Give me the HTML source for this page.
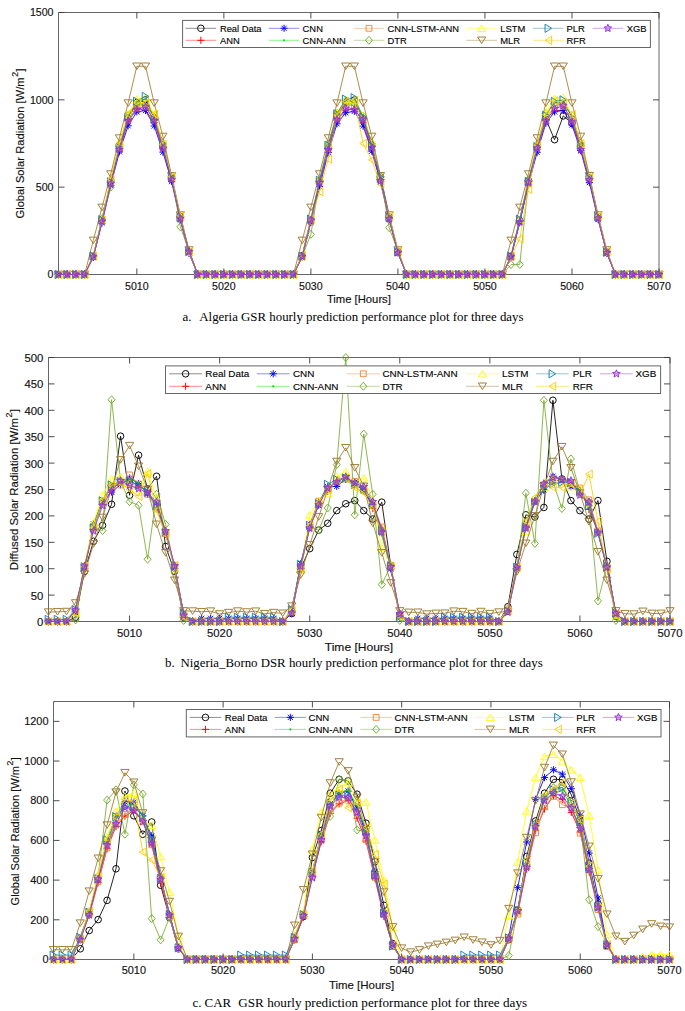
<!DOCTYPE html>
<html><head><meta charset="utf-8"><style>
html,body{margin:0;padding:0;background:#fff;}
svg{display:block;}
text{font-family:"Liberation Sans",sans-serif;stroke:#111;stroke-width:0.14px;}
.cap text{font-family:"Liberation Serif",serif;font-size:13px;fill:#000;stroke:none;}
</style></head><body>
<svg width="685" height="1011" viewBox="0 0 685 1011">
<rect width="685" height="1011" fill="#fff"/>
<path d="M58.5,12.5H659V274.5H58.5Z" fill="none" stroke="#666666" stroke-width="1"/>
<path d="M136.83,274.5v-6M136.83,12.5v6M223.86,274.5v-6M223.86,12.5v6M310.88,274.5v-6M310.88,12.5v6M397.91,274.5v-6M397.91,12.5v6M484.94,274.5v-6M484.94,12.5v6M571.97,274.5v-6M571.97,12.5v6M659,274.5v-6M659,12.5v6M58.5,274.5h6M659,274.5h-6M58.5,187.17h6M659,187.17h-6M58.5,99.83h6M659,99.83h-6M58.5,12.5h6M659,12.5h-6" fill="none" stroke="#3a3a3a" stroke-width="0.9"/>
<g>
<path d="M58.5,274.5 L67.2,274.5 L75.91,274.5 L84.61,274.5 L93.31,256.55 L102.01,219.7 L110.72,180.93 L119.42,145.63 L128.12,118.79 L136.83,102.53 L145.53,99.71 L154.23,118.54 L162.93,147.08 L171.64,178.76 L180.34,216.52 L189.04,251.61 L197.75,274.5 L206.45,274.5 L215.15,274.5 L223.86,274.5 L232.56,274.5 L241.26,274.5 L249.96,274.5 L258.67,274.5 L267.37,274.5 L276.07,274.5 L284.78,274.5 L293.48,274.5 L302.18,255.74 L310.88,220.4 L319.59,181.55 L328.29,148.26 L336.99,116.01 L345.7,102.07 L354.4,99.98 L363.1,118.2 L371.8,145 L380.51,177.05 L389.21,216.89 L397.91,251.94 L406.62,274.5 L415.32,274.5 L424.02,274.5 L432.72,274.5 L441.43,274.5 L450.13,274.5 L458.83,274.5 L467.54,274.5 L476.24,274.5 L484.94,274.5 L493.64,274.5 L502.35,274.5 L511.05,256.29 L519.75,220.52 L528.46,180.75 L537.16,146.29 L545.86,119.05 L554.57,139.66 L563.27,115.9 L571.97,123.24 L580.67,145.69 L589.38,178.13 L598.08,216.6 L606.78,251.92 L615.49,274.5 L624.19,274.5 L632.89,274.5 L641.59,274.5 L650.3,274.5 L659,274.5" fill="none" stroke="#000000" stroke-width="0.85" stroke-linejoin="round"/>
<path d="M55.2,274.5a3.3,3.3 0 1,0 6.6,0a3.3,3.3 0 1,0 -6.6,0M63.9,274.5a3.3,3.3 0 1,0 6.6,0a3.3,3.3 0 1,0 -6.6,0M72.61,274.5a3.3,3.3 0 1,0 6.6,0a3.3,3.3 0 1,0 -6.6,0M81.31,274.5a3.3,3.3 0 1,0 6.6,0a3.3,3.3 0 1,0 -6.6,0M90.01,256.55a3.3,3.3 0 1,0 6.6,0a3.3,3.3 0 1,0 -6.6,0M98.71,219.7a3.3,3.3 0 1,0 6.6,0a3.3,3.3 0 1,0 -6.6,0M107.42,180.93a3.3,3.3 0 1,0 6.6,0a3.3,3.3 0 1,0 -6.6,0M116.12,145.63a3.3,3.3 0 1,0 6.6,0a3.3,3.3 0 1,0 -6.6,0M124.82,118.79a3.3,3.3 0 1,0 6.6,0a3.3,3.3 0 1,0 -6.6,0M133.53,102.53a3.3,3.3 0 1,0 6.6,0a3.3,3.3 0 1,0 -6.6,0M142.23,99.71a3.3,3.3 0 1,0 6.6,0a3.3,3.3 0 1,0 -6.6,0M150.93,118.54a3.3,3.3 0 1,0 6.6,0a3.3,3.3 0 1,0 -6.6,0M159.63,147.08a3.3,3.3 0 1,0 6.6,0a3.3,3.3 0 1,0 -6.6,0M168.34,178.76a3.3,3.3 0 1,0 6.6,0a3.3,3.3 0 1,0 -6.6,0M177.04,216.52a3.3,3.3 0 1,0 6.6,0a3.3,3.3 0 1,0 -6.6,0M185.74,251.61a3.3,3.3 0 1,0 6.6,0a3.3,3.3 0 1,0 -6.6,0M194.45,274.5a3.3,3.3 0 1,0 6.6,0a3.3,3.3 0 1,0 -6.6,0M203.15,274.5a3.3,3.3 0 1,0 6.6,0a3.3,3.3 0 1,0 -6.6,0M211.85,274.5a3.3,3.3 0 1,0 6.6,0a3.3,3.3 0 1,0 -6.6,0M220.56,274.5a3.3,3.3 0 1,0 6.6,0a3.3,3.3 0 1,0 -6.6,0M229.26,274.5a3.3,3.3 0 1,0 6.6,0a3.3,3.3 0 1,0 -6.6,0M237.96,274.5a3.3,3.3 0 1,0 6.6,0a3.3,3.3 0 1,0 -6.6,0M246.66,274.5a3.3,3.3 0 1,0 6.6,0a3.3,3.3 0 1,0 -6.6,0M255.37,274.5a3.3,3.3 0 1,0 6.6,0a3.3,3.3 0 1,0 -6.6,0M264.07,274.5a3.3,3.3 0 1,0 6.6,0a3.3,3.3 0 1,0 -6.6,0M272.77,274.5a3.3,3.3 0 1,0 6.6,0a3.3,3.3 0 1,0 -6.6,0M281.48,274.5a3.3,3.3 0 1,0 6.6,0a3.3,3.3 0 1,0 -6.6,0M290.18,274.5a3.3,3.3 0 1,0 6.6,0a3.3,3.3 0 1,0 -6.6,0M298.88,255.74a3.3,3.3 0 1,0 6.6,0a3.3,3.3 0 1,0 -6.6,0M307.58,220.4a3.3,3.3 0 1,0 6.6,0a3.3,3.3 0 1,0 -6.6,0M316.29,181.55a3.3,3.3 0 1,0 6.6,0a3.3,3.3 0 1,0 -6.6,0M324.99,148.26a3.3,3.3 0 1,0 6.6,0a3.3,3.3 0 1,0 -6.6,0M333.69,116.01a3.3,3.3 0 1,0 6.6,0a3.3,3.3 0 1,0 -6.6,0M342.4,102.07a3.3,3.3 0 1,0 6.6,0a3.3,3.3 0 1,0 -6.6,0M351.1,99.98a3.3,3.3 0 1,0 6.6,0a3.3,3.3 0 1,0 -6.6,0M359.8,118.2a3.3,3.3 0 1,0 6.6,0a3.3,3.3 0 1,0 -6.6,0M368.5,145a3.3,3.3 0 1,0 6.6,0a3.3,3.3 0 1,0 -6.6,0M377.21,177.05a3.3,3.3 0 1,0 6.6,0a3.3,3.3 0 1,0 -6.6,0M385.91,216.89a3.3,3.3 0 1,0 6.6,0a3.3,3.3 0 1,0 -6.6,0M394.61,251.94a3.3,3.3 0 1,0 6.6,0a3.3,3.3 0 1,0 -6.6,0M403.32,274.5a3.3,3.3 0 1,0 6.6,0a3.3,3.3 0 1,0 -6.6,0M412.02,274.5a3.3,3.3 0 1,0 6.6,0a3.3,3.3 0 1,0 -6.6,0M420.72,274.5a3.3,3.3 0 1,0 6.6,0a3.3,3.3 0 1,0 -6.6,0M429.42,274.5a3.3,3.3 0 1,0 6.6,0a3.3,3.3 0 1,0 -6.6,0M438.13,274.5a3.3,3.3 0 1,0 6.6,0a3.3,3.3 0 1,0 -6.6,0M446.83,274.5a3.3,3.3 0 1,0 6.6,0a3.3,3.3 0 1,0 -6.6,0M455.53,274.5a3.3,3.3 0 1,0 6.6,0a3.3,3.3 0 1,0 -6.6,0M464.24,274.5a3.3,3.3 0 1,0 6.6,0a3.3,3.3 0 1,0 -6.6,0M472.94,274.5a3.3,3.3 0 1,0 6.6,0a3.3,3.3 0 1,0 -6.6,0M481.64,274.5a3.3,3.3 0 1,0 6.6,0a3.3,3.3 0 1,0 -6.6,0M490.34,274.5a3.3,3.3 0 1,0 6.6,0a3.3,3.3 0 1,0 -6.6,0M499.05,274.5a3.3,3.3 0 1,0 6.6,0a3.3,3.3 0 1,0 -6.6,0M507.75,256.29a3.3,3.3 0 1,0 6.6,0a3.3,3.3 0 1,0 -6.6,0M516.45,220.52a3.3,3.3 0 1,0 6.6,0a3.3,3.3 0 1,0 -6.6,0M525.16,180.75a3.3,3.3 0 1,0 6.6,0a3.3,3.3 0 1,0 -6.6,0M533.86,146.29a3.3,3.3 0 1,0 6.6,0a3.3,3.3 0 1,0 -6.6,0M542.56,119.05a3.3,3.3 0 1,0 6.6,0a3.3,3.3 0 1,0 -6.6,0M551.27,139.66a3.3,3.3 0 1,0 6.6,0a3.3,3.3 0 1,0 -6.6,0M559.97,115.9a3.3,3.3 0 1,0 6.6,0a3.3,3.3 0 1,0 -6.6,0M568.67,123.24a3.3,3.3 0 1,0 6.6,0a3.3,3.3 0 1,0 -6.6,0M577.37,145.69a3.3,3.3 0 1,0 6.6,0a3.3,3.3 0 1,0 -6.6,0M586.08,178.13a3.3,3.3 0 1,0 6.6,0a3.3,3.3 0 1,0 -6.6,0M594.78,216.6a3.3,3.3 0 1,0 6.6,0a3.3,3.3 0 1,0 -6.6,0M603.48,251.92a3.3,3.3 0 1,0 6.6,0a3.3,3.3 0 1,0 -6.6,0M612.19,274.5a3.3,3.3 0 1,0 6.6,0a3.3,3.3 0 1,0 -6.6,0M620.89,274.5a3.3,3.3 0 1,0 6.6,0a3.3,3.3 0 1,0 -6.6,0M629.59,274.5a3.3,3.3 0 1,0 6.6,0a3.3,3.3 0 1,0 -6.6,0M638.29,274.5a3.3,3.3 0 1,0 6.6,0a3.3,3.3 0 1,0 -6.6,0M647,274.5a3.3,3.3 0 1,0 6.6,0a3.3,3.3 0 1,0 -6.6,0M655.7,274.5a3.3,3.3 0 1,0 6.6,0a3.3,3.3 0 1,0 -6.6,0" fill="none" stroke="#000000" stroke-width="0.95"/>
<path d="M58.5,274.5 L67.2,274.5 L75.91,274.5 L84.61,274.5 L93.31,257.08 L102.01,220.23 L110.72,183.04 L119.42,150.38 L128.12,120.77 L136.83,108.64 L145.53,110.29 L154.23,122.43 L162.93,148.71 L171.64,179.94 L180.34,219.01 L189.04,252.85 L197.75,274.5 L206.45,274.5 L215.15,274.5 L223.86,274.5 L232.56,274.5 L241.26,274.5 L249.96,274.5 L258.67,274.5 L267.37,274.5 L276.07,274.5 L284.78,274.5 L293.48,274.5 L302.18,256.4 L310.88,220.95 L319.59,182.51 L328.29,149.6 L336.99,120.37 L345.7,110.17 L354.4,108.23 L363.1,122.77 L371.8,149.66 L380.51,181.18 L389.21,219.51 L397.91,252.46 L406.62,274.5 L415.32,274.5 L424.02,274.5 L432.72,274.5 L441.43,274.5 L450.13,274.5 L458.83,274.5 L467.54,274.5 L476.24,274.5 L484.94,274.5 L493.64,274.5 L502.35,274.5 L511.05,256.78 L519.75,221.25 L528.46,182.68 L537.16,149.18 L545.86,119.29 L554.57,110.7 L563.27,110.23 L571.97,119.13 L580.67,147.78 L589.38,178.89 L598.08,217.65 L606.78,253.18 L615.49,274.5 L624.19,274.5 L632.89,274.5 L641.59,274.5 L650.3,274.5 L659,274.5" fill="none" stroke="#ff0000" stroke-width="0.85" stroke-linejoin="round"/>
<path d="M54.9,274.5h7.2M58.5,270.9v7.2M63.6,274.5h7.2M67.2,270.9v7.2M72.31,274.5h7.2M75.91,270.9v7.2M81.01,274.5h7.2M84.61,270.9v7.2M89.71,257.08h7.2M93.31,253.48v7.2M98.41,220.23h7.2M102.01,216.63v7.2M107.12,183.04h7.2M110.72,179.44v7.2M115.82,150.38h7.2M119.42,146.78v7.2M124.52,120.77h7.2M128.12,117.17v7.2M133.23,108.64h7.2M136.83,105.04v7.2M141.93,110.29h7.2M145.53,106.69v7.2M150.63,122.43h7.2M154.23,118.83v7.2M159.33,148.71h7.2M162.93,145.11v7.2M168.04,179.94h7.2M171.64,176.34v7.2M176.74,219.01h7.2M180.34,215.41v7.2M185.44,252.85h7.2M189.04,249.25v7.2M194.15,274.5h7.2M197.75,270.9v7.2M202.85,274.5h7.2M206.45,270.9v7.2M211.55,274.5h7.2M215.15,270.9v7.2M220.26,274.5h7.2M223.86,270.9v7.2M228.96,274.5h7.2M232.56,270.9v7.2M237.66,274.5h7.2M241.26,270.9v7.2M246.36,274.5h7.2M249.96,270.9v7.2M255.07,274.5h7.2M258.67,270.9v7.2M263.77,274.5h7.2M267.37,270.9v7.2M272.47,274.5h7.2M276.07,270.9v7.2M281.18,274.5h7.2M284.78,270.9v7.2M289.88,274.5h7.2M293.48,270.9v7.2M298.58,256.4h7.2M302.18,252.8v7.2M307.28,220.95h7.2M310.88,217.35v7.2M315.99,182.51h7.2M319.59,178.91v7.2M324.69,149.6h7.2M328.29,146v7.2M333.39,120.37h7.2M336.99,116.77v7.2M342.1,110.17h7.2M345.7,106.57v7.2M350.8,108.23h7.2M354.4,104.63v7.2M359.5,122.77h7.2M363.1,119.17v7.2M368.2,149.66h7.2M371.8,146.06v7.2M376.91,181.18h7.2M380.51,177.58v7.2M385.61,219.51h7.2M389.21,215.91v7.2M394.31,252.46h7.2M397.91,248.86v7.2M403.02,274.5h7.2M406.62,270.9v7.2M411.72,274.5h7.2M415.32,270.9v7.2M420.42,274.5h7.2M424.02,270.9v7.2M429.12,274.5h7.2M432.72,270.9v7.2M437.83,274.5h7.2M441.43,270.9v7.2M446.53,274.5h7.2M450.13,270.9v7.2M455.23,274.5h7.2M458.83,270.9v7.2M463.94,274.5h7.2M467.54,270.9v7.2M472.64,274.5h7.2M476.24,270.9v7.2M481.34,274.5h7.2M484.94,270.9v7.2M490.04,274.5h7.2M493.64,270.9v7.2M498.75,274.5h7.2M502.35,270.9v7.2M507.45,256.78h7.2M511.05,253.18v7.2M516.15,221.25h7.2M519.75,217.65v7.2M524.86,182.68h7.2M528.46,179.08v7.2M533.56,149.18h7.2M537.16,145.58v7.2M542.26,119.29h7.2M545.86,115.69v7.2M550.97,110.7h7.2M554.57,107.1v7.2M559.67,110.23h7.2M563.27,106.63v7.2M568.37,119.13h7.2M571.97,115.53v7.2M577.07,147.78h7.2M580.67,144.18v7.2M585.78,178.89h7.2M589.38,175.29v7.2M594.48,217.65h7.2M598.08,214.05v7.2M603.18,253.18h7.2M606.78,249.58v7.2M611.89,274.5h7.2M615.49,270.9v7.2M620.59,274.5h7.2M624.19,270.9v7.2M629.29,274.5h7.2M632.89,270.9v7.2M637.99,274.5h7.2M641.59,270.9v7.2M646.7,274.5h7.2M650.3,270.9v7.2M655.4,274.5h7.2M659,270.9v7.2" fill="none" stroke="#ff0000" stroke-width="0.95"/>
<path d="M58.5,274.5 L67.2,274.5 L75.91,274.5 L84.61,274.5 L93.31,257.12 L102.01,222.87 L110.72,185.44 L119.42,151.86 L128.12,125.76 L136.83,111.86 L145.53,110.55 L154.23,125.98 L162.93,152.12 L171.64,181.56 L180.34,219.96 L189.04,253.19 L197.75,274.5 L206.45,274.5 L215.15,274.5 L223.86,274.5 L232.56,274.5 L241.26,274.5 L249.96,274.5 L258.67,274.5 L267.37,274.5 L276.07,274.5 L284.78,274.5 L293.48,274.5 L302.18,257.12 L310.88,222.35 L319.59,186.62 L328.29,152.53 L336.99,123.77 L345.7,112.76 L354.4,111.23 L363.1,126.09 L371.8,151.16 L380.51,182.09 L389.21,219.12 L397.91,252.73 L406.62,274.5 L415.32,274.5 L424.02,274.5 L432.72,274.5 L441.43,274.5 L450.13,274.5 L458.83,274.5 L467.54,274.5 L476.24,274.5 L484.94,274.5 L493.64,274.5 L502.35,274.5 L511.05,256.53 L519.75,222.64 L528.46,184.46 L537.16,152.28 L545.86,123.21 L554.57,111.83 L563.27,110.47 L571.97,124.91 L580.67,150.6 L589.38,182.58 L598.08,219.55 L606.78,252.96 L615.49,274.5 L624.19,274.5 L632.89,274.5 L641.59,274.5 L650.3,274.5 L659,274.5" fill="none" stroke="#0000ff" stroke-width="0.85" stroke-linejoin="round"/>
<path d="M54.9,274.5h7.2M58.5,270.9v7.2M55.9,271.9l5.2,5.2M55.9,277.1l5.2,-5.2M63.6,274.5h7.2M67.2,270.9v7.2M64.6,271.9l5.2,5.2M64.6,277.1l5.2,-5.2M72.31,274.5h7.2M75.91,270.9v7.2M73.31,271.9l5.2,5.2M73.31,277.1l5.2,-5.2M81.01,274.5h7.2M84.61,270.9v7.2M82.01,271.9l5.2,5.2M82.01,277.1l5.2,-5.2M89.71,257.12h7.2M93.31,253.52v7.2M90.71,254.52l5.2,5.2M90.71,259.72l5.2,-5.2M98.41,222.87h7.2M102.01,219.27v7.2M99.41,220.27l5.2,5.2M99.41,225.47l5.2,-5.2M107.12,185.44h7.2M110.72,181.84v7.2M108.12,182.84l5.2,5.2M108.12,188.04l5.2,-5.2M115.82,151.86h7.2M119.42,148.26v7.2M116.82,149.26l5.2,5.2M116.82,154.46l5.2,-5.2M124.52,125.76h7.2M128.12,122.16v7.2M125.52,123.16l5.2,5.2M125.52,128.36l5.2,-5.2M133.23,111.86h7.2M136.83,108.26v7.2M134.23,109.26l5.2,5.2M134.23,114.46l5.2,-5.2M141.93,110.55h7.2M145.53,106.95v7.2M142.93,107.95l5.2,5.2M142.93,113.15l5.2,-5.2M150.63,125.98h7.2M154.23,122.38v7.2M151.63,123.38l5.2,5.2M151.63,128.58l5.2,-5.2M159.33,152.12h7.2M162.93,148.52v7.2M160.33,149.52l5.2,5.2M160.33,154.72l5.2,-5.2M168.04,181.56h7.2M171.64,177.96v7.2M169.04,178.96l5.2,5.2M169.04,184.16l5.2,-5.2M176.74,219.96h7.2M180.34,216.36v7.2M177.74,217.36l5.2,5.2M177.74,222.56l5.2,-5.2M185.44,253.19h7.2M189.04,249.59v7.2M186.44,250.59l5.2,5.2M186.44,255.79l5.2,-5.2M194.15,274.5h7.2M197.75,270.9v7.2M195.15,271.9l5.2,5.2M195.15,277.1l5.2,-5.2M202.85,274.5h7.2M206.45,270.9v7.2M203.85,271.9l5.2,5.2M203.85,277.1l5.2,-5.2M211.55,274.5h7.2M215.15,270.9v7.2M212.55,271.9l5.2,5.2M212.55,277.1l5.2,-5.2M220.26,274.5h7.2M223.86,270.9v7.2M221.26,271.9l5.2,5.2M221.26,277.1l5.2,-5.2M228.96,274.5h7.2M232.56,270.9v7.2M229.96,271.9l5.2,5.2M229.96,277.1l5.2,-5.2M237.66,274.5h7.2M241.26,270.9v7.2M238.66,271.9l5.2,5.2M238.66,277.1l5.2,-5.2M246.36,274.5h7.2M249.96,270.9v7.2M247.36,271.9l5.2,5.2M247.36,277.1l5.2,-5.2M255.07,274.5h7.2M258.67,270.9v7.2M256.07,271.9l5.2,5.2M256.07,277.1l5.2,-5.2M263.77,274.5h7.2M267.37,270.9v7.2M264.77,271.9l5.2,5.2M264.77,277.1l5.2,-5.2M272.47,274.5h7.2M276.07,270.9v7.2M273.47,271.9l5.2,5.2M273.47,277.1l5.2,-5.2M281.18,274.5h7.2M284.78,270.9v7.2M282.18,271.9l5.2,5.2M282.18,277.1l5.2,-5.2M289.88,274.5h7.2M293.48,270.9v7.2M290.88,271.9l5.2,5.2M290.88,277.1l5.2,-5.2M298.58,257.12h7.2M302.18,253.52v7.2M299.58,254.52l5.2,5.2M299.58,259.72l5.2,-5.2M307.28,222.35h7.2M310.88,218.75v7.2M308.28,219.75l5.2,5.2M308.28,224.95l5.2,-5.2M315.99,186.62h7.2M319.59,183.02v7.2M316.99,184.02l5.2,5.2M316.99,189.22l5.2,-5.2M324.69,152.53h7.2M328.29,148.93v7.2M325.69,149.93l5.2,5.2M325.69,155.13l5.2,-5.2M333.39,123.77h7.2M336.99,120.17v7.2M334.39,121.17l5.2,5.2M334.39,126.37l5.2,-5.2M342.1,112.76h7.2M345.7,109.16v7.2M343.1,110.16l5.2,5.2M343.1,115.36l5.2,-5.2M350.8,111.23h7.2M354.4,107.63v7.2M351.8,108.63l5.2,5.2M351.8,113.83l5.2,-5.2M359.5,126.09h7.2M363.1,122.49v7.2M360.5,123.49l5.2,5.2M360.5,128.69l5.2,-5.2M368.2,151.16h7.2M371.8,147.56v7.2M369.2,148.56l5.2,5.2M369.2,153.76l5.2,-5.2M376.91,182.09h7.2M380.51,178.49v7.2M377.91,179.49l5.2,5.2M377.91,184.69l5.2,-5.2M385.61,219.12h7.2M389.21,215.52v7.2M386.61,216.52l5.2,5.2M386.61,221.72l5.2,-5.2M394.31,252.73h7.2M397.91,249.13v7.2M395.31,250.13l5.2,5.2M395.31,255.33l5.2,-5.2M403.02,274.5h7.2M406.62,270.9v7.2M404.02,271.9l5.2,5.2M404.02,277.1l5.2,-5.2M411.72,274.5h7.2M415.32,270.9v7.2M412.72,271.9l5.2,5.2M412.72,277.1l5.2,-5.2M420.42,274.5h7.2M424.02,270.9v7.2M421.42,271.9l5.2,5.2M421.42,277.1l5.2,-5.2M429.12,274.5h7.2M432.72,270.9v7.2M430.12,271.9l5.2,5.2M430.12,277.1l5.2,-5.2M437.83,274.5h7.2M441.43,270.9v7.2M438.83,271.9l5.2,5.2M438.83,277.1l5.2,-5.2M446.53,274.5h7.2M450.13,270.9v7.2M447.53,271.9l5.2,5.2M447.53,277.1l5.2,-5.2M455.23,274.5h7.2M458.83,270.9v7.2M456.23,271.9l5.2,5.2M456.23,277.1l5.2,-5.2M463.94,274.5h7.2M467.54,270.9v7.2M464.94,271.9l5.2,5.2M464.94,277.1l5.2,-5.2M472.64,274.5h7.2M476.24,270.9v7.2M473.64,271.9l5.2,5.2M473.64,277.1l5.2,-5.2M481.34,274.5h7.2M484.94,270.9v7.2M482.34,271.9l5.2,5.2M482.34,277.1l5.2,-5.2M490.04,274.5h7.2M493.64,270.9v7.2M491.04,271.9l5.2,5.2M491.04,277.1l5.2,-5.2M498.75,274.5h7.2M502.35,270.9v7.2M499.75,271.9l5.2,5.2M499.75,277.1l5.2,-5.2M507.45,256.53h7.2M511.05,252.93v7.2M508.45,253.93l5.2,5.2M508.45,259.13l5.2,-5.2M516.15,222.64h7.2M519.75,219.04v7.2M517.15,220.04l5.2,5.2M517.15,225.24l5.2,-5.2M524.86,184.46h7.2M528.46,180.86v7.2M525.86,181.86l5.2,5.2M525.86,187.06l5.2,-5.2M533.56,152.28h7.2M537.16,148.68v7.2M534.56,149.68l5.2,5.2M534.56,154.88l5.2,-5.2M542.26,123.21h7.2M545.86,119.61v7.2M543.26,120.61l5.2,5.2M543.26,125.81l5.2,-5.2M550.97,111.83h7.2M554.57,108.23v7.2M551.97,109.23l5.2,5.2M551.97,114.43l5.2,-5.2M559.67,110.47h7.2M563.27,106.87v7.2M560.67,107.87l5.2,5.2M560.67,113.07l5.2,-5.2M568.37,124.91h7.2M571.97,121.31v7.2M569.37,122.31l5.2,5.2M569.37,127.51l5.2,-5.2M577.07,150.6h7.2M580.67,147v7.2M578.07,148l5.2,5.2M578.07,153.2l5.2,-5.2M585.78,182.58h7.2M589.38,178.98v7.2M586.78,179.98l5.2,5.2M586.78,185.18l5.2,-5.2M594.48,219.55h7.2M598.08,215.95v7.2M595.48,216.95l5.2,5.2M595.48,222.15l5.2,-5.2M603.18,252.96h7.2M606.78,249.36v7.2M604.18,250.36l5.2,5.2M604.18,255.56l5.2,-5.2M611.89,274.5h7.2M615.49,270.9v7.2M612.89,271.9l5.2,5.2M612.89,277.1l5.2,-5.2M620.59,274.5h7.2M624.19,270.9v7.2M621.59,271.9l5.2,5.2M621.59,277.1l5.2,-5.2M629.29,274.5h7.2M632.89,270.9v7.2M630.29,271.9l5.2,5.2M630.29,277.1l5.2,-5.2M637.99,274.5h7.2M641.59,270.9v7.2M638.99,271.9l5.2,5.2M638.99,277.1l5.2,-5.2M646.7,274.5h7.2M650.3,270.9v7.2M647.7,271.9l5.2,5.2M647.7,277.1l5.2,-5.2M655.4,274.5h7.2M659,270.9v7.2M656.4,271.9l5.2,5.2M656.4,277.1l5.2,-5.2" fill="none" stroke="#0000ff" stroke-width="0.95"/>
<path d="M58.5,274.5 L67.2,274.5 L75.91,274.5 L84.61,274.5 L93.31,256 L102.01,219.19 L110.72,181.66 L119.42,145.54 L128.12,115.49 L136.83,102.11 L145.53,105.22 L154.23,116.07 L162.93,145.85 L171.64,177.71 L180.34,217.34 L189.04,251.44 L197.75,274.5 L206.45,274.5 L215.15,274.5 L223.86,274.5 L232.56,274.5 L241.26,274.5 L249.96,274.5 L258.67,274.5 L267.37,274.5 L276.07,274.5 L284.78,274.5 L293.48,274.5 L302.18,255.79 L310.88,219.25 L319.59,181.18 L328.29,144.46 L336.99,115.17 L345.7,104.44 L354.4,103.6 L363.1,114.63 L371.8,144.06 L380.51,177.37 L389.21,217.38 L397.91,252.57 L406.62,274.5 L415.32,274.5 L424.02,274.5 L432.72,274.5 L441.43,274.5 L450.13,274.5 L458.83,274.5 L467.54,274.5 L476.24,274.5 L484.94,274.5 L493.64,274.5 L502.35,274.5 L511.05,256.53 L519.75,219.12 L528.46,181.38 L537.16,143.12 L545.86,114.96 L554.57,102.54 L563.27,102.77 L571.97,116.61 L580.67,144.27 L589.38,177.97 L598.08,217.2 L606.78,251.61 L615.49,274.5 L624.19,274.5 L632.89,274.5 L641.59,274.5 L650.3,274.5 L659,274.5" fill="none" stroke="#00e000" stroke-width="0.85" stroke-linejoin="round"/>
<path d="M57.4,274.5a1.1,1.1 0 1,0 2.2,0a1.1,1.1 0 1,0 -2.2,0M66.1,274.5a1.1,1.1 0 1,0 2.2,0a1.1,1.1 0 1,0 -2.2,0M74.81,274.5a1.1,1.1 0 1,0 2.2,0a1.1,1.1 0 1,0 -2.2,0M83.51,274.5a1.1,1.1 0 1,0 2.2,0a1.1,1.1 0 1,0 -2.2,0M92.21,256a1.1,1.1 0 1,0 2.2,0a1.1,1.1 0 1,0 -2.2,0M100.91,219.19a1.1,1.1 0 1,0 2.2,0a1.1,1.1 0 1,0 -2.2,0M109.62,181.66a1.1,1.1 0 1,0 2.2,0a1.1,1.1 0 1,0 -2.2,0M118.32,145.54a1.1,1.1 0 1,0 2.2,0a1.1,1.1 0 1,0 -2.2,0M127.02,115.49a1.1,1.1 0 1,0 2.2,0a1.1,1.1 0 1,0 -2.2,0M135.73,102.11a1.1,1.1 0 1,0 2.2,0a1.1,1.1 0 1,0 -2.2,0M144.43,105.22a1.1,1.1 0 1,0 2.2,0a1.1,1.1 0 1,0 -2.2,0M153.13,116.07a1.1,1.1 0 1,0 2.2,0a1.1,1.1 0 1,0 -2.2,0M161.83,145.85a1.1,1.1 0 1,0 2.2,0a1.1,1.1 0 1,0 -2.2,0M170.54,177.71a1.1,1.1 0 1,0 2.2,0a1.1,1.1 0 1,0 -2.2,0M179.24,217.34a1.1,1.1 0 1,0 2.2,0a1.1,1.1 0 1,0 -2.2,0M187.94,251.44a1.1,1.1 0 1,0 2.2,0a1.1,1.1 0 1,0 -2.2,0M196.65,274.5a1.1,1.1 0 1,0 2.2,0a1.1,1.1 0 1,0 -2.2,0M205.35,274.5a1.1,1.1 0 1,0 2.2,0a1.1,1.1 0 1,0 -2.2,0M214.05,274.5a1.1,1.1 0 1,0 2.2,0a1.1,1.1 0 1,0 -2.2,0M222.76,274.5a1.1,1.1 0 1,0 2.2,0a1.1,1.1 0 1,0 -2.2,0M231.46,274.5a1.1,1.1 0 1,0 2.2,0a1.1,1.1 0 1,0 -2.2,0M240.16,274.5a1.1,1.1 0 1,0 2.2,0a1.1,1.1 0 1,0 -2.2,0M248.86,274.5a1.1,1.1 0 1,0 2.2,0a1.1,1.1 0 1,0 -2.2,0M257.57,274.5a1.1,1.1 0 1,0 2.2,0a1.1,1.1 0 1,0 -2.2,0M266.27,274.5a1.1,1.1 0 1,0 2.2,0a1.1,1.1 0 1,0 -2.2,0M274.97,274.5a1.1,1.1 0 1,0 2.2,0a1.1,1.1 0 1,0 -2.2,0M283.68,274.5a1.1,1.1 0 1,0 2.2,0a1.1,1.1 0 1,0 -2.2,0M292.38,274.5a1.1,1.1 0 1,0 2.2,0a1.1,1.1 0 1,0 -2.2,0M301.08,255.79a1.1,1.1 0 1,0 2.2,0a1.1,1.1 0 1,0 -2.2,0M309.78,219.25a1.1,1.1 0 1,0 2.2,0a1.1,1.1 0 1,0 -2.2,0M318.49,181.18a1.1,1.1 0 1,0 2.2,0a1.1,1.1 0 1,0 -2.2,0M327.19,144.46a1.1,1.1 0 1,0 2.2,0a1.1,1.1 0 1,0 -2.2,0M335.89,115.17a1.1,1.1 0 1,0 2.2,0a1.1,1.1 0 1,0 -2.2,0M344.6,104.44a1.1,1.1 0 1,0 2.2,0a1.1,1.1 0 1,0 -2.2,0M353.3,103.6a1.1,1.1 0 1,0 2.2,0a1.1,1.1 0 1,0 -2.2,0M362,114.63a1.1,1.1 0 1,0 2.2,0a1.1,1.1 0 1,0 -2.2,0M370.7,144.06a1.1,1.1 0 1,0 2.2,0a1.1,1.1 0 1,0 -2.2,0M379.41,177.37a1.1,1.1 0 1,0 2.2,0a1.1,1.1 0 1,0 -2.2,0M388.11,217.38a1.1,1.1 0 1,0 2.2,0a1.1,1.1 0 1,0 -2.2,0M396.81,252.57a1.1,1.1 0 1,0 2.2,0a1.1,1.1 0 1,0 -2.2,0M405.52,274.5a1.1,1.1 0 1,0 2.2,0a1.1,1.1 0 1,0 -2.2,0M414.22,274.5a1.1,1.1 0 1,0 2.2,0a1.1,1.1 0 1,0 -2.2,0M422.92,274.5a1.1,1.1 0 1,0 2.2,0a1.1,1.1 0 1,0 -2.2,0M431.62,274.5a1.1,1.1 0 1,0 2.2,0a1.1,1.1 0 1,0 -2.2,0M440.33,274.5a1.1,1.1 0 1,0 2.2,0a1.1,1.1 0 1,0 -2.2,0M449.03,274.5a1.1,1.1 0 1,0 2.2,0a1.1,1.1 0 1,0 -2.2,0M457.73,274.5a1.1,1.1 0 1,0 2.2,0a1.1,1.1 0 1,0 -2.2,0M466.44,274.5a1.1,1.1 0 1,0 2.2,0a1.1,1.1 0 1,0 -2.2,0M475.14,274.5a1.1,1.1 0 1,0 2.2,0a1.1,1.1 0 1,0 -2.2,0M483.84,274.5a1.1,1.1 0 1,0 2.2,0a1.1,1.1 0 1,0 -2.2,0M492.54,274.5a1.1,1.1 0 1,0 2.2,0a1.1,1.1 0 1,0 -2.2,0M501.25,274.5a1.1,1.1 0 1,0 2.2,0a1.1,1.1 0 1,0 -2.2,0M509.95,256.53a1.1,1.1 0 1,0 2.2,0a1.1,1.1 0 1,0 -2.2,0M518.65,219.12a1.1,1.1 0 1,0 2.2,0a1.1,1.1 0 1,0 -2.2,0M527.36,181.38a1.1,1.1 0 1,0 2.2,0a1.1,1.1 0 1,0 -2.2,0M536.06,143.12a1.1,1.1 0 1,0 2.2,0a1.1,1.1 0 1,0 -2.2,0M544.76,114.96a1.1,1.1 0 1,0 2.2,0a1.1,1.1 0 1,0 -2.2,0M553.47,102.54a1.1,1.1 0 1,0 2.2,0a1.1,1.1 0 1,0 -2.2,0M562.17,102.77a1.1,1.1 0 1,0 2.2,0a1.1,1.1 0 1,0 -2.2,0M570.87,116.61a1.1,1.1 0 1,0 2.2,0a1.1,1.1 0 1,0 -2.2,0M579.57,144.27a1.1,1.1 0 1,0 2.2,0a1.1,1.1 0 1,0 -2.2,0M588.28,177.97a1.1,1.1 0 1,0 2.2,0a1.1,1.1 0 1,0 -2.2,0M596.98,217.2a1.1,1.1 0 1,0 2.2,0a1.1,1.1 0 1,0 -2.2,0M605.68,251.61a1.1,1.1 0 1,0 2.2,0a1.1,1.1 0 1,0 -2.2,0M614.39,274.5a1.1,1.1 0 1,0 2.2,0a1.1,1.1 0 1,0 -2.2,0M623.09,274.5a1.1,1.1 0 1,0 2.2,0a1.1,1.1 0 1,0 -2.2,0M631.79,274.5a1.1,1.1 0 1,0 2.2,0a1.1,1.1 0 1,0 -2.2,0M640.49,274.5a1.1,1.1 0 1,0 2.2,0a1.1,1.1 0 1,0 -2.2,0M649.2,274.5a1.1,1.1 0 1,0 2.2,0a1.1,1.1 0 1,0 -2.2,0M657.9,274.5a1.1,1.1 0 1,0 2.2,0a1.1,1.1 0 1,0 -2.2,0" fill="#00e000" stroke="none"/>
<path d="M58.5,274.5 L67.2,274.5 L75.91,274.5 L84.61,274.5 L93.31,255.79 L102.01,220.96 L110.72,182.35 L119.42,147.61 L128.12,119.39 L136.83,107.79 L145.53,106.95 L154.23,118.29 L162.93,147.57 L171.64,178.32 L180.34,218.08 L189.04,252.64 L197.75,274.5 L206.45,274.5 L215.15,274.5 L223.86,274.5 L232.56,274.5 L241.26,274.5 L249.96,274.5 L258.67,274.5 L267.37,274.5 L276.07,274.5 L284.78,274.5 L293.48,274.5 L302.18,256.55 L310.88,221.26 L319.59,181.15 L328.29,148.74 L336.99,117.32 L345.7,104.91 L354.4,105.74 L363.1,118.7 L371.8,146.66 L380.51,177.14 L389.21,218.31 L397.91,252.73 L406.62,274.5 L415.32,274.5 L424.02,274.5 L432.72,274.5 L441.43,274.5 L450.13,274.5 L458.83,274.5 L467.54,274.5 L476.24,274.5 L484.94,274.5 L493.64,274.5 L502.35,274.5 L511.05,257.14 L519.75,221.3 L528.46,183.73 L537.16,147.27 L545.86,120.13 L554.57,105.41 L563.27,106.23 L571.97,119.19 L580.67,145.67 L589.38,177.41 L598.08,217.42 L606.78,251.98 L615.49,274.5 L624.19,274.5 L632.89,274.5 L641.59,274.5 L650.3,274.5 L659,274.5" fill="none" stroke="#f0883c" stroke-width="0.85" stroke-linejoin="round"/>
<path d="M55.6,271.6h5.8v5.8h-5.8zM64.3,271.6h5.8v5.8h-5.8zM73.01,271.6h5.8v5.8h-5.8zM81.71,271.6h5.8v5.8h-5.8zM90.41,252.89h5.8v5.8h-5.8zM99.11,218.06h5.8v5.8h-5.8zM107.82,179.45h5.8v5.8h-5.8zM116.52,144.71h5.8v5.8h-5.8zM125.22,116.49h5.8v5.8h-5.8zM133.93,104.89h5.8v5.8h-5.8zM142.63,104.05h5.8v5.8h-5.8zM151.33,115.39h5.8v5.8h-5.8zM160.03,144.67h5.8v5.8h-5.8zM168.74,175.42h5.8v5.8h-5.8zM177.44,215.18h5.8v5.8h-5.8zM186.14,249.74h5.8v5.8h-5.8zM194.85,271.6h5.8v5.8h-5.8zM203.55,271.6h5.8v5.8h-5.8zM212.25,271.6h5.8v5.8h-5.8zM220.96,271.6h5.8v5.8h-5.8zM229.66,271.6h5.8v5.8h-5.8zM238.36,271.6h5.8v5.8h-5.8zM247.06,271.6h5.8v5.8h-5.8zM255.77,271.6h5.8v5.8h-5.8zM264.47,271.6h5.8v5.8h-5.8zM273.17,271.6h5.8v5.8h-5.8zM281.88,271.6h5.8v5.8h-5.8zM290.58,271.6h5.8v5.8h-5.8zM299.28,253.65h5.8v5.8h-5.8zM307.98,218.36h5.8v5.8h-5.8zM316.69,178.25h5.8v5.8h-5.8zM325.39,145.84h5.8v5.8h-5.8zM334.09,114.42h5.8v5.8h-5.8zM342.8,102.01h5.8v5.8h-5.8zM351.5,102.84h5.8v5.8h-5.8zM360.2,115.8h5.8v5.8h-5.8zM368.9,143.76h5.8v5.8h-5.8zM377.61,174.24h5.8v5.8h-5.8zM386.31,215.41h5.8v5.8h-5.8zM395.01,249.83h5.8v5.8h-5.8zM403.72,271.6h5.8v5.8h-5.8zM412.42,271.6h5.8v5.8h-5.8zM421.12,271.6h5.8v5.8h-5.8zM429.82,271.6h5.8v5.8h-5.8zM438.53,271.6h5.8v5.8h-5.8zM447.23,271.6h5.8v5.8h-5.8zM455.93,271.6h5.8v5.8h-5.8zM464.64,271.6h5.8v5.8h-5.8zM473.34,271.6h5.8v5.8h-5.8zM482.04,271.6h5.8v5.8h-5.8zM490.74,271.6h5.8v5.8h-5.8zM499.45,271.6h5.8v5.8h-5.8zM508.15,254.24h5.8v5.8h-5.8zM516.85,218.4h5.8v5.8h-5.8zM525.56,180.83h5.8v5.8h-5.8zM534.26,144.37h5.8v5.8h-5.8zM542.96,117.23h5.8v5.8h-5.8zM551.67,102.51h5.8v5.8h-5.8zM560.37,103.33h5.8v5.8h-5.8zM569.07,116.29h5.8v5.8h-5.8zM577.77,142.77h5.8v5.8h-5.8zM586.48,174.51h5.8v5.8h-5.8zM595.18,214.52h5.8v5.8h-5.8zM603.88,249.08h5.8v5.8h-5.8zM612.59,271.6h5.8v5.8h-5.8zM621.29,271.6h5.8v5.8h-5.8zM629.99,271.6h5.8v5.8h-5.8zM638.69,271.6h5.8v5.8h-5.8zM647.4,271.6h5.8v5.8h-5.8zM656.1,271.6h5.8v5.8h-5.8z" fill="none" stroke="#f0883c" stroke-width="0.95"/>
<path d="M58.5,274.5 L67.2,274.5 L75.91,274.5 L84.61,274.5 L93.31,256.19 L102.01,218.79 L110.72,187.17 L119.42,146.32 L128.12,115.81 L136.83,104.34 L145.53,104.18 L154.23,117.07 L162.93,144.03 L171.64,176.26 L180.34,226.82 L189.04,251.18 L197.75,274.5 L206.45,274.5 L215.15,274.5 L223.86,274.5 L232.56,274.5 L241.26,274.5 L249.96,274.5 L258.67,274.5 L267.37,274.5 L276.07,274.5 L284.78,274.5 L293.48,274.5 L302.18,256.49 L310.88,234.33 L319.59,180.69 L328.29,143.96 L336.99,113.47 L345.7,100.82 L354.4,103.51 L363.1,116.27 L371.8,143.59 L380.51,176.71 L389.21,227.69 L397.91,251.36 L406.62,274.5 L415.32,274.5 L424.02,274.5 L432.72,274.5 L441.43,274.5 L450.13,274.5 L458.83,274.5 L467.54,274.5 L476.24,274.5 L484.94,274.5 L493.64,274.5 L502.35,274.5 L511.05,264.54 L519.75,264.54 L528.46,181.82 L537.16,145 L545.86,113.53 L554.57,103.45 L563.27,105 L571.97,115.51 L580.67,143.81 L589.38,176.18 L598.08,217.15 L606.78,252 L615.49,274.5 L624.19,274.5 L632.89,274.5 L641.59,274.5 L650.3,274.5 L659,274.5" fill="none" stroke="#77ac30" stroke-width="0.85" stroke-linejoin="round"/>
<path d="M58.5,270.5l3.5,4l-3.5,4l-3.5,-4zM67.2,270.5l3.5,4l-3.5,4l-3.5,-4zM75.91,270.5l3.5,4l-3.5,4l-3.5,-4zM84.61,270.5l3.5,4l-3.5,4l-3.5,-4zM93.31,252.19l3.5,4l-3.5,4l-3.5,-4zM102.01,214.79l3.5,4l-3.5,4l-3.5,-4zM110.72,183.17l3.5,4l-3.5,4l-3.5,-4zM119.42,142.32l3.5,4l-3.5,4l-3.5,-4zM128.12,111.81l3.5,4l-3.5,4l-3.5,-4zM136.83,100.34l3.5,4l-3.5,4l-3.5,-4zM145.53,100.18l3.5,4l-3.5,4l-3.5,-4zM154.23,113.07l3.5,4l-3.5,4l-3.5,-4zM162.93,140.03l3.5,4l-3.5,4l-3.5,-4zM171.64,172.26l3.5,4l-3.5,4l-3.5,-4zM180.34,222.82l3.5,4l-3.5,4l-3.5,-4zM189.04,247.18l3.5,4l-3.5,4l-3.5,-4zM197.75,270.5l3.5,4l-3.5,4l-3.5,-4zM206.45,270.5l3.5,4l-3.5,4l-3.5,-4zM215.15,270.5l3.5,4l-3.5,4l-3.5,-4zM223.86,270.5l3.5,4l-3.5,4l-3.5,-4zM232.56,270.5l3.5,4l-3.5,4l-3.5,-4zM241.26,270.5l3.5,4l-3.5,4l-3.5,-4zM249.96,270.5l3.5,4l-3.5,4l-3.5,-4zM258.67,270.5l3.5,4l-3.5,4l-3.5,-4zM267.37,270.5l3.5,4l-3.5,4l-3.5,-4zM276.07,270.5l3.5,4l-3.5,4l-3.5,-4zM284.78,270.5l3.5,4l-3.5,4l-3.5,-4zM293.48,270.5l3.5,4l-3.5,4l-3.5,-4zM302.18,252.49l3.5,4l-3.5,4l-3.5,-4zM310.88,230.33l3.5,4l-3.5,4l-3.5,-4zM319.59,176.69l3.5,4l-3.5,4l-3.5,-4zM328.29,139.96l3.5,4l-3.5,4l-3.5,-4zM336.99,109.47l3.5,4l-3.5,4l-3.5,-4zM345.7,96.82l3.5,4l-3.5,4l-3.5,-4zM354.4,99.51l3.5,4l-3.5,4l-3.5,-4zM363.1,112.27l3.5,4l-3.5,4l-3.5,-4zM371.8,139.59l3.5,4l-3.5,4l-3.5,-4zM380.51,172.71l3.5,4l-3.5,4l-3.5,-4zM389.21,223.69l3.5,4l-3.5,4l-3.5,-4zM397.91,247.36l3.5,4l-3.5,4l-3.5,-4zM406.62,270.5l3.5,4l-3.5,4l-3.5,-4zM415.32,270.5l3.5,4l-3.5,4l-3.5,-4zM424.02,270.5l3.5,4l-3.5,4l-3.5,-4zM432.72,270.5l3.5,4l-3.5,4l-3.5,-4zM441.43,270.5l3.5,4l-3.5,4l-3.5,-4zM450.13,270.5l3.5,4l-3.5,4l-3.5,-4zM458.83,270.5l3.5,4l-3.5,4l-3.5,-4zM467.54,270.5l3.5,4l-3.5,4l-3.5,-4zM476.24,270.5l3.5,4l-3.5,4l-3.5,-4zM484.94,270.5l3.5,4l-3.5,4l-3.5,-4zM493.64,270.5l3.5,4l-3.5,4l-3.5,-4zM502.35,270.5l3.5,4l-3.5,4l-3.5,-4zM511.05,260.54l3.5,4l-3.5,4l-3.5,-4zM519.75,260.54l3.5,4l-3.5,4l-3.5,-4zM528.46,177.82l3.5,4l-3.5,4l-3.5,-4zM537.16,141l3.5,4l-3.5,4l-3.5,-4zM545.86,109.53l3.5,4l-3.5,4l-3.5,-4zM554.57,99.45l3.5,4l-3.5,4l-3.5,-4zM563.27,101l3.5,4l-3.5,4l-3.5,-4zM571.97,111.51l3.5,4l-3.5,4l-3.5,-4zM580.67,139.81l3.5,4l-3.5,4l-3.5,-4zM589.38,172.18l3.5,4l-3.5,4l-3.5,-4zM598.08,213.15l3.5,4l-3.5,4l-3.5,-4zM606.78,248l3.5,4l-3.5,4l-3.5,-4zM615.49,270.5l3.5,4l-3.5,4l-3.5,-4zM624.19,270.5l3.5,4l-3.5,4l-3.5,-4zM632.89,270.5l3.5,4l-3.5,4l-3.5,-4zM641.59,270.5l3.5,4l-3.5,4l-3.5,-4zM650.3,270.5l3.5,4l-3.5,4l-3.5,-4zM659,270.5l3.5,4l-3.5,4l-3.5,-4z" fill="none" stroke="#77ac30" stroke-width="0.95"/>
<path d="M58.5,274.5 L67.2,274.5 L75.91,274.5 L84.61,274.5 L93.31,255.23 L102.01,219.03 L110.72,178.93 L119.42,142.05 L128.12,113.79 L136.83,99.04 L145.53,97.06 L154.23,113.69 L162.93,143.09 L171.64,175.98 L180.34,216.74 L189.04,251.82 L197.75,274.5 L206.45,274.5 L215.15,274.5 L223.86,274.5 L232.56,274.5 L241.26,274.5 L249.96,274.5 L258.67,274.5 L267.37,274.5 L276.07,274.5 L284.78,274.5 L293.48,274.5 L302.18,256.56 L310.88,219.24 L319.59,179.43 L328.29,143.54 L336.99,112.83 L345.7,99.2 L354.4,99.88 L363.1,115.56 L371.8,141.69 L380.51,176.63 L389.21,215.98 L397.91,250.92 L406.62,274.5 L415.32,274.5 L424.02,274.5 L432.72,274.5 L441.43,274.5 L450.13,274.5 L458.83,274.5 L467.54,274.5 L476.24,274.5 L484.94,274.5 L493.64,274.5 L502.35,274.5 L511.05,255.61 L519.75,219.22 L528.46,179.06 L537.16,143.51 L545.86,112.07 L554.57,98.25 L563.27,97.26 L571.97,114.79 L580.67,143.76 L589.38,174.92 L598.08,215.54 L606.78,251.76 L615.49,274.5 L624.19,274.5 L632.89,274.5 L641.59,274.5 L650.3,274.5 L659,274.5" fill="none" stroke="#ffff00" stroke-width="0.85" stroke-linejoin="round"/>
<path d="M58.5,271.2l4.1,6.6h-8.2zM67.2,271.2l4.1,6.6h-8.2zM75.91,271.2l4.1,6.6h-8.2zM84.61,271.2l4.1,6.6h-8.2zM93.31,251.93l4.1,6.6h-8.2zM102.01,215.73l4.1,6.6h-8.2zM110.72,175.63l4.1,6.6h-8.2zM119.42,138.75l4.1,6.6h-8.2zM128.12,110.49l4.1,6.6h-8.2zM136.83,95.74l4.1,6.6h-8.2zM145.53,93.76l4.1,6.6h-8.2zM154.23,110.39l4.1,6.6h-8.2zM162.93,139.79l4.1,6.6h-8.2zM171.64,172.68l4.1,6.6h-8.2zM180.34,213.44l4.1,6.6h-8.2zM189.04,248.52l4.1,6.6h-8.2zM197.75,271.2l4.1,6.6h-8.2zM206.45,271.2l4.1,6.6h-8.2zM215.15,271.2l4.1,6.6h-8.2zM223.86,271.2l4.1,6.6h-8.2zM232.56,271.2l4.1,6.6h-8.2zM241.26,271.2l4.1,6.6h-8.2zM249.96,271.2l4.1,6.6h-8.2zM258.67,271.2l4.1,6.6h-8.2zM267.37,271.2l4.1,6.6h-8.2zM276.07,271.2l4.1,6.6h-8.2zM284.78,271.2l4.1,6.6h-8.2zM293.48,271.2l4.1,6.6h-8.2zM302.18,253.26l4.1,6.6h-8.2zM310.88,215.94l4.1,6.6h-8.2zM319.59,176.13l4.1,6.6h-8.2zM328.29,140.24l4.1,6.6h-8.2zM336.99,109.53l4.1,6.6h-8.2zM345.7,95.9l4.1,6.6h-8.2zM354.4,96.58l4.1,6.6h-8.2zM363.1,112.26l4.1,6.6h-8.2zM371.8,138.39l4.1,6.6h-8.2zM380.51,173.33l4.1,6.6h-8.2zM389.21,212.68l4.1,6.6h-8.2zM397.91,247.62l4.1,6.6h-8.2zM406.62,271.2l4.1,6.6h-8.2zM415.32,271.2l4.1,6.6h-8.2zM424.02,271.2l4.1,6.6h-8.2zM432.72,271.2l4.1,6.6h-8.2zM441.43,271.2l4.1,6.6h-8.2zM450.13,271.2l4.1,6.6h-8.2zM458.83,271.2l4.1,6.6h-8.2zM467.54,271.2l4.1,6.6h-8.2zM476.24,271.2l4.1,6.6h-8.2zM484.94,271.2l4.1,6.6h-8.2zM493.64,271.2l4.1,6.6h-8.2zM502.35,271.2l4.1,6.6h-8.2zM511.05,252.31l4.1,6.6h-8.2zM519.75,215.92l4.1,6.6h-8.2zM528.46,175.76l4.1,6.6h-8.2zM537.16,140.21l4.1,6.6h-8.2zM545.86,108.77l4.1,6.6h-8.2zM554.57,94.95l4.1,6.6h-8.2zM563.27,93.96l4.1,6.6h-8.2zM571.97,111.49l4.1,6.6h-8.2zM580.67,140.46l4.1,6.6h-8.2zM589.38,171.62l4.1,6.6h-8.2zM598.08,212.24l4.1,6.6h-8.2zM606.78,248.46l4.1,6.6h-8.2zM615.49,271.2l4.1,6.6h-8.2zM624.19,271.2l4.1,6.6h-8.2zM632.89,271.2l4.1,6.6h-8.2zM641.59,271.2l4.1,6.6h-8.2zM650.3,271.2l4.1,6.6h-8.2zM659,271.2l4.1,6.6h-8.2z" fill="none" stroke="#ffff00" stroke-width="0.95"/>
<path d="M58.5,274.5 L67.2,274.5 L75.91,274.5 L84.61,274.5 L93.31,240.44 L102.01,207.43 L110.72,174.07 L119.42,138.09 L128.12,103.15 L136.83,66.3 L145.53,66.3 L154.23,103.15 L162.93,136.51 L171.64,175.81 L180.34,215.11 L189.04,250.05 L197.75,274.5 L206.45,274.5 L215.15,274.5 L223.86,274.5 L232.56,274.5 L241.26,274.5 L249.96,274.5 L258.67,274.5 L267.37,274.5 L276.07,274.5 L284.78,274.5 L293.48,274.5 L302.18,240.44 L310.88,207.43 L319.59,174.07 L328.29,138.09 L336.99,103.15 L345.7,66.3 L354.4,66.3 L363.1,103.15 L371.8,136.51 L380.51,175.81 L389.21,215.11 L397.91,250.05 L406.62,274.5 L415.32,274.5 L424.02,274.5 L432.72,274.5 L441.43,274.5 L450.13,274.5 L458.83,274.5 L467.54,274.5 L476.24,274.5 L484.94,274.5 L493.64,274.5 L502.35,274.5 L511.05,240.44 L519.75,207.43 L528.46,174.07 L537.16,138.09 L545.86,103.15 L554.57,66.3 L563.27,66.3 L571.97,103.15 L580.67,136.51 L589.38,175.81 L598.08,215.11 L606.78,250.05 L615.49,274.5 L624.19,274.5 L632.89,274.5 L641.59,274.5 L650.3,274.5 L659,274.5" fill="none" stroke="#9e7a2e" stroke-width="0.85" stroke-linejoin="round"/>
<path d="M58.5,277.8l4.1,-6.6h-8.2zM67.2,277.8l4.1,-6.6h-8.2zM75.91,277.8l4.1,-6.6h-8.2zM84.61,277.8l4.1,-6.6h-8.2zM93.31,243.74l4.1,-6.6h-8.2zM102.01,210.73l4.1,-6.6h-8.2zM110.72,177.37l4.1,-6.6h-8.2zM119.42,141.39l4.1,-6.6h-8.2zM128.12,106.45l4.1,-6.6h-8.2zM136.83,69.6l4.1,-6.6h-8.2zM145.53,69.6l4.1,-6.6h-8.2zM154.23,106.45l4.1,-6.6h-8.2zM162.93,139.81l4.1,-6.6h-8.2zM171.64,179.11l4.1,-6.6h-8.2zM180.34,218.41l4.1,-6.6h-8.2zM189.04,253.35l4.1,-6.6h-8.2zM197.75,277.8l4.1,-6.6h-8.2zM206.45,277.8l4.1,-6.6h-8.2zM215.15,277.8l4.1,-6.6h-8.2zM223.86,277.8l4.1,-6.6h-8.2zM232.56,277.8l4.1,-6.6h-8.2zM241.26,277.8l4.1,-6.6h-8.2zM249.96,277.8l4.1,-6.6h-8.2zM258.67,277.8l4.1,-6.6h-8.2zM267.37,277.8l4.1,-6.6h-8.2zM276.07,277.8l4.1,-6.6h-8.2zM284.78,277.8l4.1,-6.6h-8.2zM293.48,277.8l4.1,-6.6h-8.2zM302.18,243.74l4.1,-6.6h-8.2zM310.88,210.73l4.1,-6.6h-8.2zM319.59,177.37l4.1,-6.6h-8.2zM328.29,141.39l4.1,-6.6h-8.2zM336.99,106.45l4.1,-6.6h-8.2zM345.7,69.6l4.1,-6.6h-8.2zM354.4,69.6l4.1,-6.6h-8.2zM363.1,106.45l4.1,-6.6h-8.2zM371.8,139.81l4.1,-6.6h-8.2zM380.51,179.11l4.1,-6.6h-8.2zM389.21,218.41l4.1,-6.6h-8.2zM397.91,253.35l4.1,-6.6h-8.2zM406.62,277.8l4.1,-6.6h-8.2zM415.32,277.8l4.1,-6.6h-8.2zM424.02,277.8l4.1,-6.6h-8.2zM432.72,277.8l4.1,-6.6h-8.2zM441.43,277.8l4.1,-6.6h-8.2zM450.13,277.8l4.1,-6.6h-8.2zM458.83,277.8l4.1,-6.6h-8.2zM467.54,277.8l4.1,-6.6h-8.2zM476.24,277.8l4.1,-6.6h-8.2zM484.94,277.8l4.1,-6.6h-8.2zM493.64,277.8l4.1,-6.6h-8.2zM502.35,277.8l4.1,-6.6h-8.2zM511.05,243.74l4.1,-6.6h-8.2zM519.75,210.73l4.1,-6.6h-8.2zM528.46,177.37l4.1,-6.6h-8.2zM537.16,141.39l4.1,-6.6h-8.2zM545.86,106.45l4.1,-6.6h-8.2zM554.57,69.6l4.1,-6.6h-8.2zM563.27,69.6l4.1,-6.6h-8.2zM571.97,106.45l4.1,-6.6h-8.2zM580.67,139.81l4.1,-6.6h-8.2zM589.38,179.11l4.1,-6.6h-8.2zM598.08,218.41l4.1,-6.6h-8.2zM606.78,253.35l4.1,-6.6h-8.2zM615.49,277.8l4.1,-6.6h-8.2zM624.19,277.8l4.1,-6.6h-8.2zM632.89,277.8l4.1,-6.6h-8.2zM641.59,277.8l4.1,-6.6h-8.2zM650.3,277.8l4.1,-6.6h-8.2zM659,277.8l4.1,-6.6h-8.2z" fill="none" stroke="#9e7a2e" stroke-width="0.95"/>
<path d="M58.5,274.5 L67.2,274.5 L75.91,274.5 L84.61,274.5 L93.31,255.96 L102.01,219.74 L110.72,181.82 L119.42,147.66 L128.12,117 L136.83,101.28 L145.53,96.38 L154.23,119.17 L162.93,143.72 L171.64,176.78 L180.34,217.48 L189.04,251.43 L197.75,274.5 L206.45,274.5 L215.15,274.5 L223.86,274.5 L232.56,274.5 L241.26,274.5 L249.96,274.5 L258.67,274.5 L267.37,274.5 L276.07,274.5 L284.78,274.5 L293.48,274.5 L302.18,256.48 L310.88,219.1 L319.59,180.32 L328.29,145.18 L336.99,113.85 L345.7,99.09 L354.4,97.68 L363.1,117.15 L371.8,145.99 L380.51,177.25 L389.21,217.11 L397.91,251.86 L406.62,274.5 L415.32,274.5 L424.02,274.5 L432.72,274.5 L441.43,274.5 L450.13,274.5 L458.83,274.5 L467.54,274.5 L476.24,274.5 L484.94,274.5 L493.64,274.5 L502.35,274.5 L511.05,256.04 L519.75,219.2 L528.46,181.54 L537.16,146.72 L545.86,115.38 L554.57,101.42 L563.27,99.87 L571.97,117.38 L580.67,144.41 L589.38,177.18 L598.08,216.76 L606.78,252.25 L615.49,274.5 L624.19,274.5 L632.89,274.5 L641.59,274.5 L650.3,274.5 L659,274.5" fill="none" stroke="#1a7faf" stroke-width="0.85" stroke-linejoin="round"/>
<path d="M61.8,274.5l-6.6,4.1v-8.2zM70.5,274.5l-6.6,4.1v-8.2zM79.21,274.5l-6.6,4.1v-8.2zM87.91,274.5l-6.6,4.1v-8.2zM96.61,255.96l-6.6,4.1v-8.2zM105.31,219.74l-6.6,4.1v-8.2zM114.02,181.82l-6.6,4.1v-8.2zM122.72,147.66l-6.6,4.1v-8.2zM131.42,117l-6.6,4.1v-8.2zM140.13,101.28l-6.6,4.1v-8.2zM148.83,96.38l-6.6,4.1v-8.2zM157.53,119.17l-6.6,4.1v-8.2zM166.23,143.72l-6.6,4.1v-8.2zM174.94,176.78l-6.6,4.1v-8.2zM183.64,217.48l-6.6,4.1v-8.2zM192.34,251.43l-6.6,4.1v-8.2zM201.05,274.5l-6.6,4.1v-8.2zM209.75,274.5l-6.6,4.1v-8.2zM218.45,274.5l-6.6,4.1v-8.2zM227.16,274.5l-6.6,4.1v-8.2zM235.86,274.5l-6.6,4.1v-8.2zM244.56,274.5l-6.6,4.1v-8.2zM253.26,274.5l-6.6,4.1v-8.2zM261.97,274.5l-6.6,4.1v-8.2zM270.67,274.5l-6.6,4.1v-8.2zM279.37,274.5l-6.6,4.1v-8.2zM288.08,274.5l-6.6,4.1v-8.2zM296.78,274.5l-6.6,4.1v-8.2zM305.48,256.48l-6.6,4.1v-8.2zM314.18,219.1l-6.6,4.1v-8.2zM322.89,180.32l-6.6,4.1v-8.2zM331.59,145.18l-6.6,4.1v-8.2zM340.29,113.85l-6.6,4.1v-8.2zM349,99.09l-6.6,4.1v-8.2zM357.7,97.68l-6.6,4.1v-8.2zM366.4,117.15l-6.6,4.1v-8.2zM375.1,145.99l-6.6,4.1v-8.2zM383.81,177.25l-6.6,4.1v-8.2zM392.51,217.11l-6.6,4.1v-8.2zM401.21,251.86l-6.6,4.1v-8.2zM409.92,274.5l-6.6,4.1v-8.2zM418.62,274.5l-6.6,4.1v-8.2zM427.32,274.5l-6.6,4.1v-8.2zM436.02,274.5l-6.6,4.1v-8.2zM444.73,274.5l-6.6,4.1v-8.2zM453.43,274.5l-6.6,4.1v-8.2zM462.13,274.5l-6.6,4.1v-8.2zM470.84,274.5l-6.6,4.1v-8.2zM479.54,274.5l-6.6,4.1v-8.2zM488.24,274.5l-6.6,4.1v-8.2zM496.94,274.5l-6.6,4.1v-8.2zM505.65,274.5l-6.6,4.1v-8.2zM514.35,256.04l-6.6,4.1v-8.2zM523.05,219.2l-6.6,4.1v-8.2zM531.76,181.54l-6.6,4.1v-8.2zM540.46,146.72l-6.6,4.1v-8.2zM549.16,115.38l-6.6,4.1v-8.2zM557.87,101.42l-6.6,4.1v-8.2zM566.57,99.87l-6.6,4.1v-8.2zM575.27,117.38l-6.6,4.1v-8.2zM583.97,144.41l-6.6,4.1v-8.2zM592.68,177.18l-6.6,4.1v-8.2zM601.38,216.76l-6.6,4.1v-8.2zM610.08,252.25l-6.6,4.1v-8.2zM618.79,274.5l-6.6,4.1v-8.2zM627.49,274.5l-6.6,4.1v-8.2zM636.19,274.5l-6.6,4.1v-8.2zM644.89,274.5l-6.6,4.1v-8.2zM653.6,274.5l-6.6,4.1v-8.2zM662.3,274.5l-6.6,4.1v-8.2z" fill="none" stroke="#1a7faf" stroke-width="0.95"/>
<path d="M58.5,274.5 L67.2,274.5 L75.91,274.5 L84.61,274.5 L93.31,256.21 L102.01,220.03 L110.72,179.33 L119.42,144.48 L128.12,113.76 L136.83,102.73 L145.53,103.1 L154.23,114.35 L162.93,144.36 L171.64,176.78 L180.34,216 L189.04,251.65 L197.75,274.5 L206.45,274.5 L215.15,274.5 L223.86,274.5 L232.56,274.5 L241.26,274.5 L249.96,274.5 L258.67,274.5 L267.37,274.5 L276.07,274.5 L284.78,274.5 L293.48,274.5 L302.18,255.32 L310.88,219.39 L319.59,191.88 L328.29,159.05 L336.99,115.35 L345.7,101.66 L354.4,100.29 L363.1,143.5 L371.8,159.92 L380.51,184.37 L389.21,216.42 L397.91,251.07 L406.62,274.5 L415.32,274.5 L424.02,274.5 L432.72,274.5 L441.43,274.5 L450.13,274.5 L458.83,274.5 L467.54,274.5 L476.24,274.5 L484.94,274.5 L493.64,274.5 L502.35,274.5 L511.05,256.05 L519.75,239.04 L528.46,189.26 L537.16,144.87 L545.86,114.59 L554.57,100.92 L563.27,102.36 L571.97,114.41 L580.67,143.7 L589.38,177.71 L598.08,216.45 L606.78,251.23 L615.49,274.5 L624.19,274.5 L632.89,274.5 L641.59,274.5 L650.3,274.5 L659,274.5" fill="none" stroke="#ffcc00" stroke-width="0.85" stroke-linejoin="round"/>
<path d="M55.2,274.5l6.6,4.1v-8.2zM63.9,274.5l6.6,4.1v-8.2zM72.61,274.5l6.6,4.1v-8.2zM81.31,274.5l6.6,4.1v-8.2zM90.01,256.21l6.6,4.1v-8.2zM98.71,220.03l6.6,4.1v-8.2zM107.42,179.33l6.6,4.1v-8.2zM116.12,144.48l6.6,4.1v-8.2zM124.82,113.76l6.6,4.1v-8.2zM133.53,102.73l6.6,4.1v-8.2zM142.23,103.1l6.6,4.1v-8.2zM150.93,114.35l6.6,4.1v-8.2zM159.63,144.36l6.6,4.1v-8.2zM168.34,176.78l6.6,4.1v-8.2zM177.04,216l6.6,4.1v-8.2zM185.74,251.65l6.6,4.1v-8.2zM194.45,274.5l6.6,4.1v-8.2zM203.15,274.5l6.6,4.1v-8.2zM211.85,274.5l6.6,4.1v-8.2zM220.56,274.5l6.6,4.1v-8.2zM229.26,274.5l6.6,4.1v-8.2zM237.96,274.5l6.6,4.1v-8.2zM246.66,274.5l6.6,4.1v-8.2zM255.37,274.5l6.6,4.1v-8.2zM264.07,274.5l6.6,4.1v-8.2zM272.77,274.5l6.6,4.1v-8.2zM281.48,274.5l6.6,4.1v-8.2zM290.18,274.5l6.6,4.1v-8.2zM298.88,255.32l6.6,4.1v-8.2zM307.58,219.39l6.6,4.1v-8.2zM316.29,191.88l6.6,4.1v-8.2zM324.99,159.05l6.6,4.1v-8.2zM333.69,115.35l6.6,4.1v-8.2zM342.4,101.66l6.6,4.1v-8.2zM351.1,100.29l6.6,4.1v-8.2zM359.8,143.5l6.6,4.1v-8.2zM368.5,159.92l6.6,4.1v-8.2zM377.21,184.37l6.6,4.1v-8.2zM385.91,216.42l6.6,4.1v-8.2zM394.61,251.07l6.6,4.1v-8.2zM403.32,274.5l6.6,4.1v-8.2zM412.02,274.5l6.6,4.1v-8.2zM420.72,274.5l6.6,4.1v-8.2zM429.42,274.5l6.6,4.1v-8.2zM438.13,274.5l6.6,4.1v-8.2zM446.83,274.5l6.6,4.1v-8.2zM455.53,274.5l6.6,4.1v-8.2zM464.24,274.5l6.6,4.1v-8.2zM472.94,274.5l6.6,4.1v-8.2zM481.64,274.5l6.6,4.1v-8.2zM490.34,274.5l6.6,4.1v-8.2zM499.05,274.5l6.6,4.1v-8.2zM507.75,256.05l6.6,4.1v-8.2zM516.45,239.04l6.6,4.1v-8.2zM525.16,189.26l6.6,4.1v-8.2zM533.86,144.87l6.6,4.1v-8.2zM542.56,114.59l6.6,4.1v-8.2zM551.27,100.92l6.6,4.1v-8.2zM559.97,102.36l6.6,4.1v-8.2zM568.67,114.41l6.6,4.1v-8.2zM577.37,143.7l6.6,4.1v-8.2zM586.08,177.71l6.6,4.1v-8.2zM594.78,216.45l6.6,4.1v-8.2zM603.48,251.23l6.6,4.1v-8.2zM612.19,274.5l6.6,4.1v-8.2zM620.89,274.5l6.6,4.1v-8.2zM629.59,274.5l6.6,4.1v-8.2zM638.29,274.5l6.6,4.1v-8.2zM647,274.5l6.6,4.1v-8.2zM655.7,274.5l6.6,4.1v-8.2z" fill="none" stroke="#ffcc00" stroke-width="0.95"/>
<path d="M58.5,274.5 L67.2,274.5 L75.91,274.5 L84.61,274.5 L93.31,256.66 L102.01,221.36 L110.72,183.55 L119.42,149.6 L128.12,120.82 L136.83,109.55 L145.53,106.99 L154.23,120.77 L162.93,148.37 L171.64,179.68 L180.34,218.65 L189.04,251.68 L197.75,274.5 L206.45,274.5 L215.15,274.5 L223.86,274.5 L232.56,274.5 L241.26,274.5 L249.96,274.5 L258.67,274.5 L267.37,274.5 L276.07,274.5 L284.78,274.5 L293.48,274.5 L302.18,256.63 L310.88,220.22 L319.59,182.78 L328.29,149.78 L336.99,119.94 L345.7,108.41 L354.4,109.99 L363.1,119.47 L371.8,147.78 L380.51,180.77 L389.21,218.94 L397.91,252.61 L406.62,274.5 L415.32,274.5 L424.02,274.5 L432.72,274.5 L441.43,274.5 L450.13,274.5 L458.83,274.5 L467.54,274.5 L476.24,274.5 L484.94,274.5 L493.64,274.5 L502.35,274.5 L511.05,256.61 L519.75,222.05 L528.46,182.33 L537.16,148.27 L545.86,121.08 L554.57,108.64 L563.27,105.7 L571.97,122.1 L580.67,149.9 L589.38,180.01 L598.08,218.25 L606.78,252.72 L615.49,274.5 L624.19,274.5 L632.89,274.5 L641.59,274.5 L650.3,274.5 L659,274.5" fill="none" stroke="#9933dd" stroke-width="0.85" stroke-linejoin="round"/>
<path d="M58.5,270.5L59.53,273.08L62.3,273.26L60.16,275.04L60.85,277.74L58.5,276.25L56.15,277.74L56.84,275.04L54.7,273.26L57.47,273.08zM67.2,270.5L68.23,273.08L71.01,273.26L68.87,275.04L69.55,277.74L67.2,276.25L64.85,277.74L65.54,275.04L63.4,273.26L66.17,273.08zM75.91,270.5L76.93,273.08L79.71,273.26L77.57,275.04L78.26,277.74L75.91,276.25L73.55,277.74L74.24,275.04L72.1,273.26L74.88,273.08zM84.61,270.5L85.64,273.08L88.41,273.26L86.27,275.04L86.96,277.74L84.61,276.25L82.26,277.74L82.94,275.04L80.8,273.26L83.58,273.08zM93.31,252.66L94.34,255.24L97.12,255.42L94.98,257.2L95.66,259.9L93.31,258.41L90.96,259.9L91.65,257.2L89.51,255.42L92.28,255.24zM102.01,217.36L103.04,219.94L105.82,220.12L103.68,221.9L104.37,224.59L102.01,223.11L99.66,224.59L100.35,221.9L98.21,220.12L100.99,219.94zM110.72,179.55L111.75,182.14L114.52,182.32L112.38,184.09L113.07,186.79L110.72,185.3L108.37,186.79L109.05,184.09L106.91,182.32L109.69,182.14zM119.42,145.6L120.45,148.18L123.22,148.36L121.08,150.14L121.77,152.84L119.42,151.35L117.07,152.84L117.76,150.14L115.62,148.36L118.39,148.18zM128.12,116.82L129.15,119.4L131.93,119.58L129.79,121.36L130.47,124.06L128.12,122.57L125.77,124.06L126.46,121.36L124.32,119.58L127.09,119.4zM136.83,105.55L137.85,108.13L140.63,108.31L138.49,110.09L139.18,112.78L136.83,111.3L134.47,112.78L135.16,110.09L133.02,108.31L135.8,108.13zM145.53,102.99L146.56,105.58L149.33,105.76L147.19,107.53L147.88,110.23L145.53,108.74L143.18,110.23L143.86,107.53L141.72,105.76L144.5,105.58zM154.23,116.77L155.26,119.35L158.04,119.53L155.9,121.31L156.58,124L154.23,122.52L151.88,124L152.57,121.31L150.43,119.53L153.2,119.35zM162.93,144.37L163.96,146.95L166.74,147.13L164.6,148.91L165.29,151.61L162.93,150.12L160.58,151.61L161.27,148.91L159.13,147.13L161.91,146.95zM171.64,175.68L172.67,178.27L175.44,178.45L173.3,180.22L173.99,182.92L171.64,181.43L169.29,182.92L169.97,180.22L167.83,178.45L170.61,178.27zM180.34,214.65L181.37,217.23L184.14,217.41L182,219.19L182.69,221.88L180.34,220.4L177.99,221.88L178.68,219.19L176.54,217.41L179.31,217.23zM189.04,247.68L190.07,250.26L192.85,250.44L190.71,252.22L191.39,254.91L189.04,253.43L186.69,254.91L187.38,252.22L185.24,250.44L188.01,250.26zM197.75,270.5L198.78,273.08L201.55,273.26L199.41,275.04L200.1,277.74L197.75,276.25L195.4,277.74L196.08,275.04L193.94,273.26L196.72,273.08zM206.45,270.5L207.48,273.08L210.25,273.26L208.11,275.04L208.8,277.74L206.45,276.25L204.1,277.74L204.78,275.04L202.65,273.26L205.42,273.08zM215.15,270.5L216.18,273.08L218.96,273.26L216.82,275.04L217.5,277.74L215.15,276.25L212.8,277.74L213.49,275.04L211.35,273.26L214.12,273.08zM223.86,270.5L224.88,273.08L227.66,273.26L225.52,275.04L226.21,277.74L223.86,276.25L221.5,277.74L222.19,275.04L220.05,273.26L222.83,273.08zM232.56,270.5L233.59,273.08L236.36,273.26L234.22,275.04L234.91,277.74L232.56,276.25L230.21,277.74L230.89,275.04L228.75,273.26L231.53,273.08zM241.26,270.5L242.29,273.08L245.07,273.26L242.93,275.04L243.61,277.74L241.26,276.25L238.91,277.74L239.6,275.04L237.46,273.26L240.23,273.08zM249.96,270.5L250.99,273.08L253.77,273.26L251.63,275.04L252.31,277.74L249.96,276.25L247.61,277.74L248.3,275.04L246.16,273.26L248.94,273.08zM258.67,270.5L259.7,273.08L262.47,273.26L260.33,275.04L261.02,277.74L258.67,276.25L256.32,277.74L257,275.04L254.86,273.26L257.64,273.08zM267.37,270.5L268.4,273.08L271.17,273.26L269.03,275.04L269.72,277.74L267.37,276.25L265.02,277.74L265.71,275.04L263.57,273.26L266.34,273.08zM276.07,270.5L277.1,273.08L279.88,273.26L277.74,275.04L278.42,277.74L276.07,276.25L273.72,277.74L274.41,275.04L272.27,273.26L275.04,273.08zM284.78,270.5L285.8,273.08L288.58,273.26L286.44,275.04L287.13,277.74L284.78,276.25L282.42,277.74L283.11,275.04L280.97,273.26L283.75,273.08zM293.48,270.5L294.51,273.08L297.28,273.26L295.14,275.04L295.83,277.74L293.48,276.25L291.13,277.74L291.81,275.04L289.67,273.26L292.45,273.08zM302.18,252.63L303.21,255.21L305.99,255.39L303.85,257.17L304.53,259.87L302.18,258.38L299.83,259.87L300.52,257.17L298.38,255.39L301.15,255.21zM310.88,216.22L311.91,218.81L314.69,218.99L312.55,220.76L313.24,223.46L310.88,221.97L308.53,223.46L309.22,220.76L307.08,218.99L309.86,218.81zM319.59,178.78L320.62,181.37L323.39,181.55L321.25,183.33L321.94,186.02L319.59,184.53L317.24,186.02L317.92,183.33L315.78,181.55L318.56,181.37zM328.29,145.78L329.32,148.37L332.09,148.55L329.95,150.32L330.64,153.02L328.29,151.53L325.94,153.02L326.63,150.32L324.49,148.55L327.26,148.37zM336.99,115.94L338.02,118.52L340.8,118.7L338.66,120.48L339.34,123.18L336.99,121.69L334.64,123.18L335.33,120.48L333.19,118.7L335.96,118.52zM345.7,104.41L346.72,106.99L349.5,107.17L347.36,108.95L348.05,111.65L345.7,110.16L343.34,111.65L344.03,108.95L341.89,107.17L344.67,106.99zM354.4,105.99L355.43,108.58L358.2,108.76L356.06,110.53L356.75,113.23L354.4,111.74L352.05,113.23L352.73,110.53L350.59,108.76L353.37,108.58zM363.1,115.47L364.13,118.06L366.91,118.24L364.77,120.02L365.45,122.71L363.1,121.22L360.75,122.71L361.44,120.02L359.3,118.24L362.07,118.06zM371.8,143.78L372.83,146.37L375.61,146.55L373.47,148.32L374.16,151.02L371.8,149.53L369.45,151.02L370.14,148.32L368,146.55L370.78,146.37zM380.51,176.77L381.54,179.35L384.31,179.53L382.17,181.31L382.86,184.01L380.51,182.52L378.16,184.01L378.84,181.31L376.7,179.53L379.48,179.35zM389.21,214.94L390.24,217.52L393.01,217.7L390.87,219.48L391.56,222.18L389.21,220.69L386.86,222.18L387.55,219.48L385.41,217.7L388.18,217.52zM397.91,248.61L398.94,251.2L401.72,251.38L399.58,253.15L400.26,255.85L397.91,254.36L395.56,255.85L396.25,253.15L394.11,251.38L396.88,251.2zM406.62,270.5L407.64,273.08L410.42,273.26L408.28,275.04L408.97,277.74L406.62,276.25L404.26,277.74L404.95,275.04L402.81,273.26L405.59,273.08zM415.32,270.5L416.35,273.08L419.12,273.26L416.98,275.04L417.67,277.74L415.32,276.25L412.97,277.74L413.65,275.04L411.51,273.26L414.29,273.08zM424.02,270.5L425.05,273.08L427.83,273.26L425.69,275.04L426.37,277.74L424.02,276.25L421.67,277.74L422.36,275.04L420.22,273.26L422.99,273.08zM432.72,270.5L433.75,273.08L436.53,273.26L434.39,275.04L435.08,277.74L432.72,276.25L430.37,277.74L431.06,275.04L428.92,273.26L431.7,273.08zM441.43,270.5L442.46,273.08L445.23,273.26L443.09,275.04L443.78,277.74L441.43,276.25L439.08,277.74L439.76,275.04L437.62,273.26L440.4,273.08zM450.13,270.5L451.16,273.08L453.93,273.26L451.79,275.04L452.48,277.74L450.13,276.25L447.78,277.74L448.47,275.04L446.33,273.26L449.1,273.08zM458.83,270.5L459.86,273.08L462.64,273.26L460.5,275.04L461.18,277.74L458.83,276.25L456.48,277.74L457.17,275.04L455.03,273.26L457.8,273.08zM467.54,270.5L468.56,273.08L471.34,273.26L469.2,275.04L469.89,277.74L467.54,276.25L465.19,277.74L465.87,275.04L463.73,273.26L466.51,273.08zM476.24,270.5L477.27,273.08L480.04,273.26L477.9,275.04L478.59,277.74L476.24,276.25L473.89,277.74L474.57,275.04L472.43,273.26L475.21,273.08zM484.94,270.5L485.97,273.08L488.75,273.26L486.61,275.04L487.29,277.74L484.94,276.25L482.59,277.74L483.28,275.04L481.14,273.26L483.91,273.08zM493.64,270.5L494.67,273.08L497.45,273.26L495.31,275.04L496,277.74L493.64,276.25L491.29,277.74L491.98,275.04L489.84,273.26L492.62,273.08zM502.35,270.5L503.38,273.08L506.15,273.26L504.01,275.04L504.7,277.74L502.35,276.25L500,277.74L500.68,275.04L498.54,273.26L501.32,273.08zM511.05,252.61L512.08,255.2L514.85,255.38L512.72,257.15L513.4,259.85L511.05,258.36L508.7,259.85L509.39,257.15L507.25,255.38L510.02,255.2zM519.75,218.05L520.78,220.63L523.56,220.81L521.42,222.59L522.1,225.28L519.75,223.8L517.4,225.28L518.09,222.59L515.95,220.81L518.72,220.63zM528.46,178.33L529.49,180.91L532.26,181.09L530.12,182.87L530.81,185.57L528.46,184.08L526.11,185.57L526.79,182.87L524.65,181.09L527.43,180.91zM537.16,144.27L538.19,146.85L540.96,147.03L538.82,148.81L539.51,151.5L537.16,150.02L534.81,151.5L535.5,148.81L533.36,147.03L536.13,146.85zM545.86,117.08L546.89,119.67L549.67,119.85L547.53,121.63L548.21,124.32L545.86,122.83L543.51,124.32L544.2,121.63L542.06,119.85L544.83,119.67zM554.57,104.64L555.59,107.23L558.37,107.41L556.23,109.18L556.92,111.88L554.57,110.39L552.21,111.88L552.9,109.18L550.76,107.41L553.54,107.23zM563.27,101.7L564.3,104.29L567.07,104.47L564.93,106.24L565.62,108.94L563.27,107.45L560.92,108.94L561.6,106.24L559.46,104.47L562.24,104.29zM571.97,118.1L573,120.68L575.78,120.86L573.64,122.64L574.32,125.33L571.97,123.85L569.62,125.33L570.31,122.64L568.17,120.86L570.94,120.68zM580.67,145.9L581.7,148.49L584.48,148.67L582.34,150.45L583.03,153.14L580.67,151.65L578.32,153.14L579.01,150.45L576.87,148.67L579.65,148.49zM589.38,176.01L590.41,178.6L593.18,178.78L591.04,180.55L591.73,183.25L589.38,181.76L587.03,183.25L587.71,180.55L585.57,178.78L588.35,178.6zM598.08,214.25L599.11,216.84L601.88,217.02L599.74,218.79L600.43,221.49L598.08,220L595.73,221.49L596.42,218.79L594.28,217.02L597.05,216.84zM606.78,248.72L607.81,251.31L610.59,251.49L608.45,253.26L609.13,255.96L606.78,254.47L604.43,255.96L605.12,253.26L602.98,251.49L605.75,251.31zM615.49,270.5L616.51,273.08L619.29,273.26L617.15,275.04L617.84,277.74L615.49,276.25L613.13,277.74L613.82,275.04L611.68,273.26L614.46,273.08zM624.19,270.5L625.22,273.08L627.99,273.26L625.85,275.04L626.54,277.74L624.19,276.25L621.84,277.74L622.52,275.04L620.38,273.26L623.16,273.08zM632.89,270.5L633.92,273.08L636.7,273.26L634.56,275.04L635.24,277.74L632.89,276.25L630.54,277.74L631.23,275.04L629.09,273.26L631.86,273.08zM641.59,270.5L642.62,273.08L645.4,273.26L643.26,275.04L643.95,277.74L641.59,276.25L639.24,277.74L639.93,275.04L637.79,273.26L640.57,273.08zM650.3,270.5L651.33,273.08L654.1,273.26L651.96,275.04L652.65,277.74L650.3,276.25L647.95,277.74L648.63,275.04L646.49,273.26L649.27,273.08zM659,270.5L660.03,273.08L662.8,273.26L660.66,275.04L661.35,277.74L659,276.25L656.65,277.74L657.34,275.04L655.2,273.26L657.97,273.08z" fill="#9933dd" fill-opacity="0.35" stroke="#9933dd" stroke-width="1.0" stroke-linejoin="round"/>
</g>
<g fill="#111"><text x="136.83" y="289.8" font-size="10.6" text-anchor="middle" textLength="23.58" lengthAdjust="spacingAndGlyphs">5010</text><text x="223.86" y="289.8" font-size="10.6" text-anchor="middle" textLength="23.58" lengthAdjust="spacingAndGlyphs">5020</text><text x="310.88" y="289.8" font-size="10.6" text-anchor="middle" textLength="23.58" lengthAdjust="spacingAndGlyphs">5030</text><text x="397.91" y="289.8" font-size="10.6" text-anchor="middle" textLength="23.58" lengthAdjust="spacingAndGlyphs">5040</text><text x="484.94" y="289.8" font-size="10.6" text-anchor="middle" textLength="23.58" lengthAdjust="spacingAndGlyphs">5050</text><text x="571.97" y="289.8" font-size="10.6" text-anchor="middle" textLength="23.58" lengthAdjust="spacingAndGlyphs">5060</text><text x="659" y="289.8" font-size="10.6" text-anchor="middle" textLength="23.58" lengthAdjust="spacingAndGlyphs">5070</text><text x="53.5" y="278.4" font-size="10.6" text-anchor="end" textLength="5.9" lengthAdjust="spacingAndGlyphs">0</text><text x="53.5" y="191.07" font-size="10.6" text-anchor="end" textLength="17.69" lengthAdjust="spacingAndGlyphs">500</text><text x="53.5" y="103.73" font-size="10.6" text-anchor="end" textLength="23.58" lengthAdjust="spacingAndGlyphs">1000</text><text x="53.5" y="16.4" font-size="10.6" text-anchor="end" textLength="23.58" lengthAdjust="spacingAndGlyphs">1500</text></g>
<g fill="#111"><text x="358.9" y="303.4" font-size="10.9" text-anchor="middle" textLength="64" lengthAdjust="spacingAndGlyphs">Time [Hours]</text></g>
<text transform="translate(24.3,143.5) rotate(-90)" text-anchor="middle" font-size="11.2" fill="#111">Global Solar Radiation [W/m<tspan font-size="9.41" dy="-5.82" dx="0.3">2</tspan><tspan dy="5.82" dx="0.3">]</tspan></text>
<rect x="182.6" y="20.4" width="467.8" height="27.1" fill="#fff" stroke="#666" stroke-width="1"/>
<path d="M185.5,28.3h30.7" stroke="#000000" stroke-width="0.6" stroke-opacity="0.75"/>
<path d="M197.55,28.3a3.3,3.3 0 1,0 6.6,0a3.3,3.3 0 1,0 -6.6,0" fill="none" stroke="#000000" stroke-width="0.95"/>
<text x="219.9" y="31.68" font-size="9.4" fill="#000">Real Data</text>
<path d="M268.7,28.3h30.7" stroke="#0000ff" stroke-width="0.6" stroke-opacity="0.75"/>
<path d="M280.45,28.3h7.2M284.05,24.7v7.2M281.45,25.7l5.2,5.2M281.45,30.9l5.2,-5.2" fill="none" stroke="#0000ff" stroke-width="0.95"/>
<text x="302.6" y="31.68" font-size="9.4" fill="#000">CNN</text>
<path d="M353.6,28.3h30.7" stroke="#f0883c" stroke-width="0.6" stroke-opacity="0.75"/>
<path d="M366.05,25.4h5.8v5.8h-5.8z" fill="none" stroke="#f0883c" stroke-width="0.95"/>
<text x="387.6" y="31.68" font-size="9.4" fill="#000">CNN-LSTM-ANN</text>
<path d="M466.3,28.3h30.7" stroke="#ffff00" stroke-width="0.6" stroke-opacity="0.75"/>
<path d="M481.65,25l4.1,6.6h-8.2z" fill="none" stroke="#ffff00" stroke-width="0.95"/>
<text x="500.2" y="31.68" font-size="9.4" fill="#000">LSTM</text>
<path d="M533,28.3h30.7" stroke="#1a7faf" stroke-width="0.6" stroke-opacity="0.75"/>
<path d="M551.65,28.3l-6.6,4.1v-8.2z" fill="none" stroke="#1a7faf" stroke-width="0.95"/>
<text x="566.6" y="31.68" font-size="9.4" fill="#000">PLR</text>
<path d="M592.5,28.3h30.7" stroke="#9933dd" stroke-width="0.6" stroke-opacity="0.75"/>
<path d="M607.85,24.3L608.88,26.88L611.65,27.06L609.51,28.84L610.2,31.54L607.85,30.05L605.5,31.54L606.19,28.84L604.05,27.06L606.82,26.88z" fill="#9933dd" fill-opacity="0.35" stroke="#9933dd" stroke-width="1.0" stroke-linejoin="round"/>
<text x="626.7" y="31.68" font-size="9.4" fill="#000">XGB</text>
<path d="M185.5,40.3h30.7" stroke="#ff0000" stroke-width="0.6" stroke-opacity="0.75"/>
<path d="M197.25,40.3h7.2M200.85,36.7v7.2" fill="none" stroke="#ff0000" stroke-width="0.95"/>
<text x="219.9" y="43.68" font-size="9.4" fill="#000">ANN</text>
<path d="M268.7,40.3h30.7" stroke="#00e000" stroke-width="0.6" stroke-opacity="0.75"/>
<circle cx="284.05" cy="40.3" r="1.1" fill="#00e000"/>
<text x="302.6" y="43.68" font-size="9.4" fill="#000">CNN-ANN</text>
<path d="M353.6,40.3h30.7" stroke="#77ac30" stroke-width="0.6" stroke-opacity="0.75"/>
<path d="M368.95,36.3l3.5,4l-3.5,4l-3.5,-4z" fill="none" stroke="#77ac30" stroke-width="0.95"/>
<text x="387.6" y="43.68" font-size="9.4" fill="#000">DTR</text>
<path d="M466.3,40.3h30.7" stroke="#9e7a2e" stroke-width="0.6" stroke-opacity="0.75"/>
<path d="M481.65,43.6l4.1,-6.6h-8.2z" fill="none" stroke="#9e7a2e" stroke-width="0.95"/>
<text x="500.2" y="43.68" font-size="9.4" fill="#000">MLR</text>
<path d="M533,40.3h30.7" stroke="#ffcc00" stroke-width="0.6" stroke-opacity="0.75"/>
<path d="M545.05,40.3l6.6,4.1v-8.2z" fill="none" stroke="#ffcc00" stroke-width="0.95"/>
<text x="566.6" y="43.68" font-size="9.4" fill="#000">RFR</text>
<path d="M48.5,357.5H670V621.5H48.5Z" fill="none" stroke="#666666" stroke-width="1"/>
<path d="M129.57,621.5v-6M129.57,357.5v6M219.64,621.5v-6M219.64,357.5v6M309.71,621.5v-6M309.71,357.5v6M399.78,621.5v-6M399.78,357.5v6M489.86,621.5v-6M489.86,357.5v6M579.93,621.5v-6M579.93,357.5v6M670,621.5v-6M670,357.5v6M48.5,621.5h6M670,621.5h-6M48.5,595.1h6M670,595.1h-6M48.5,568.7h6M670,568.7h-6M48.5,542.3h6M670,542.3h-6M48.5,515.9h6M670,515.9h-6M48.5,489.5h6M670,489.5h-6M48.5,463.1h6M670,463.1h-6M48.5,436.7h6M670,436.7h-6M48.5,410.3h6M670,410.3h-6M48.5,383.9h6M670,383.9h-6M48.5,357.5h6M670,357.5h-6" fill="none" stroke="#3a3a3a" stroke-width="0.9"/>
<g>
<path d="M48.5,621.5 L57.51,621.5 L66.51,621.5 L75.52,617.28 L84.53,571.34 L93.54,541.24 L102.54,525.4 L111.55,504.28 L120.56,436.17 L129.57,495.31 L138.57,455.18 L147.58,488.97 L156.59,476.3 L165.59,546.52 L174.6,571.34 L183.61,617.28 L192.62,621.5 L201.62,621.5 L210.63,621.5 L219.64,621.5 L228.64,621.5 L237.65,621.5 L246.66,621.5 L255.67,621.5 L264.67,621.5 L273.68,621.5 L282.69,621.5 L291.7,613.58 L300.7,568.7 L309.71,548.64 L318.72,530.16 L327.72,523.29 L336.73,510.62 L345.74,503.76 L354.75,500.59 L363.75,510.62 L372.76,519.07 L381.77,502.17 L390.78,565.53 L399.78,616.22 L408.79,621.5 L417.8,621.5 L426.8,621.5 L435.81,621.5 L444.82,621.5 L453.83,621.5 L462.83,621.5 L471.84,621.5 L480.85,621.5 L489.86,621.5 L498.86,621.5 L507.87,606.72 L516.88,554.44 L525.88,514.84 L534.89,516.96 L543.9,507.45 L552.91,400.27 L561.91,478.94 L570.92,500.59 L579.93,510.62 L588.93,519.07 L597.94,500.59 L606.95,561.31 L615.96,616.22 L624.96,621.5 L633.97,621.5 L642.98,621.5 L651.99,621.5 L660.99,621.5 L670,621.5" fill="none" stroke="#000000" stroke-width="0.85" stroke-linejoin="round"/>
<path d="M45.2,621.5a3.3,3.3 0 1,0 6.6,0a3.3,3.3 0 1,0 -6.6,0M54.21,621.5a3.3,3.3 0 1,0 6.6,0a3.3,3.3 0 1,0 -6.6,0M63.21,621.5a3.3,3.3 0 1,0 6.6,0a3.3,3.3 0 1,0 -6.6,0M72.22,617.28a3.3,3.3 0 1,0 6.6,0a3.3,3.3 0 1,0 -6.6,0M81.23,571.34a3.3,3.3 0 1,0 6.6,0a3.3,3.3 0 1,0 -6.6,0M90.24,541.24a3.3,3.3 0 1,0 6.6,0a3.3,3.3 0 1,0 -6.6,0M99.24,525.4a3.3,3.3 0 1,0 6.6,0a3.3,3.3 0 1,0 -6.6,0M108.25,504.28a3.3,3.3 0 1,0 6.6,0a3.3,3.3 0 1,0 -6.6,0M117.26,436.17a3.3,3.3 0 1,0 6.6,0a3.3,3.3 0 1,0 -6.6,0M126.27,495.31a3.3,3.3 0 1,0 6.6,0a3.3,3.3 0 1,0 -6.6,0M135.27,455.18a3.3,3.3 0 1,0 6.6,0a3.3,3.3 0 1,0 -6.6,0M144.28,488.97a3.3,3.3 0 1,0 6.6,0a3.3,3.3 0 1,0 -6.6,0M153.29,476.3a3.3,3.3 0 1,0 6.6,0a3.3,3.3 0 1,0 -6.6,0M162.29,546.52a3.3,3.3 0 1,0 6.6,0a3.3,3.3 0 1,0 -6.6,0M171.3,571.34a3.3,3.3 0 1,0 6.6,0a3.3,3.3 0 1,0 -6.6,0M180.31,617.28a3.3,3.3 0 1,0 6.6,0a3.3,3.3 0 1,0 -6.6,0M189.32,621.5a3.3,3.3 0 1,0 6.6,0a3.3,3.3 0 1,0 -6.6,0M198.32,621.5a3.3,3.3 0 1,0 6.6,0a3.3,3.3 0 1,0 -6.6,0M207.33,621.5a3.3,3.3 0 1,0 6.6,0a3.3,3.3 0 1,0 -6.6,0M216.34,621.5a3.3,3.3 0 1,0 6.6,0a3.3,3.3 0 1,0 -6.6,0M225.34,621.5a3.3,3.3 0 1,0 6.6,0a3.3,3.3 0 1,0 -6.6,0M234.35,621.5a3.3,3.3 0 1,0 6.6,0a3.3,3.3 0 1,0 -6.6,0M243.36,621.5a3.3,3.3 0 1,0 6.6,0a3.3,3.3 0 1,0 -6.6,0M252.37,621.5a3.3,3.3 0 1,0 6.6,0a3.3,3.3 0 1,0 -6.6,0M261.37,621.5a3.3,3.3 0 1,0 6.6,0a3.3,3.3 0 1,0 -6.6,0M270.38,621.5a3.3,3.3 0 1,0 6.6,0a3.3,3.3 0 1,0 -6.6,0M279.39,621.5a3.3,3.3 0 1,0 6.6,0a3.3,3.3 0 1,0 -6.6,0M288.4,613.58a3.3,3.3 0 1,0 6.6,0a3.3,3.3 0 1,0 -6.6,0M297.4,568.7a3.3,3.3 0 1,0 6.6,0a3.3,3.3 0 1,0 -6.6,0M306.41,548.64a3.3,3.3 0 1,0 6.6,0a3.3,3.3 0 1,0 -6.6,0M315.42,530.16a3.3,3.3 0 1,0 6.6,0a3.3,3.3 0 1,0 -6.6,0M324.42,523.29a3.3,3.3 0 1,0 6.6,0a3.3,3.3 0 1,0 -6.6,0M333.43,510.62a3.3,3.3 0 1,0 6.6,0a3.3,3.3 0 1,0 -6.6,0M342.44,503.76a3.3,3.3 0 1,0 6.6,0a3.3,3.3 0 1,0 -6.6,0M351.45,500.59a3.3,3.3 0 1,0 6.6,0a3.3,3.3 0 1,0 -6.6,0M360.45,510.62a3.3,3.3 0 1,0 6.6,0a3.3,3.3 0 1,0 -6.6,0M369.46,519.07a3.3,3.3 0 1,0 6.6,0a3.3,3.3 0 1,0 -6.6,0M378.47,502.17a3.3,3.3 0 1,0 6.6,0a3.3,3.3 0 1,0 -6.6,0M387.48,565.53a3.3,3.3 0 1,0 6.6,0a3.3,3.3 0 1,0 -6.6,0M396.48,616.22a3.3,3.3 0 1,0 6.6,0a3.3,3.3 0 1,0 -6.6,0M405.49,621.5a3.3,3.3 0 1,0 6.6,0a3.3,3.3 0 1,0 -6.6,0M414.5,621.5a3.3,3.3 0 1,0 6.6,0a3.3,3.3 0 1,0 -6.6,0M423.5,621.5a3.3,3.3 0 1,0 6.6,0a3.3,3.3 0 1,0 -6.6,0M432.51,621.5a3.3,3.3 0 1,0 6.6,0a3.3,3.3 0 1,0 -6.6,0M441.52,621.5a3.3,3.3 0 1,0 6.6,0a3.3,3.3 0 1,0 -6.6,0M450.53,621.5a3.3,3.3 0 1,0 6.6,0a3.3,3.3 0 1,0 -6.6,0M459.53,621.5a3.3,3.3 0 1,0 6.6,0a3.3,3.3 0 1,0 -6.6,0M468.54,621.5a3.3,3.3 0 1,0 6.6,0a3.3,3.3 0 1,0 -6.6,0M477.55,621.5a3.3,3.3 0 1,0 6.6,0a3.3,3.3 0 1,0 -6.6,0M486.56,621.5a3.3,3.3 0 1,0 6.6,0a3.3,3.3 0 1,0 -6.6,0M495.56,621.5a3.3,3.3 0 1,0 6.6,0a3.3,3.3 0 1,0 -6.6,0M504.57,606.72a3.3,3.3 0 1,0 6.6,0a3.3,3.3 0 1,0 -6.6,0M513.58,554.44a3.3,3.3 0 1,0 6.6,0a3.3,3.3 0 1,0 -6.6,0M522.58,514.84a3.3,3.3 0 1,0 6.6,0a3.3,3.3 0 1,0 -6.6,0M531.59,516.96a3.3,3.3 0 1,0 6.6,0a3.3,3.3 0 1,0 -6.6,0M540.6,507.45a3.3,3.3 0 1,0 6.6,0a3.3,3.3 0 1,0 -6.6,0M549.61,400.27a3.3,3.3 0 1,0 6.6,0a3.3,3.3 0 1,0 -6.6,0M558.61,478.94a3.3,3.3 0 1,0 6.6,0a3.3,3.3 0 1,0 -6.6,0M567.62,500.59a3.3,3.3 0 1,0 6.6,0a3.3,3.3 0 1,0 -6.6,0M576.63,510.62a3.3,3.3 0 1,0 6.6,0a3.3,3.3 0 1,0 -6.6,0M585.63,519.07a3.3,3.3 0 1,0 6.6,0a3.3,3.3 0 1,0 -6.6,0M594.64,500.59a3.3,3.3 0 1,0 6.6,0a3.3,3.3 0 1,0 -6.6,0M603.65,561.31a3.3,3.3 0 1,0 6.6,0a3.3,3.3 0 1,0 -6.6,0M612.66,616.22a3.3,3.3 0 1,0 6.6,0a3.3,3.3 0 1,0 -6.6,0M621.66,621.5a3.3,3.3 0 1,0 6.6,0a3.3,3.3 0 1,0 -6.6,0M630.67,621.5a3.3,3.3 0 1,0 6.6,0a3.3,3.3 0 1,0 -6.6,0M639.68,621.5a3.3,3.3 0 1,0 6.6,0a3.3,3.3 0 1,0 -6.6,0M648.69,621.5a3.3,3.3 0 1,0 6.6,0a3.3,3.3 0 1,0 -6.6,0M657.69,621.5a3.3,3.3 0 1,0 6.6,0a3.3,3.3 0 1,0 -6.6,0M666.7,621.5a3.3,3.3 0 1,0 6.6,0a3.3,3.3 0 1,0 -6.6,0" fill="none" stroke="#000000" stroke-width="0.95"/>
<path d="M48.5,621.5 L57.51,621.5 L66.51,621.5 L75.52,611.95 L84.53,569.14 L93.54,524.74 L102.54,501.32 L111.55,487.29 L120.56,482.71 L129.57,480.06 L138.57,486.19 L147.58,490.87 L156.59,507.32 L165.59,534.34 L174.6,565.05 L183.61,614.51 L192.62,621.5 L201.62,621.5 L210.63,621.5 L219.64,621.5 L228.64,621.5 L237.65,621.5 L246.66,621.5 L255.67,621.5 L264.67,621.5 L273.68,621.5 L282.69,621.5 L291.7,610.6 L300.7,566.73 L309.71,524.33 L318.72,501.74 L327.72,491.33 L336.73,480.16 L345.74,478.62 L354.75,485.11 L363.75,489.75 L372.76,508.58 L381.77,528 L390.78,567.62 L399.78,615.36 L408.79,621.5 L417.8,621.5 L426.8,621.5 L435.81,621.5 L444.82,621.5 L453.83,621.5 L462.83,621.5 L471.84,621.5 L480.85,621.5 L489.86,621.5 L498.86,621.5 L507.87,611.48 L516.88,567.23 L525.88,525.49 L534.89,501.21 L543.9,490.34 L552.91,481.6 L561.91,479.23 L570.92,483.51 L579.93,489.35 L588.93,509.48 L597.94,531.94 L606.95,565.98 L615.96,614.89 L624.96,621.5 L633.97,621.5 L642.98,621.5 L651.99,621.5 L660.99,621.5 L670,621.5" fill="none" stroke="#ff0000" stroke-width="0.85" stroke-linejoin="round"/>
<path d="M44.9,621.5h7.2M48.5,617.9v7.2M53.91,621.5h7.2M57.51,617.9v7.2M62.91,621.5h7.2M66.51,617.9v7.2M71.92,611.95h7.2M75.52,608.35v7.2M80.93,569.14h7.2M84.53,565.54v7.2M89.94,524.74h7.2M93.54,521.14v7.2M98.94,501.32h7.2M102.54,497.72v7.2M107.95,487.29h7.2M111.55,483.69v7.2M116.96,482.71h7.2M120.56,479.11v7.2M125.97,480.06h7.2M129.57,476.46v7.2M134.97,486.19h7.2M138.57,482.59v7.2M143.98,490.87h7.2M147.58,487.27v7.2M152.99,507.32h7.2M156.59,503.72v7.2M161.99,534.34h7.2M165.59,530.74v7.2M171,565.05h7.2M174.6,561.45v7.2M180.01,614.51h7.2M183.61,610.91v7.2M189.02,621.5h7.2M192.62,617.9v7.2M198.02,621.5h7.2M201.62,617.9v7.2M207.03,621.5h7.2M210.63,617.9v7.2M216.04,621.5h7.2M219.64,617.9v7.2M225.04,621.5h7.2M228.64,617.9v7.2M234.05,621.5h7.2M237.65,617.9v7.2M243.06,621.5h7.2M246.66,617.9v7.2M252.07,621.5h7.2M255.67,617.9v7.2M261.07,621.5h7.2M264.67,617.9v7.2M270.08,621.5h7.2M273.68,617.9v7.2M279.09,621.5h7.2M282.69,617.9v7.2M288.1,610.6h7.2M291.7,607v7.2M297.1,566.73h7.2M300.7,563.13v7.2M306.11,524.33h7.2M309.71,520.73v7.2M315.12,501.74h7.2M318.72,498.14v7.2M324.12,491.33h7.2M327.72,487.73v7.2M333.13,480.16h7.2M336.73,476.56v7.2M342.14,478.62h7.2M345.74,475.02v7.2M351.15,485.11h7.2M354.75,481.51v7.2M360.15,489.75h7.2M363.75,486.15v7.2M369.16,508.58h7.2M372.76,504.98v7.2M378.17,528h7.2M381.77,524.4v7.2M387.18,567.62h7.2M390.78,564.02v7.2M396.18,615.36h7.2M399.78,611.76v7.2M405.19,621.5h7.2M408.79,617.9v7.2M414.2,621.5h7.2M417.8,617.9v7.2M423.2,621.5h7.2M426.8,617.9v7.2M432.21,621.5h7.2M435.81,617.9v7.2M441.22,621.5h7.2M444.82,617.9v7.2M450.23,621.5h7.2M453.83,617.9v7.2M459.23,621.5h7.2M462.83,617.9v7.2M468.24,621.5h7.2M471.84,617.9v7.2M477.25,621.5h7.2M480.85,617.9v7.2M486.26,621.5h7.2M489.86,617.9v7.2M495.26,621.5h7.2M498.86,617.9v7.2M504.27,611.48h7.2M507.87,607.88v7.2M513.28,567.23h7.2M516.88,563.63v7.2M522.28,525.49h7.2M525.88,521.89v7.2M531.29,501.21h7.2M534.89,497.61v7.2M540.3,490.34h7.2M543.9,486.74v7.2M549.31,481.6h7.2M552.91,478v7.2M558.31,479.23h7.2M561.91,475.63v7.2M567.32,483.51h7.2M570.92,479.91v7.2M576.33,489.35h7.2M579.93,485.75v7.2M585.33,509.48h7.2M588.93,505.88v7.2M594.34,531.94h7.2M597.94,528.34v7.2M603.35,565.98h7.2M606.95,562.38v7.2M612.36,614.89h7.2M615.96,611.29v7.2M621.36,621.5h7.2M624.96,617.9v7.2M630.37,621.5h7.2M633.97,617.9v7.2M639.38,621.5h7.2M642.98,617.9v7.2M648.39,621.5h7.2M651.99,617.9v7.2M657.39,621.5h7.2M660.99,617.9v7.2M666.4,621.5h7.2M670,617.9v7.2" fill="none" stroke="#ff0000" stroke-width="0.95"/>
<path d="M48.5,621.5 L57.51,621.5 L66.51,621.5 L75.52,610.16 L84.53,568.16 L93.54,524 L102.54,501.21 L111.55,492.03 L120.56,484.63 L129.57,478.08 L138.57,483.53 L147.58,494.01 L156.59,504.15 L165.59,532.58 L174.6,568.45 L183.61,613.12 L192.62,621.5 L201.62,618.33 L210.63,618.33 L219.64,618.33 L228.64,618.33 L237.65,618.33 L246.66,618.33 L255.67,618.33 L264.67,618.33 L273.68,618.33 L282.69,621.5 L291.7,613 L300.7,563.72 L309.71,527.4 L318.72,505.25 L327.72,486.72 L336.73,486.4 L345.74,479.34 L354.75,482.14 L363.75,491.21 L372.76,504.72 L381.77,530.15 L390.78,568.95 L399.78,615.25 L408.79,621.5 L417.8,618.33 L426.8,618.33 L435.81,618.33 L444.82,618.33 L453.83,618.33 L462.83,618.33 L471.84,618.33 L480.85,618.33 L489.86,618.33 L498.86,621.5 L507.87,610.62 L516.88,568.53 L525.88,527.31 L534.89,501.28 L543.9,489.8 L552.91,476.3 L561.91,479.43 L570.92,486.74 L579.93,492.14 L588.93,501.63 L597.94,532.15 L606.95,566.7 L615.96,614.52 L624.96,621.5 L633.97,621.5 L642.98,621.5 L651.99,621.5 L660.99,621.5 L670,621.5" fill="none" stroke="#0000ff" stroke-width="0.85" stroke-linejoin="round"/>
<path d="M44.9,621.5h7.2M48.5,617.9v7.2M45.9,618.9l5.2,5.2M45.9,624.1l5.2,-5.2M53.91,621.5h7.2M57.51,617.9v7.2M54.91,618.9l5.2,5.2M54.91,624.1l5.2,-5.2M62.91,621.5h7.2M66.51,617.9v7.2M63.91,618.9l5.2,5.2M63.91,624.1l5.2,-5.2M71.92,610.16h7.2M75.52,606.56v7.2M72.92,607.56l5.2,5.2M72.92,612.76l5.2,-5.2M80.93,568.16h7.2M84.53,564.56v7.2M81.93,565.56l5.2,5.2M81.93,570.76l5.2,-5.2M89.94,524h7.2M93.54,520.4v7.2M90.94,521.4l5.2,5.2M90.94,526.6l5.2,-5.2M98.94,501.21h7.2M102.54,497.61v7.2M99.94,498.61l5.2,5.2M99.94,503.81l5.2,-5.2M107.95,492.03h7.2M111.55,488.43v7.2M108.95,489.43l5.2,5.2M108.95,494.63l5.2,-5.2M116.96,484.63h7.2M120.56,481.03v7.2M117.96,482.03l5.2,5.2M117.96,487.23l5.2,-5.2M125.97,478.08h7.2M129.57,474.48v7.2M126.97,475.48l5.2,5.2M126.97,480.68l5.2,-5.2M134.97,483.53h7.2M138.57,479.93v7.2M135.97,480.93l5.2,5.2M135.97,486.13l5.2,-5.2M143.98,494.01h7.2M147.58,490.41v7.2M144.98,491.41l5.2,5.2M144.98,496.61l5.2,-5.2M152.99,504.15h7.2M156.59,500.55v7.2M153.99,501.55l5.2,5.2M153.99,506.75l5.2,-5.2M161.99,532.58h7.2M165.59,528.98v7.2M162.99,529.98l5.2,5.2M162.99,535.18l5.2,-5.2M171,568.45h7.2M174.6,564.85v7.2M172,565.85l5.2,5.2M172,571.05l5.2,-5.2M180.01,613.12h7.2M183.61,609.52v7.2M181.01,610.52l5.2,5.2M181.01,615.72l5.2,-5.2M189.02,621.5h7.2M192.62,617.9v7.2M190.02,618.9l5.2,5.2M190.02,624.1l5.2,-5.2M198.02,618.33h7.2M201.62,614.73v7.2M199.02,615.73l5.2,5.2M199.02,620.93l5.2,-5.2M207.03,618.33h7.2M210.63,614.73v7.2M208.03,615.73l5.2,5.2M208.03,620.93l5.2,-5.2M216.04,618.33h7.2M219.64,614.73v7.2M217.04,615.73l5.2,5.2M217.04,620.93l5.2,-5.2M225.04,618.33h7.2M228.64,614.73v7.2M226.04,615.73l5.2,5.2M226.04,620.93l5.2,-5.2M234.05,618.33h7.2M237.65,614.73v7.2M235.05,615.73l5.2,5.2M235.05,620.93l5.2,-5.2M243.06,618.33h7.2M246.66,614.73v7.2M244.06,615.73l5.2,5.2M244.06,620.93l5.2,-5.2M252.07,618.33h7.2M255.67,614.73v7.2M253.07,615.73l5.2,5.2M253.07,620.93l5.2,-5.2M261.07,618.33h7.2M264.67,614.73v7.2M262.07,615.73l5.2,5.2M262.07,620.93l5.2,-5.2M270.08,618.33h7.2M273.68,614.73v7.2M271.08,615.73l5.2,5.2M271.08,620.93l5.2,-5.2M279.09,621.5h7.2M282.69,617.9v7.2M280.09,618.9l5.2,5.2M280.09,624.1l5.2,-5.2M288.1,613h7.2M291.7,609.4v7.2M289.1,610.4l5.2,5.2M289.1,615.6l5.2,-5.2M297.1,563.72h7.2M300.7,560.12v7.2M298.1,561.12l5.2,5.2M298.1,566.32l5.2,-5.2M306.11,527.4h7.2M309.71,523.8v7.2M307.11,524.8l5.2,5.2M307.11,530l5.2,-5.2M315.12,505.25h7.2M318.72,501.65v7.2M316.12,502.65l5.2,5.2M316.12,507.85l5.2,-5.2M324.12,486.72h7.2M327.72,483.12v7.2M325.12,484.12l5.2,5.2M325.12,489.32l5.2,-5.2M333.13,486.4h7.2M336.73,482.8v7.2M334.13,483.8l5.2,5.2M334.13,489l5.2,-5.2M342.14,479.34h7.2M345.74,475.74v7.2M343.14,476.74l5.2,5.2M343.14,481.94l5.2,-5.2M351.15,482.14h7.2M354.75,478.54v7.2M352.15,479.54l5.2,5.2M352.15,484.74l5.2,-5.2M360.15,491.21h7.2M363.75,487.61v7.2M361.15,488.61l5.2,5.2M361.15,493.81l5.2,-5.2M369.16,504.72h7.2M372.76,501.12v7.2M370.16,502.12l5.2,5.2M370.16,507.32l5.2,-5.2M378.17,530.15h7.2M381.77,526.55v7.2M379.17,527.55l5.2,5.2M379.17,532.75l5.2,-5.2M387.18,568.95h7.2M390.78,565.35v7.2M388.18,566.35l5.2,5.2M388.18,571.55l5.2,-5.2M396.18,615.25h7.2M399.78,611.65v7.2M397.18,612.65l5.2,5.2M397.18,617.85l5.2,-5.2M405.19,621.5h7.2M408.79,617.9v7.2M406.19,618.9l5.2,5.2M406.19,624.1l5.2,-5.2M414.2,618.33h7.2M417.8,614.73v7.2M415.2,615.73l5.2,5.2M415.2,620.93l5.2,-5.2M423.2,618.33h7.2M426.8,614.73v7.2M424.2,615.73l5.2,5.2M424.2,620.93l5.2,-5.2M432.21,618.33h7.2M435.81,614.73v7.2M433.21,615.73l5.2,5.2M433.21,620.93l5.2,-5.2M441.22,618.33h7.2M444.82,614.73v7.2M442.22,615.73l5.2,5.2M442.22,620.93l5.2,-5.2M450.23,618.33h7.2M453.83,614.73v7.2M451.23,615.73l5.2,5.2M451.23,620.93l5.2,-5.2M459.23,618.33h7.2M462.83,614.73v7.2M460.23,615.73l5.2,5.2M460.23,620.93l5.2,-5.2M468.24,618.33h7.2M471.84,614.73v7.2M469.24,615.73l5.2,5.2M469.24,620.93l5.2,-5.2M477.25,618.33h7.2M480.85,614.73v7.2M478.25,615.73l5.2,5.2M478.25,620.93l5.2,-5.2M486.26,618.33h7.2M489.86,614.73v7.2M487.26,615.73l5.2,5.2M487.26,620.93l5.2,-5.2M495.26,621.5h7.2M498.86,617.9v7.2M496.26,618.9l5.2,5.2M496.26,624.1l5.2,-5.2M504.27,610.62h7.2M507.87,607.02v7.2M505.27,608.02l5.2,5.2M505.27,613.22l5.2,-5.2M513.28,568.53h7.2M516.88,564.93v7.2M514.28,565.93l5.2,5.2M514.28,571.13l5.2,-5.2M522.28,527.31h7.2M525.88,523.71v7.2M523.28,524.71l5.2,5.2M523.28,529.91l5.2,-5.2M531.29,501.28h7.2M534.89,497.68v7.2M532.29,498.68l5.2,5.2M532.29,503.88l5.2,-5.2M540.3,489.8h7.2M543.9,486.2v7.2M541.3,487.2l5.2,5.2M541.3,492.4l5.2,-5.2M549.31,476.3h7.2M552.91,472.7v7.2M550.31,473.7l5.2,5.2M550.31,478.9l5.2,-5.2M558.31,479.43h7.2M561.91,475.83v7.2M559.31,476.83l5.2,5.2M559.31,482.03l5.2,-5.2M567.32,486.74h7.2M570.92,483.14v7.2M568.32,484.14l5.2,5.2M568.32,489.34l5.2,-5.2M576.33,492.14h7.2M579.93,488.54v7.2M577.33,489.54l5.2,5.2M577.33,494.74l5.2,-5.2M585.33,501.63h7.2M588.93,498.03v7.2M586.33,499.03l5.2,5.2M586.33,504.23l5.2,-5.2M594.34,532.15h7.2M597.94,528.55v7.2M595.34,529.55l5.2,5.2M595.34,534.75l5.2,-5.2M603.35,566.7h7.2M606.95,563.1v7.2M604.35,564.1l5.2,5.2M604.35,569.3l5.2,-5.2M612.36,614.52h7.2M615.96,610.92v7.2M613.36,611.92l5.2,5.2M613.36,617.12l5.2,-5.2M621.36,621.5h7.2M624.96,617.9v7.2M622.36,618.9l5.2,5.2M622.36,624.1l5.2,-5.2M630.37,621.5h7.2M633.97,617.9v7.2M631.37,618.9l5.2,5.2M631.37,624.1l5.2,-5.2M639.38,621.5h7.2M642.98,617.9v7.2M640.38,618.9l5.2,5.2M640.38,624.1l5.2,-5.2M648.39,621.5h7.2M651.99,617.9v7.2M649.39,618.9l5.2,5.2M649.39,624.1l5.2,-5.2M657.39,621.5h7.2M660.99,617.9v7.2M658.39,618.9l5.2,5.2M658.39,624.1l5.2,-5.2M666.4,621.5h7.2M670,617.9v7.2M667.4,618.9l5.2,5.2M667.4,624.1l5.2,-5.2" fill="none" stroke="#0000ff" stroke-width="0.95"/>
<path d="M48.5,621.5 L57.51,621.5 L66.51,621.5 L75.52,609.75 L84.53,567.47 L93.54,525 L102.54,499.35 L111.55,485.5 L120.56,485.12 L129.57,478.78 L138.57,482.74 L147.58,493.26 L156.59,506.89 L165.59,531.25 L174.6,567.59 L183.61,616.09 L192.62,621.5 L201.62,621.5 L210.63,621.5 L219.64,621.5 L228.64,621.5 L237.65,621.5 L246.66,621.5 L255.67,621.5 L264.67,621.5 L273.68,621.5 L282.69,621.5 L291.7,609.81 L300.7,566.57 L309.71,525.54 L318.72,504.7 L327.72,486.73 L336.73,483.35 L345.74,480.13 L354.75,486.49 L363.75,493.46 L372.76,506.53 L381.77,535.28 L390.78,568.29 L399.78,614.5 L408.79,621.5 L417.8,621.5 L426.8,621.5 L435.81,621.5 L444.82,621.5 L453.83,621.5 L462.83,621.5 L471.84,621.5 L480.85,621.5 L489.86,621.5 L498.86,621.5 L507.87,612.57 L516.88,565.97 L525.88,526.27 L534.89,498.08 L543.9,482.78 L552.91,476.55 L561.91,477.88 L570.92,485.05 L579.93,488.94 L588.93,502.22 L597.94,532.85 L606.95,568.73 L615.96,613.26 L624.96,621.5 L633.97,621.5 L642.98,621.5 L651.99,621.5 L660.99,621.5 L670,621.5" fill="none" stroke="#00e000" stroke-width="0.85" stroke-linejoin="round"/>
<path d="M47.4,621.5a1.1,1.1 0 1,0 2.2,0a1.1,1.1 0 1,0 -2.2,0M56.41,621.5a1.1,1.1 0 1,0 2.2,0a1.1,1.1 0 1,0 -2.2,0M65.41,621.5a1.1,1.1 0 1,0 2.2,0a1.1,1.1 0 1,0 -2.2,0M74.42,609.75a1.1,1.1 0 1,0 2.2,0a1.1,1.1 0 1,0 -2.2,0M83.43,567.47a1.1,1.1 0 1,0 2.2,0a1.1,1.1 0 1,0 -2.2,0M92.44,525a1.1,1.1 0 1,0 2.2,0a1.1,1.1 0 1,0 -2.2,0M101.44,499.35a1.1,1.1 0 1,0 2.2,0a1.1,1.1 0 1,0 -2.2,0M110.45,485.5a1.1,1.1 0 1,0 2.2,0a1.1,1.1 0 1,0 -2.2,0M119.46,485.12a1.1,1.1 0 1,0 2.2,0a1.1,1.1 0 1,0 -2.2,0M128.47,478.78a1.1,1.1 0 1,0 2.2,0a1.1,1.1 0 1,0 -2.2,0M137.47,482.74a1.1,1.1 0 1,0 2.2,0a1.1,1.1 0 1,0 -2.2,0M146.48,493.26a1.1,1.1 0 1,0 2.2,0a1.1,1.1 0 1,0 -2.2,0M155.49,506.89a1.1,1.1 0 1,0 2.2,0a1.1,1.1 0 1,0 -2.2,0M164.49,531.25a1.1,1.1 0 1,0 2.2,0a1.1,1.1 0 1,0 -2.2,0M173.5,567.59a1.1,1.1 0 1,0 2.2,0a1.1,1.1 0 1,0 -2.2,0M182.51,616.09a1.1,1.1 0 1,0 2.2,0a1.1,1.1 0 1,0 -2.2,0M191.52,621.5a1.1,1.1 0 1,0 2.2,0a1.1,1.1 0 1,0 -2.2,0M200.52,621.5a1.1,1.1 0 1,0 2.2,0a1.1,1.1 0 1,0 -2.2,0M209.53,621.5a1.1,1.1 0 1,0 2.2,0a1.1,1.1 0 1,0 -2.2,0M218.54,621.5a1.1,1.1 0 1,0 2.2,0a1.1,1.1 0 1,0 -2.2,0M227.54,621.5a1.1,1.1 0 1,0 2.2,0a1.1,1.1 0 1,0 -2.2,0M236.55,621.5a1.1,1.1 0 1,0 2.2,0a1.1,1.1 0 1,0 -2.2,0M245.56,621.5a1.1,1.1 0 1,0 2.2,0a1.1,1.1 0 1,0 -2.2,0M254.57,621.5a1.1,1.1 0 1,0 2.2,0a1.1,1.1 0 1,0 -2.2,0M263.57,621.5a1.1,1.1 0 1,0 2.2,0a1.1,1.1 0 1,0 -2.2,0M272.58,621.5a1.1,1.1 0 1,0 2.2,0a1.1,1.1 0 1,0 -2.2,0M281.59,621.5a1.1,1.1 0 1,0 2.2,0a1.1,1.1 0 1,0 -2.2,0M290.6,609.81a1.1,1.1 0 1,0 2.2,0a1.1,1.1 0 1,0 -2.2,0M299.6,566.57a1.1,1.1 0 1,0 2.2,0a1.1,1.1 0 1,0 -2.2,0M308.61,525.54a1.1,1.1 0 1,0 2.2,0a1.1,1.1 0 1,0 -2.2,0M317.62,504.7a1.1,1.1 0 1,0 2.2,0a1.1,1.1 0 1,0 -2.2,0M326.62,486.73a1.1,1.1 0 1,0 2.2,0a1.1,1.1 0 1,0 -2.2,0M335.63,483.35a1.1,1.1 0 1,0 2.2,0a1.1,1.1 0 1,0 -2.2,0M344.64,480.13a1.1,1.1 0 1,0 2.2,0a1.1,1.1 0 1,0 -2.2,0M353.65,486.49a1.1,1.1 0 1,0 2.2,0a1.1,1.1 0 1,0 -2.2,0M362.65,493.46a1.1,1.1 0 1,0 2.2,0a1.1,1.1 0 1,0 -2.2,0M371.66,506.53a1.1,1.1 0 1,0 2.2,0a1.1,1.1 0 1,0 -2.2,0M380.67,535.28a1.1,1.1 0 1,0 2.2,0a1.1,1.1 0 1,0 -2.2,0M389.68,568.29a1.1,1.1 0 1,0 2.2,0a1.1,1.1 0 1,0 -2.2,0M398.68,614.5a1.1,1.1 0 1,0 2.2,0a1.1,1.1 0 1,0 -2.2,0M407.69,621.5a1.1,1.1 0 1,0 2.2,0a1.1,1.1 0 1,0 -2.2,0M416.7,621.5a1.1,1.1 0 1,0 2.2,0a1.1,1.1 0 1,0 -2.2,0M425.7,621.5a1.1,1.1 0 1,0 2.2,0a1.1,1.1 0 1,0 -2.2,0M434.71,621.5a1.1,1.1 0 1,0 2.2,0a1.1,1.1 0 1,0 -2.2,0M443.72,621.5a1.1,1.1 0 1,0 2.2,0a1.1,1.1 0 1,0 -2.2,0M452.73,621.5a1.1,1.1 0 1,0 2.2,0a1.1,1.1 0 1,0 -2.2,0M461.73,621.5a1.1,1.1 0 1,0 2.2,0a1.1,1.1 0 1,0 -2.2,0M470.74,621.5a1.1,1.1 0 1,0 2.2,0a1.1,1.1 0 1,0 -2.2,0M479.75,621.5a1.1,1.1 0 1,0 2.2,0a1.1,1.1 0 1,0 -2.2,0M488.76,621.5a1.1,1.1 0 1,0 2.2,0a1.1,1.1 0 1,0 -2.2,0M497.76,621.5a1.1,1.1 0 1,0 2.2,0a1.1,1.1 0 1,0 -2.2,0M506.77,612.57a1.1,1.1 0 1,0 2.2,0a1.1,1.1 0 1,0 -2.2,0M515.78,565.97a1.1,1.1 0 1,0 2.2,0a1.1,1.1 0 1,0 -2.2,0M524.78,526.27a1.1,1.1 0 1,0 2.2,0a1.1,1.1 0 1,0 -2.2,0M533.79,498.08a1.1,1.1 0 1,0 2.2,0a1.1,1.1 0 1,0 -2.2,0M542.8,482.78a1.1,1.1 0 1,0 2.2,0a1.1,1.1 0 1,0 -2.2,0M551.81,476.55a1.1,1.1 0 1,0 2.2,0a1.1,1.1 0 1,0 -2.2,0M560.81,477.88a1.1,1.1 0 1,0 2.2,0a1.1,1.1 0 1,0 -2.2,0M569.82,485.05a1.1,1.1 0 1,0 2.2,0a1.1,1.1 0 1,0 -2.2,0M578.83,488.94a1.1,1.1 0 1,0 2.2,0a1.1,1.1 0 1,0 -2.2,0M587.83,502.22a1.1,1.1 0 1,0 2.2,0a1.1,1.1 0 1,0 -2.2,0M596.84,532.85a1.1,1.1 0 1,0 2.2,0a1.1,1.1 0 1,0 -2.2,0M605.85,568.73a1.1,1.1 0 1,0 2.2,0a1.1,1.1 0 1,0 -2.2,0M614.86,613.26a1.1,1.1 0 1,0 2.2,0a1.1,1.1 0 1,0 -2.2,0M623.86,621.5a1.1,1.1 0 1,0 2.2,0a1.1,1.1 0 1,0 -2.2,0M632.87,621.5a1.1,1.1 0 1,0 2.2,0a1.1,1.1 0 1,0 -2.2,0M641.88,621.5a1.1,1.1 0 1,0 2.2,0a1.1,1.1 0 1,0 -2.2,0M650.89,621.5a1.1,1.1 0 1,0 2.2,0a1.1,1.1 0 1,0 -2.2,0M659.89,621.5a1.1,1.1 0 1,0 2.2,0a1.1,1.1 0 1,0 -2.2,0M668.9,621.5a1.1,1.1 0 1,0 2.2,0a1.1,1.1 0 1,0 -2.2,0" fill="#00e000" stroke="none"/>
<path d="M48.5,621.5 L57.51,621.5 L66.51,621.5 L75.52,612.76 L84.53,567.86 L93.54,527.8 L102.54,502.21 L111.55,486.52 L120.56,484.99 L129.57,474.9 L138.57,484.1 L147.58,494.32 L156.59,508.04 L165.59,533.31 L174.6,565.87 L183.61,616.04 L192.62,621.5 L201.62,621.5 L210.63,621.5 L219.64,621.5 L228.64,621.5 L237.65,621.5 L246.66,621.5 L255.67,621.5 L264.67,621.5 L273.68,621.5 L282.69,621.5 L291.7,609.96 L300.7,566.24 L309.71,526.83 L318.72,501.16 L327.72,488.47 L336.73,479.66 L345.74,479.02 L354.75,481.33 L363.75,489.82 L372.76,503.58 L381.77,527.05 L390.78,565.63 L399.78,615.08 L408.79,621.5 L417.8,621.5 L426.8,621.5 L435.81,621.5 L444.82,621.5 L453.83,621.5 L462.83,621.5 L471.84,621.5 L480.85,621.5 L489.86,621.5 L498.86,621.5 L507.87,609.18 L516.88,566.96 L525.88,527.58 L534.89,501.57 L543.9,484.96 L552.91,479.72 L561.91,480.1 L570.92,483.09 L579.93,487.99 L588.93,499.93 L597.94,530.87 L606.95,567.03 L615.96,613.38 L624.96,621.5 L633.97,621.5 L642.98,621.5 L651.99,621.5 L660.99,621.5 L670,621.5" fill="none" stroke="#f0883c" stroke-width="0.85" stroke-linejoin="round"/>
<path d="M45.6,618.6h5.8v5.8h-5.8zM54.61,618.6h5.8v5.8h-5.8zM63.61,618.6h5.8v5.8h-5.8zM72.62,609.86h5.8v5.8h-5.8zM81.63,564.96h5.8v5.8h-5.8zM90.64,524.9h5.8v5.8h-5.8zM99.64,499.31h5.8v5.8h-5.8zM108.65,483.62h5.8v5.8h-5.8zM117.66,482.09h5.8v5.8h-5.8zM126.67,472h5.8v5.8h-5.8zM135.67,481.2h5.8v5.8h-5.8zM144.68,491.42h5.8v5.8h-5.8zM153.69,505.14h5.8v5.8h-5.8zM162.69,530.41h5.8v5.8h-5.8zM171.7,562.97h5.8v5.8h-5.8zM180.71,613.14h5.8v5.8h-5.8zM189.72,618.6h5.8v5.8h-5.8zM198.72,618.6h5.8v5.8h-5.8zM207.73,618.6h5.8v5.8h-5.8zM216.74,618.6h5.8v5.8h-5.8zM225.74,618.6h5.8v5.8h-5.8zM234.75,618.6h5.8v5.8h-5.8zM243.76,618.6h5.8v5.8h-5.8zM252.77,618.6h5.8v5.8h-5.8zM261.77,618.6h5.8v5.8h-5.8zM270.78,618.6h5.8v5.8h-5.8zM279.79,618.6h5.8v5.8h-5.8zM288.8,607.06h5.8v5.8h-5.8zM297.8,563.34h5.8v5.8h-5.8zM306.81,523.93h5.8v5.8h-5.8zM315.82,498.26h5.8v5.8h-5.8zM324.82,485.57h5.8v5.8h-5.8zM333.83,476.76h5.8v5.8h-5.8zM342.84,476.12h5.8v5.8h-5.8zM351.85,478.43h5.8v5.8h-5.8zM360.85,486.92h5.8v5.8h-5.8zM369.86,500.68h5.8v5.8h-5.8zM378.87,524.15h5.8v5.8h-5.8zM387.88,562.73h5.8v5.8h-5.8zM396.88,612.18h5.8v5.8h-5.8zM405.89,618.6h5.8v5.8h-5.8zM414.9,618.6h5.8v5.8h-5.8zM423.9,618.6h5.8v5.8h-5.8zM432.91,618.6h5.8v5.8h-5.8zM441.92,618.6h5.8v5.8h-5.8zM450.93,618.6h5.8v5.8h-5.8zM459.93,618.6h5.8v5.8h-5.8zM468.94,618.6h5.8v5.8h-5.8zM477.95,618.6h5.8v5.8h-5.8zM486.96,618.6h5.8v5.8h-5.8zM495.96,618.6h5.8v5.8h-5.8zM504.97,606.28h5.8v5.8h-5.8zM513.98,564.06h5.8v5.8h-5.8zM522.98,524.68h5.8v5.8h-5.8zM531.99,498.67h5.8v5.8h-5.8zM541,482.06h5.8v5.8h-5.8zM550.01,476.82h5.8v5.8h-5.8zM559.01,477.2h5.8v5.8h-5.8zM568.02,480.19h5.8v5.8h-5.8zM577.03,485.09h5.8v5.8h-5.8zM586.03,497.03h5.8v5.8h-5.8zM595.04,527.97h5.8v5.8h-5.8zM604.05,564.13h5.8v5.8h-5.8zM613.06,610.48h5.8v5.8h-5.8zM622.06,618.6h5.8v5.8h-5.8zM631.07,618.6h5.8v5.8h-5.8zM640.08,618.6h5.8v5.8h-5.8zM649.09,618.6h5.8v5.8h-5.8zM658.09,618.6h5.8v5.8h-5.8zM667.1,618.6h5.8v5.8h-5.8z" fill="none" stroke="#f0883c" stroke-width="0.95"/>
<path d="M48.5,621.5 L57.51,621.5 L66.51,621.5 L75.52,619.92 L84.53,568.7 L93.54,526.46 L102.54,530.68 L111.55,399.74 L120.56,481.05 L129.57,501.64 L138.57,505.34 L147.58,559.2 L156.59,494.25 L165.59,524.35 L174.6,568.7 L183.61,620.44 L192.62,621.5 L201.62,621.5 L210.63,621.5 L219.64,621.5 L228.64,621.5 L237.65,621.5 L246.66,621.5 L255.67,621.5 L264.67,621.5 L273.68,621.5 L282.69,621.5 L291.7,610.94 L300.7,568.7 L309.71,527.52 L318.72,530.16 L327.72,507.98 L336.73,464.68 L345.74,357.5 L354.75,514.84 L363.75,434.06 L372.76,494.25 L381.77,584.54 L390.78,565.53 L399.78,620.44 L408.79,621.5 L417.8,621.5 L426.8,621.5 L435.81,621.5 L444.82,621.5 L453.83,621.5 L462.83,621.5 L471.84,621.5 L480.85,621.5 L489.86,621.5 L498.86,621.5 L507.87,610.94 L516.88,568.7 L525.88,493.2 L534.89,543.36 L543.9,400.27 L552.91,481.58 L561.91,508.51 L570.92,458.88 L579.93,491.61 L588.93,502.7 L597.94,600.91 L606.95,566.59 L615.96,620.44 L624.96,621.5 L633.97,621.5 L642.98,621.5 L651.99,621.5 L660.99,621.5 L670,621.5" fill="none" stroke="#77ac30" stroke-width="0.85" stroke-linejoin="round"/>
<path d="M48.5,617.5l3.5,4l-3.5,4l-3.5,-4zM57.51,617.5l3.5,4l-3.5,4l-3.5,-4zM66.51,617.5l3.5,4l-3.5,4l-3.5,-4zM75.52,615.92l3.5,4l-3.5,4l-3.5,-4zM84.53,564.7l3.5,4l-3.5,4l-3.5,-4zM93.54,522.46l3.5,4l-3.5,4l-3.5,-4zM102.54,526.68l3.5,4l-3.5,4l-3.5,-4zM111.55,395.74l3.5,4l-3.5,4l-3.5,-4zM120.56,477.05l3.5,4l-3.5,4l-3.5,-4zM129.57,497.64l3.5,4l-3.5,4l-3.5,-4zM138.57,501.34l3.5,4l-3.5,4l-3.5,-4zM147.58,555.2l3.5,4l-3.5,4l-3.5,-4zM156.59,490.25l3.5,4l-3.5,4l-3.5,-4zM165.59,520.35l3.5,4l-3.5,4l-3.5,-4zM174.6,564.7l3.5,4l-3.5,4l-3.5,-4zM183.61,616.44l3.5,4l-3.5,4l-3.5,-4zM192.62,617.5l3.5,4l-3.5,4l-3.5,-4zM201.62,617.5l3.5,4l-3.5,4l-3.5,-4zM210.63,617.5l3.5,4l-3.5,4l-3.5,-4zM219.64,617.5l3.5,4l-3.5,4l-3.5,-4zM228.64,617.5l3.5,4l-3.5,4l-3.5,-4zM237.65,617.5l3.5,4l-3.5,4l-3.5,-4zM246.66,617.5l3.5,4l-3.5,4l-3.5,-4zM255.67,617.5l3.5,4l-3.5,4l-3.5,-4zM264.67,617.5l3.5,4l-3.5,4l-3.5,-4zM273.68,617.5l3.5,4l-3.5,4l-3.5,-4zM282.69,617.5l3.5,4l-3.5,4l-3.5,-4zM291.7,606.94l3.5,4l-3.5,4l-3.5,-4zM300.7,564.7l3.5,4l-3.5,4l-3.5,-4zM309.71,523.52l3.5,4l-3.5,4l-3.5,-4zM318.72,526.16l3.5,4l-3.5,4l-3.5,-4zM327.72,503.98l3.5,4l-3.5,4l-3.5,-4zM336.73,460.68l3.5,4l-3.5,4l-3.5,-4zM345.74,353.5l3.5,4l-3.5,4l-3.5,-4zM354.75,510.84l3.5,4l-3.5,4l-3.5,-4zM363.75,430.06l3.5,4l-3.5,4l-3.5,-4zM372.76,490.25l3.5,4l-3.5,4l-3.5,-4zM381.77,580.54l3.5,4l-3.5,4l-3.5,-4zM390.78,561.53l3.5,4l-3.5,4l-3.5,-4zM399.78,616.44l3.5,4l-3.5,4l-3.5,-4zM408.79,617.5l3.5,4l-3.5,4l-3.5,-4zM417.8,617.5l3.5,4l-3.5,4l-3.5,-4zM426.8,617.5l3.5,4l-3.5,4l-3.5,-4zM435.81,617.5l3.5,4l-3.5,4l-3.5,-4zM444.82,617.5l3.5,4l-3.5,4l-3.5,-4zM453.83,617.5l3.5,4l-3.5,4l-3.5,-4zM462.83,617.5l3.5,4l-3.5,4l-3.5,-4zM471.84,617.5l3.5,4l-3.5,4l-3.5,-4zM480.85,617.5l3.5,4l-3.5,4l-3.5,-4zM489.86,617.5l3.5,4l-3.5,4l-3.5,-4zM498.86,617.5l3.5,4l-3.5,4l-3.5,-4zM507.87,606.94l3.5,4l-3.5,4l-3.5,-4zM516.88,564.7l3.5,4l-3.5,4l-3.5,-4zM525.88,489.2l3.5,4l-3.5,4l-3.5,-4zM534.89,539.36l3.5,4l-3.5,4l-3.5,-4zM543.9,396.27l3.5,4l-3.5,4l-3.5,-4zM552.91,477.58l3.5,4l-3.5,4l-3.5,-4zM561.91,504.51l3.5,4l-3.5,4l-3.5,-4zM570.92,454.88l3.5,4l-3.5,4l-3.5,-4zM579.93,487.61l3.5,4l-3.5,4l-3.5,-4zM588.93,498.7l3.5,4l-3.5,4l-3.5,-4zM597.94,596.91l3.5,4l-3.5,4l-3.5,-4zM606.95,562.59l3.5,4l-3.5,4l-3.5,-4zM615.96,616.44l3.5,4l-3.5,4l-3.5,-4zM624.96,617.5l3.5,4l-3.5,4l-3.5,-4zM633.97,617.5l3.5,4l-3.5,4l-3.5,-4zM642.98,617.5l3.5,4l-3.5,4l-3.5,-4zM651.99,617.5l3.5,4l-3.5,4l-3.5,-4zM660.99,617.5l3.5,4l-3.5,4l-3.5,-4zM670,617.5l3.5,4l-3.5,4l-3.5,-4z" fill="none" stroke="#77ac30" stroke-width="0.95"/>
<path d="M48.5,621.5 L57.51,621.5 L66.51,621.5 L75.52,612.07 L84.53,564.37 L93.54,522.75 L102.54,494.78 L111.55,478.94 L120.56,476.3 L129.57,483.16 L138.57,492.14 L147.58,471.55 L156.59,497.42 L165.59,530.03 L174.6,568.88 L183.61,613.62 L192.62,621.5 L201.62,621.5 L210.63,621.5 L219.64,621.5 L228.64,621.5 L237.65,621.5 L246.66,621.5 L255.67,621.5 L264.67,621.5 L273.68,621.5 L282.69,621.5 L291.7,610.8 L300.7,569.67 L309.71,514.84 L318.72,500.38 L327.72,493.74 L336.73,476.3 L345.74,471.55 L354.75,483.16 L363.75,477.88 L372.76,500.06 L381.77,547.58 L390.78,565.25 L399.78,616.14 L408.79,621.5 L417.8,621.5 L426.8,621.5 L435.81,621.5 L444.82,621.5 L453.83,621.5 L462.83,621.5 L471.84,621.5 L480.85,621.5 L489.86,621.5 L498.86,621.5 L507.87,608.89 L516.88,566.85 L525.88,531.14 L534.89,502.07 L543.9,487.24 L552.91,478.07 L561.91,480.47 L570.92,486.56 L579.93,488.46 L588.93,502.96 L597.94,531.32 L606.95,568.06 L615.96,614.84 L624.96,621.5 L633.97,621.5 L642.98,621.5 L651.99,621.5 L660.99,621.5 L670,621.5" fill="none" stroke="#ffff00" stroke-width="0.85" stroke-linejoin="round"/>
<path d="M48.5,618.2l4.1,6.6h-8.2zM57.51,618.2l4.1,6.6h-8.2zM66.51,618.2l4.1,6.6h-8.2zM75.52,608.77l4.1,6.6h-8.2zM84.53,561.07l4.1,6.6h-8.2zM93.54,519.45l4.1,6.6h-8.2zM102.54,491.48l4.1,6.6h-8.2zM111.55,475.64l4.1,6.6h-8.2zM120.56,473l4.1,6.6h-8.2zM129.57,479.86l4.1,6.6h-8.2zM138.57,488.84l4.1,6.6h-8.2zM147.58,468.25l4.1,6.6h-8.2zM156.59,494.12l4.1,6.6h-8.2zM165.59,526.73l4.1,6.6h-8.2zM174.6,565.58l4.1,6.6h-8.2zM183.61,610.32l4.1,6.6h-8.2zM192.62,618.2l4.1,6.6h-8.2zM201.62,618.2l4.1,6.6h-8.2zM210.63,618.2l4.1,6.6h-8.2zM219.64,618.2l4.1,6.6h-8.2zM228.64,618.2l4.1,6.6h-8.2zM237.65,618.2l4.1,6.6h-8.2zM246.66,618.2l4.1,6.6h-8.2zM255.67,618.2l4.1,6.6h-8.2zM264.67,618.2l4.1,6.6h-8.2zM273.68,618.2l4.1,6.6h-8.2zM282.69,618.2l4.1,6.6h-8.2zM291.7,607.5l4.1,6.6h-8.2zM300.7,566.37l4.1,6.6h-8.2zM309.71,511.54l4.1,6.6h-8.2zM318.72,497.08l4.1,6.6h-8.2zM327.72,490.44l4.1,6.6h-8.2zM336.73,473l4.1,6.6h-8.2zM345.74,468.25l4.1,6.6h-8.2zM354.75,479.86l4.1,6.6h-8.2zM363.75,474.58l4.1,6.6h-8.2zM372.76,496.76l4.1,6.6h-8.2zM381.77,544.28l4.1,6.6h-8.2zM390.78,561.95l4.1,6.6h-8.2zM399.78,612.84l4.1,6.6h-8.2zM408.79,618.2l4.1,6.6h-8.2zM417.8,618.2l4.1,6.6h-8.2zM426.8,618.2l4.1,6.6h-8.2zM435.81,618.2l4.1,6.6h-8.2zM444.82,618.2l4.1,6.6h-8.2zM453.83,618.2l4.1,6.6h-8.2zM462.83,618.2l4.1,6.6h-8.2zM471.84,618.2l4.1,6.6h-8.2zM480.85,618.2l4.1,6.6h-8.2zM489.86,618.2l4.1,6.6h-8.2zM498.86,618.2l4.1,6.6h-8.2zM507.87,605.59l4.1,6.6h-8.2zM516.88,563.55l4.1,6.6h-8.2zM525.88,527.84l4.1,6.6h-8.2zM534.89,498.77l4.1,6.6h-8.2zM543.9,483.94l4.1,6.6h-8.2zM552.91,474.77l4.1,6.6h-8.2zM561.91,477.17l4.1,6.6h-8.2zM570.92,483.26l4.1,6.6h-8.2zM579.93,485.16l4.1,6.6h-8.2zM588.93,499.66l4.1,6.6h-8.2zM597.94,528.02l4.1,6.6h-8.2zM606.95,564.76l4.1,6.6h-8.2zM615.96,611.54l4.1,6.6h-8.2zM624.96,618.2l4.1,6.6h-8.2zM633.97,618.2l4.1,6.6h-8.2zM642.98,618.2l4.1,6.6h-8.2zM651.99,618.2l4.1,6.6h-8.2zM660.99,618.2l4.1,6.6h-8.2zM670,618.2l4.1,6.6h-8.2z" fill="none" stroke="#ffff00" stroke-width="0.95"/>
<path d="M48.5,612.13 L57.51,611.76 L66.51,611.59 L75.52,603.02 L84.53,573.98 L93.54,543.88 L102.54,517.48 L111.55,488.44 L120.56,459.93 L129.57,445.68 L138.57,466.27 L147.58,489.5 L156.59,524.35 L165.59,552.86 L174.6,580.32 L183.61,610.94 L192.62,611.12 L201.62,611.76 L210.63,611.19 L219.64,614.02 L228.64,612.63 L237.65,611.12 L246.66,612.05 L255.67,611.25 L264.67,613.75 L273.68,612.62 L282.69,613.33 L291.7,606.19 L300.7,575.04 L309.71,544.94 L318.72,516.96 L327.72,489.5 L336.73,461.52 L345.74,447.79 L354.75,467.85 L363.75,486.33 L372.76,523.29 L381.77,552.86 L390.78,582.96 L399.78,610.94 L408.79,612.39 L417.8,612.29 L426.8,614.07 L435.81,613.42 L444.82,613.22 L453.83,611.21 L462.83,611.68 L471.84,613.6 L480.85,611.58 L489.86,613.67 L498.86,612.15 L507.87,611.47 L516.88,571.87 L525.88,543.36 L534.89,515.9 L543.9,486.33 L552.91,461.52 L561.91,446.73 L570.92,467.85 L579.93,493.2 L588.93,521.71 L597.94,551.8 L606.95,580.32 L615.96,610.94 L624.96,613.71 L633.97,614.1 L642.98,611.35 L651.99,613.44 L660.99,613.43 L670,611" fill="none" stroke="#9e7a2e" stroke-width="0.85" stroke-linejoin="round"/>
<path d="M48.5,615.43l4.1,-6.6h-8.2zM57.51,615.06l4.1,-6.6h-8.2zM66.51,614.89l4.1,-6.6h-8.2zM75.52,606.32l4.1,-6.6h-8.2zM84.53,577.28l4.1,-6.6h-8.2zM93.54,547.18l4.1,-6.6h-8.2zM102.54,520.78l4.1,-6.6h-8.2zM111.55,491.74l4.1,-6.6h-8.2zM120.56,463.23l4.1,-6.6h-8.2zM129.57,448.98l4.1,-6.6h-8.2zM138.57,469.57l4.1,-6.6h-8.2zM147.58,492.8l4.1,-6.6h-8.2zM156.59,527.65l4.1,-6.6h-8.2zM165.59,556.16l4.1,-6.6h-8.2zM174.6,583.62l4.1,-6.6h-8.2zM183.61,614.24l4.1,-6.6h-8.2zM192.62,614.42l4.1,-6.6h-8.2zM201.62,615.06l4.1,-6.6h-8.2zM210.63,614.49l4.1,-6.6h-8.2zM219.64,617.32l4.1,-6.6h-8.2zM228.64,615.93l4.1,-6.6h-8.2zM237.65,614.42l4.1,-6.6h-8.2zM246.66,615.35l4.1,-6.6h-8.2zM255.67,614.55l4.1,-6.6h-8.2zM264.67,617.05l4.1,-6.6h-8.2zM273.68,615.92l4.1,-6.6h-8.2zM282.69,616.63l4.1,-6.6h-8.2zM291.7,609.49l4.1,-6.6h-8.2zM300.7,578.34l4.1,-6.6h-8.2zM309.71,548.24l4.1,-6.6h-8.2zM318.72,520.26l4.1,-6.6h-8.2zM327.72,492.8l4.1,-6.6h-8.2zM336.73,464.82l4.1,-6.6h-8.2zM345.74,451.09l4.1,-6.6h-8.2zM354.75,471.15l4.1,-6.6h-8.2zM363.75,489.63l4.1,-6.6h-8.2zM372.76,526.59l4.1,-6.6h-8.2zM381.77,556.16l4.1,-6.6h-8.2zM390.78,586.26l4.1,-6.6h-8.2zM399.78,614.24l4.1,-6.6h-8.2zM408.79,615.69l4.1,-6.6h-8.2zM417.8,615.59l4.1,-6.6h-8.2zM426.8,617.37l4.1,-6.6h-8.2zM435.81,616.72l4.1,-6.6h-8.2zM444.82,616.52l4.1,-6.6h-8.2zM453.83,614.51l4.1,-6.6h-8.2zM462.83,614.98l4.1,-6.6h-8.2zM471.84,616.9l4.1,-6.6h-8.2zM480.85,614.88l4.1,-6.6h-8.2zM489.86,616.97l4.1,-6.6h-8.2zM498.86,615.45l4.1,-6.6h-8.2zM507.87,614.77l4.1,-6.6h-8.2zM516.88,575.17l4.1,-6.6h-8.2zM525.88,546.66l4.1,-6.6h-8.2zM534.89,519.2l4.1,-6.6h-8.2zM543.9,489.63l4.1,-6.6h-8.2zM552.91,464.82l4.1,-6.6h-8.2zM561.91,450.03l4.1,-6.6h-8.2zM570.92,471.15l4.1,-6.6h-8.2zM579.93,496.5l4.1,-6.6h-8.2zM588.93,525.01l4.1,-6.6h-8.2zM597.94,555.1l4.1,-6.6h-8.2zM606.95,583.62l4.1,-6.6h-8.2zM615.96,614.24l4.1,-6.6h-8.2zM624.96,617.01l4.1,-6.6h-8.2zM633.97,617.4l4.1,-6.6h-8.2zM642.98,614.65l4.1,-6.6h-8.2zM651.99,616.74l4.1,-6.6h-8.2zM660.99,616.73l4.1,-6.6h-8.2zM670,614.3l4.1,-6.6h-8.2z" fill="none" stroke="#9e7a2e" stroke-width="0.95"/>
<path d="M48.5,619.39 L57.51,619.39 L66.51,619.39 L75.52,609.89 L84.53,566.79 L93.54,528.1 L102.54,500.85 L111.55,485.03 L120.56,481.66 L129.57,481.15 L138.57,485.39 L147.58,492.14 L156.59,506.08 L165.59,532.28 L174.6,566.25 L183.61,613.32 L192.62,621.5 L201.62,621.5 L210.63,621.5 L219.64,621.5 L228.64,617.28 L237.65,617.28 L246.66,617.28 L255.67,617.28 L264.67,617.28 L273.68,617.28 L282.69,621.5 L291.7,609.57 L300.7,564.35 L309.71,525.34 L318.72,503.68 L327.72,484.29 L336.73,479.39 L345.74,477.93 L354.75,484.34 L363.75,489.05 L372.76,504.44 L381.77,530.47 L390.78,565.83 L399.78,616.65 L408.79,621.5 L417.8,621.5 L426.8,621.5 L435.81,621.5 L444.82,617.28 L453.83,617.28 L462.83,617.28 L471.84,617.28 L480.85,617.28 L489.86,617.28 L498.86,621.5 L507.87,611.1 L516.88,567.26 L525.88,527.26 L534.89,502.64 L543.9,489.11 L552.91,483.78 L561.91,482.27 L570.92,482.21 L579.93,492.08 L588.93,505.57 L597.94,533.28 L606.95,567.21 L615.96,613.16 L624.96,621.5 L633.97,621.5 L642.98,621.5 L651.99,621.5 L660.99,621.5 L670,621.5" fill="none" stroke="#1a7faf" stroke-width="0.85" stroke-linejoin="round"/>
<path d="M51.8,619.39l-6.6,4.1v-8.2zM60.81,619.39l-6.6,4.1v-8.2zM69.81,619.39l-6.6,4.1v-8.2zM78.82,609.89l-6.6,4.1v-8.2zM87.83,566.79l-6.6,4.1v-8.2zM96.84,528.1l-6.6,4.1v-8.2zM105.84,500.85l-6.6,4.1v-8.2zM114.85,485.03l-6.6,4.1v-8.2zM123.86,481.66l-6.6,4.1v-8.2zM132.87,481.15l-6.6,4.1v-8.2zM141.87,485.39l-6.6,4.1v-8.2zM150.88,492.14l-6.6,4.1v-8.2zM159.89,506.08l-6.6,4.1v-8.2zM168.89,532.28l-6.6,4.1v-8.2zM177.9,566.25l-6.6,4.1v-8.2zM186.91,613.32l-6.6,4.1v-8.2zM195.92,621.5l-6.6,4.1v-8.2zM204.92,621.5l-6.6,4.1v-8.2zM213.93,621.5l-6.6,4.1v-8.2zM222.94,621.5l-6.6,4.1v-8.2zM231.94,617.28l-6.6,4.1v-8.2zM240.95,617.28l-6.6,4.1v-8.2zM249.96,617.28l-6.6,4.1v-8.2zM258.97,617.28l-6.6,4.1v-8.2zM267.97,617.28l-6.6,4.1v-8.2zM276.98,617.28l-6.6,4.1v-8.2zM285.99,621.5l-6.6,4.1v-8.2zM295,609.57l-6.6,4.1v-8.2zM304,564.35l-6.6,4.1v-8.2zM313.01,525.34l-6.6,4.1v-8.2zM322.02,503.68l-6.6,4.1v-8.2zM331.02,484.29l-6.6,4.1v-8.2zM340.03,479.39l-6.6,4.1v-8.2zM349.04,477.93l-6.6,4.1v-8.2zM358.05,484.34l-6.6,4.1v-8.2zM367.05,489.05l-6.6,4.1v-8.2zM376.06,504.44l-6.6,4.1v-8.2zM385.07,530.47l-6.6,4.1v-8.2zM394.08,565.83l-6.6,4.1v-8.2zM403.08,616.65l-6.6,4.1v-8.2zM412.09,621.5l-6.6,4.1v-8.2zM421.1,621.5l-6.6,4.1v-8.2zM430.1,621.5l-6.6,4.1v-8.2zM439.11,621.5l-6.6,4.1v-8.2zM448.12,617.28l-6.6,4.1v-8.2zM457.13,617.28l-6.6,4.1v-8.2zM466.13,617.28l-6.6,4.1v-8.2zM475.14,617.28l-6.6,4.1v-8.2zM484.15,617.28l-6.6,4.1v-8.2zM493.16,617.28l-6.6,4.1v-8.2zM502.16,621.5l-6.6,4.1v-8.2zM511.17,611.1l-6.6,4.1v-8.2zM520.18,567.26l-6.6,4.1v-8.2zM529.18,527.26l-6.6,4.1v-8.2zM538.19,502.64l-6.6,4.1v-8.2zM547.2,489.11l-6.6,4.1v-8.2zM556.21,483.78l-6.6,4.1v-8.2zM565.21,482.27l-6.6,4.1v-8.2zM574.22,482.21l-6.6,4.1v-8.2zM583.23,492.08l-6.6,4.1v-8.2zM592.23,505.57l-6.6,4.1v-8.2zM601.24,533.28l-6.6,4.1v-8.2zM610.25,567.21l-6.6,4.1v-8.2zM619.26,613.16l-6.6,4.1v-8.2zM628.26,621.5l-6.6,4.1v-8.2zM637.27,621.5l-6.6,4.1v-8.2zM646.28,621.5l-6.6,4.1v-8.2zM655.29,621.5l-6.6,4.1v-8.2zM664.29,621.5l-6.6,4.1v-8.2zM673.3,621.5l-6.6,4.1v-8.2z" fill="none" stroke="#1a7faf" stroke-width="0.95"/>
<path d="M48.5,621.5 L57.51,621.5 L66.51,621.5 L75.52,612.92 L84.53,565.96 L93.54,527.52 L102.54,500.06 L111.55,485.28 L120.56,483.16 L129.57,489.5 L138.57,496.36 L147.58,473.66 L156.59,510.62 L165.59,534.49 L174.6,565.47 L183.61,616.53 L192.62,621.5 L201.62,621.5 L210.63,621.5 L219.64,621.5 L228.64,621.5 L237.65,621.5 L246.66,621.5 L255.67,621.5 L264.67,621.5 L273.68,621.5 L282.69,621.5 L291.7,610.07 L300.7,568.27 L309.71,525.58 L318.72,502.64 L327.72,489.09 L336.73,481.61 L345.74,477.89 L354.75,487.39 L363.75,492.72 L372.76,507.66 L381.77,531.26 L390.78,566.3 L399.78,615.9 L408.79,621.5 L417.8,621.5 L426.8,621.5 L435.81,621.5 L444.82,621.5 L453.83,621.5 L462.83,621.5 L471.84,621.5 L480.85,621.5 L489.86,621.5 L498.86,621.5 L507.87,611.04 L516.88,567.55 L525.88,521.18 L534.89,497.42 L543.9,483.16 L552.91,487.39 L561.91,487.39 L570.92,483.16 L579.93,494.78 L588.93,474.19 L597.94,521.18 L606.95,568.97 L615.96,614.94 L624.96,621.5 L633.97,621.5 L642.98,621.5 L651.99,621.5 L660.99,621.5 L670,621.5" fill="none" stroke="#ffcc00" stroke-width="0.85" stroke-linejoin="round"/>
<path d="M45.2,621.5l6.6,4.1v-8.2zM54.21,621.5l6.6,4.1v-8.2zM63.21,621.5l6.6,4.1v-8.2zM72.22,612.92l6.6,4.1v-8.2zM81.23,565.96l6.6,4.1v-8.2zM90.24,527.52l6.6,4.1v-8.2zM99.24,500.06l6.6,4.1v-8.2zM108.25,485.28l6.6,4.1v-8.2zM117.26,483.16l6.6,4.1v-8.2zM126.27,489.5l6.6,4.1v-8.2zM135.27,496.36l6.6,4.1v-8.2zM144.28,473.66l6.6,4.1v-8.2zM153.29,510.62l6.6,4.1v-8.2zM162.29,534.49l6.6,4.1v-8.2zM171.3,565.47l6.6,4.1v-8.2zM180.31,616.53l6.6,4.1v-8.2zM189.32,621.5l6.6,4.1v-8.2zM198.32,621.5l6.6,4.1v-8.2zM207.33,621.5l6.6,4.1v-8.2zM216.34,621.5l6.6,4.1v-8.2zM225.34,621.5l6.6,4.1v-8.2zM234.35,621.5l6.6,4.1v-8.2zM243.36,621.5l6.6,4.1v-8.2zM252.37,621.5l6.6,4.1v-8.2zM261.37,621.5l6.6,4.1v-8.2zM270.38,621.5l6.6,4.1v-8.2zM279.39,621.5l6.6,4.1v-8.2zM288.4,610.07l6.6,4.1v-8.2zM297.4,568.27l6.6,4.1v-8.2zM306.41,525.58l6.6,4.1v-8.2zM315.42,502.64l6.6,4.1v-8.2zM324.42,489.09l6.6,4.1v-8.2zM333.43,481.61l6.6,4.1v-8.2zM342.44,477.89l6.6,4.1v-8.2zM351.45,487.39l6.6,4.1v-8.2zM360.45,492.72l6.6,4.1v-8.2zM369.46,507.66l6.6,4.1v-8.2zM378.47,531.26l6.6,4.1v-8.2zM387.48,566.3l6.6,4.1v-8.2zM396.48,615.9l6.6,4.1v-8.2zM405.49,621.5l6.6,4.1v-8.2zM414.5,621.5l6.6,4.1v-8.2zM423.5,621.5l6.6,4.1v-8.2zM432.51,621.5l6.6,4.1v-8.2zM441.52,621.5l6.6,4.1v-8.2zM450.53,621.5l6.6,4.1v-8.2zM459.53,621.5l6.6,4.1v-8.2zM468.54,621.5l6.6,4.1v-8.2zM477.55,621.5l6.6,4.1v-8.2zM486.56,621.5l6.6,4.1v-8.2zM495.56,621.5l6.6,4.1v-8.2zM504.57,611.04l6.6,4.1v-8.2zM513.58,567.55l6.6,4.1v-8.2zM522.58,521.18l6.6,4.1v-8.2zM531.59,497.42l6.6,4.1v-8.2zM540.6,483.16l6.6,4.1v-8.2zM549.61,487.39l6.6,4.1v-8.2zM558.61,487.39l6.6,4.1v-8.2zM567.62,483.16l6.6,4.1v-8.2zM576.63,494.78l6.6,4.1v-8.2zM585.63,474.19l6.6,4.1v-8.2zM594.64,521.18l6.6,4.1v-8.2zM603.65,568.97l6.6,4.1v-8.2zM612.66,614.94l6.6,4.1v-8.2zM621.66,621.5l6.6,4.1v-8.2zM630.67,621.5l6.6,4.1v-8.2zM639.68,621.5l6.6,4.1v-8.2zM648.69,621.5l6.6,4.1v-8.2zM657.69,621.5l6.6,4.1v-8.2zM666.7,621.5l6.6,4.1v-8.2z" fill="none" stroke="#ffcc00" stroke-width="0.95"/>
<path d="M48.5,621.5 L57.51,621.5 L66.51,621.5 L75.52,610.25 L84.53,566.24 L93.54,530.9 L102.54,505.62 L111.55,491.18 L120.56,480.77 L129.57,485.49 L138.57,488.67 L147.58,492.74 L156.59,502.13 L165.59,530.99 L174.6,565.96 L183.61,615.36 L192.62,621.5 L201.62,621.5 L210.63,621.5 L219.64,621.5 L228.64,621.5 L237.65,621.5 L246.66,621.5 L255.67,621.5 L264.67,621.5 L273.68,621.5 L282.69,621.5 L291.7,613.14 L300.7,566.09 L309.71,528.25 L318.72,504.6 L327.72,488.11 L336.73,482.03 L345.74,476.83 L354.75,482.98 L363.75,486.75 L372.76,501.65 L381.77,532.09 L390.78,566.93 L399.78,613.83 L408.79,621.5 L417.8,621.5 L426.8,621.5 L435.81,621.5 L444.82,621.5 L453.83,621.5 L462.83,621.5 L471.84,621.5 L480.85,621.5 L489.86,621.5 L498.86,621.5 L507.87,612.22 L516.88,567.5 L525.88,528.21 L534.89,501.48 L543.9,483.64 L552.91,477.5 L561.91,479.58 L570.92,480.74 L579.93,495.15 L588.93,502.26 L597.94,532.43 L606.95,567.19 L615.96,613.45 L624.96,621.5 L633.97,621.5 L642.98,621.5 L651.99,621.5 L660.99,621.5 L670,621.5" fill="none" stroke="#9933dd" stroke-width="0.85" stroke-linejoin="round"/>
<path d="M48.5,617.5L49.53,620.08L52.3,620.26L50.16,622.04L50.85,624.74L48.5,623.25L46.15,624.74L46.84,622.04L44.7,620.26L47.47,620.08zM57.51,617.5L58.54,620.08L61.31,620.26L59.17,622.04L59.86,624.74L57.51,623.25L55.16,624.74L55.84,622.04L53.7,620.26L56.48,620.08zM66.51,617.5L67.54,620.08L70.32,620.26L68.18,622.04L68.87,624.74L66.51,623.25L64.16,624.74L64.85,622.04L62.71,620.26L65.49,620.08zM75.52,606.25L76.55,608.83L79.33,609.01L77.19,610.79L77.87,613.49L75.52,612L73.17,613.49L73.86,610.79L71.72,609.01L74.49,608.83zM84.53,562.24L85.56,564.82L88.33,565L86.19,566.78L86.88,569.48L84.53,567.99L82.18,569.48L82.86,566.78L80.72,565L83.5,564.82zM93.54,526.9L94.56,529.48L97.34,529.66L95.2,531.44L95.89,534.13L93.54,532.65L91.19,534.13L91.87,531.44L89.73,529.66L92.51,529.48zM102.54,501.62L103.57,504.2L106.35,504.38L104.21,506.16L104.89,508.85L102.54,507.37L100.19,508.85L100.88,506.16L98.74,504.38L101.51,504.2zM111.55,487.18L112.58,489.77L115.35,489.95L113.22,491.72L113.9,494.42L111.55,492.93L109.2,494.42L109.89,491.72L107.75,489.95L110.52,489.77zM120.56,476.77L121.59,479.35L124.36,479.53L122.22,481.31L122.91,484L120.56,482.52L118.21,484L118.89,481.31L116.75,479.53L119.53,479.35zM129.57,481.49L130.59,484.08L133.37,484.26L131.23,486.03L131.92,488.73L129.57,487.24L127.21,488.73L127.9,486.03L125.76,484.26L128.54,484.08zM138.57,484.67L139.6,487.25L142.38,487.43L140.24,489.21L140.92,491.9L138.57,490.42L136.22,491.9L136.91,489.21L134.77,487.43L137.54,487.25zM147.58,488.74L148.61,491.33L151.38,491.51L149.24,493.28L149.93,495.98L147.58,494.49L145.23,495.98L145.92,493.28L143.78,491.51L146.55,491.33zM156.59,498.13L157.62,500.71L160.39,500.89L158.25,502.67L158.94,505.36L156.59,503.88L154.24,505.36L154.92,502.67L152.78,500.89L155.56,500.71zM165.59,526.99L166.62,529.57L169.4,529.75L167.26,531.53L167.95,534.22L165.59,532.74L163.24,534.22L163.93,531.53L161.79,529.75L164.57,529.57zM174.6,561.96L175.63,564.54L178.41,564.72L176.27,566.5L176.95,569.2L174.6,567.71L172.25,569.2L172.94,566.5L170.8,564.72L173.57,564.54zM183.61,611.36L184.64,613.95L187.41,614.13L185.27,615.9L185.96,618.6L183.61,617.11L181.26,618.6L181.94,615.9L179.8,614.13L182.58,613.95zM192.62,617.5L193.64,620.08L196.42,620.26L194.28,622.04L194.97,624.74L192.62,623.25L190.26,624.74L190.95,622.04L188.81,620.26L191.59,620.08zM201.62,617.5L202.65,620.08L205.43,620.26L203.29,622.04L203.97,624.74L201.62,623.25L199.27,624.74L199.96,622.04L197.82,620.26L200.59,620.08zM210.63,617.5L211.66,620.08L214.43,620.26L212.29,622.04L212.98,624.74L210.63,623.25L208.28,624.74L208.97,622.04L206.83,620.26L209.6,620.08zM219.64,617.5L220.67,620.08L223.44,620.26L221.3,622.04L221.99,624.74L219.64,623.25L217.29,624.74L217.97,622.04L215.83,620.26L218.61,620.08zM228.64,617.5L229.67,620.08L232.45,620.26L230.31,622.04L231,624.74L228.64,623.25L226.29,624.74L226.98,622.04L224.84,620.26L227.62,620.08zM237.65,617.5L238.68,620.08L241.46,620.26L239.32,622.04L240,624.74L237.65,623.25L235.3,624.74L235.99,622.04L233.85,620.26L236.62,620.08zM246.66,617.5L247.69,620.08L250.46,620.26L248.32,622.04L249.01,624.74L246.66,623.25L244.31,624.74L245,622.04L242.86,620.26L245.63,620.08zM255.67,617.5L256.7,620.08L259.47,620.26L257.33,622.04L258.02,624.74L255.67,623.25L253.32,624.74L254,622.04L251.86,620.26L254.64,620.08zM264.67,617.5L265.7,620.08L268.48,620.26L266.34,622.04L267.03,624.74L264.67,623.25L262.32,624.74L263.01,622.04L260.87,620.26L263.65,620.08zM273.68,617.5L274.71,620.08L277.49,620.26L275.35,622.04L276.03,624.74L273.68,623.25L271.33,624.74L272.02,622.04L269.88,620.26L272.65,620.08zM282.69,617.5L283.72,620.08L286.49,620.26L284.35,622.04L285.04,624.74L282.69,623.25L280.34,624.74L281.02,622.04L278.88,620.26L281.66,620.08zM291.7,609.14L292.72,611.73L295.5,611.91L293.36,613.68L294.05,616.38L291.7,614.89L289.34,616.38L290.03,613.68L287.89,611.91L290.67,611.73zM300.7,562.09L301.73,564.67L304.51,564.85L302.37,566.63L303.05,569.33L300.7,567.84L298.35,569.33L299.04,566.63L296.9,564.85L299.67,564.67zM309.71,524.25L310.74,526.83L313.51,527.01L311.37,528.79L312.06,531.48L309.71,530L307.36,531.48L308.05,528.79L305.91,527.01L308.68,526.83zM318.72,500.6L319.75,503.19L322.52,503.37L320.38,505.15L321.07,507.84L318.72,506.35L316.37,507.84L317.05,505.15L314.91,503.37L317.69,503.19zM327.72,484.11L328.75,486.69L331.53,486.87L329.39,488.65L330.08,491.34L327.72,489.86L325.37,491.34L326.06,488.65L323.92,486.87L326.7,486.69zM336.73,478.03L337.76,480.61L340.54,480.79L338.4,482.57L339.08,485.26L336.73,483.78L334.38,485.26L335.07,482.57L332.93,480.79L335.7,480.61zM345.74,472.83L346.77,475.42L349.54,475.6L347.4,477.37L348.09,480.07L345.74,478.58L343.39,480.07L344.07,477.37L341.93,475.6L344.71,475.42zM354.75,478.98L355.78,481.57L358.55,481.75L356.41,483.52L357.1,486.22L354.75,484.73L352.4,486.22L353.08,483.52L350.94,481.75L353.72,481.57zM363.75,482.75L364.78,485.33L367.56,485.51L365.42,487.29L366.1,489.98L363.75,488.5L361.4,489.98L362.09,487.29L359.95,485.51L362.72,485.33zM372.76,497.65L373.79,500.24L376.57,500.42L374.43,502.19L375.11,504.89L372.76,503.4L370.41,504.89L371.1,502.19L368.96,500.42L371.73,500.24zM381.77,528.09L382.8,530.68L385.57,530.86L383.43,532.63L384.12,535.33L381.77,533.84L379.42,535.33L380.1,532.63L377.96,530.86L380.74,530.68zM390.78,562.93L391.8,565.52L394.58,565.7L392.44,567.47L393.13,570.17L390.78,568.68L388.42,570.17L389.11,567.47L386.97,565.7L389.75,565.52zM399.78,609.83L400.81,612.42L403.59,612.6L401.45,614.37L402.13,617.07L399.78,615.58L397.43,617.07L398.12,614.37L395.98,612.6L398.75,612.42zM408.79,617.5L409.82,620.08L412.59,620.26L410.45,622.04L411.14,624.74L408.79,623.25L406.44,624.74L407.13,622.04L404.99,620.26L407.76,620.08zM417.8,617.5L418.83,620.08L421.6,620.26L419.46,622.04L420.15,624.74L417.8,623.25L415.45,624.74L416.13,622.04L413.99,620.26L416.77,620.08zM426.8,617.5L427.83,620.08L430.61,620.26L428.47,622.04L429.16,624.74L426.8,623.25L424.45,624.74L425.14,622.04L423,620.26L425.78,620.08zM435.81,617.5L436.84,620.08L439.62,620.26L437.48,622.04L438.16,624.74L435.81,623.25L433.46,624.74L434.15,622.04L432.01,620.26L434.78,620.08zM444.82,617.5L445.85,620.08L448.62,620.26L446.48,622.04L447.17,624.74L444.82,623.25L442.47,624.74L443.15,622.04L441.01,620.26L443.79,620.08zM453.83,617.5L454.85,620.08L457.63,620.26L455.49,622.04L456.18,624.74L453.83,623.25L451.47,624.74L452.16,622.04L450.02,620.26L452.8,620.08zM462.83,617.5L463.86,620.08L466.64,620.26L464.5,622.04L465.18,624.74L462.83,623.25L460.48,624.74L461.17,622.04L459.03,620.26L461.8,620.08zM471.84,617.5L472.87,620.08L475.64,620.26L473.5,622.04L474.19,624.74L471.84,623.25L469.49,624.74L470.18,622.04L468.04,620.26L470.81,620.08zM480.85,617.5L481.88,620.08L484.65,620.26L482.51,622.04L483.2,624.74L480.85,623.25L478.5,624.74L479.18,622.04L477.04,620.26L479.82,620.08zM489.86,617.5L490.88,620.08L493.66,620.26L491.52,622.04L492.21,624.74L489.86,623.25L487.5,624.74L488.19,622.04L486.05,620.26L488.83,620.08zM498.86,617.5L499.89,620.08L502.67,620.26L500.53,622.04L501.21,624.74L498.86,623.25L496.51,624.74L497.2,622.04L495.06,620.26L497.83,620.08zM507.87,608.22L508.9,610.81L511.67,610.99L509.53,612.77L510.22,615.46L507.87,613.97L505.52,615.46L506.21,612.77L504.07,610.99L506.84,610.81zM516.88,563.5L517.91,566.09L520.68,566.27L518.54,568.04L519.23,570.74L516.88,569.25L514.53,570.74L515.21,568.04L513.07,566.27L515.85,566.09zM525.88,524.21L526.91,526.79L529.69,526.97L527.55,528.75L528.24,531.44L525.88,529.96L523.53,531.44L524.22,528.75L522.08,526.97L524.86,526.79zM534.89,497.48L535.92,500.06L538.7,500.24L536.56,502.02L537.24,504.72L534.89,503.23L532.54,504.72L533.23,502.02L531.09,500.24L533.86,500.06zM543.9,479.64L544.93,482.23L547.7,482.41L545.56,484.18L546.25,486.88L543.9,485.39L541.55,486.88L542.23,484.18L540.09,482.41L542.87,482.23zM552.91,473.5L553.93,476.08L556.71,476.26L554.57,478.04L555.26,480.74L552.91,479.25L550.55,480.74L551.24,478.04L549.1,476.26L551.88,476.08zM561.91,475.58L562.94,478.16L565.72,478.34L563.58,480.12L564.26,482.81L561.91,481.33L559.56,482.81L560.25,480.12L558.11,478.34L560.88,478.16zM570.92,476.74L571.95,479.32L574.72,479.5L572.58,481.28L573.27,483.97L570.92,482.49L568.57,483.97L569.26,481.28L567.12,479.5L569.89,479.32zM579.93,491.15L580.96,493.73L583.73,493.91L581.59,495.69L582.28,498.38L579.93,496.9L577.58,498.38L578.26,495.69L576.12,493.91L578.9,493.73zM588.93,498.26L589.96,500.84L592.74,501.02L590.6,502.8L591.29,505.49L588.93,504.01L586.58,505.49L587.27,502.8L585.13,501.02L587.91,500.84zM597.94,528.43L598.97,531.01L601.75,531.19L599.61,532.97L600.29,535.67L597.94,534.18L595.59,535.67L596.28,532.97L594.14,531.19L596.91,531.01zM606.95,563.19L607.98,565.78L610.75,565.96L608.61,567.73L609.3,570.43L606.95,568.94L604.6,570.43L605.28,567.73L603.15,565.96L605.92,565.78zM615.96,609.45L616.99,612.04L619.76,612.22L617.62,613.99L618.31,616.69L615.96,615.2L613.61,616.69L614.29,613.99L612.15,612.22L614.93,612.04zM624.96,617.5L625.99,620.08L628.77,620.26L626.63,622.04L627.31,624.74L624.96,623.25L622.61,624.74L623.3,622.04L621.16,620.26L623.94,620.08zM633.97,617.5L635,620.08L637.78,620.26L635.64,622.04L636.32,624.74L633.97,623.25L631.62,624.74L632.31,622.04L630.17,620.26L632.94,620.08zM642.98,617.5L644.01,620.08L646.78,620.26L644.64,622.04L645.33,624.74L642.98,623.25L640.63,624.74L641.31,622.04L639.17,620.26L641.95,620.08zM651.99,617.5L653.01,620.08L655.79,620.26L653.65,622.04L654.34,624.74L651.99,623.25L649.63,624.74L650.32,622.04L648.18,620.26L650.96,620.08zM660.99,617.5L662.02,620.08L664.8,620.26L662.66,622.04L663.34,624.74L660.99,623.25L658.64,624.74L659.33,622.04L657.19,620.26L659.96,620.08zM670,617.5L671.03,620.08L673.8,620.26L671.66,622.04L672.35,624.74L670,623.25L667.65,624.74L668.34,622.04L666.2,620.26L668.97,620.08z" fill="#9933dd" fill-opacity="0.35" stroke="#9933dd" stroke-width="1.0" stroke-linejoin="round"/>
</g>
<g fill="#111"><text x="129.57" y="636.5" font-size="10.3" text-anchor="middle" textLength="25.2" lengthAdjust="spacingAndGlyphs">5010</text><text x="219.64" y="636.5" font-size="10.3" text-anchor="middle" textLength="25.2" lengthAdjust="spacingAndGlyphs">5020</text><text x="309.71" y="636.5" font-size="10.3" text-anchor="middle" textLength="25.2" lengthAdjust="spacingAndGlyphs">5030</text><text x="399.78" y="636.5" font-size="10.3" text-anchor="middle" textLength="25.2" lengthAdjust="spacingAndGlyphs">5040</text><text x="489.86" y="636.5" font-size="10.3" text-anchor="middle" textLength="25.2" lengthAdjust="spacingAndGlyphs">5050</text><text x="579.93" y="636.5" font-size="10.3" text-anchor="middle" textLength="25.2" lengthAdjust="spacingAndGlyphs">5060</text><text x="670" y="636.5" font-size="10.3" text-anchor="middle" textLength="25.2" lengthAdjust="spacingAndGlyphs">5070</text><text x="43.3" y="625.9" font-size="10.3" text-anchor="end" textLength="6.3" lengthAdjust="spacingAndGlyphs">0</text><text x="43.3" y="599.5" font-size="10.3" text-anchor="end" textLength="12.6" lengthAdjust="spacingAndGlyphs">50</text><text x="43.3" y="573.1" font-size="10.3" text-anchor="end" textLength="18.9" lengthAdjust="spacingAndGlyphs">100</text><text x="43.3" y="546.7" font-size="10.3" text-anchor="end" textLength="18.9" lengthAdjust="spacingAndGlyphs">150</text><text x="43.3" y="520.3" font-size="10.3" text-anchor="end" textLength="18.9" lengthAdjust="spacingAndGlyphs">200</text><text x="43.3" y="493.9" font-size="10.3" text-anchor="end" textLength="18.9" lengthAdjust="spacingAndGlyphs">250</text><text x="43.3" y="467.5" font-size="10.3" text-anchor="end" textLength="18.9" lengthAdjust="spacingAndGlyphs">300</text><text x="43.3" y="441.1" font-size="10.3" text-anchor="end" textLength="18.9" lengthAdjust="spacingAndGlyphs">350</text><text x="43.3" y="414.7" font-size="10.3" text-anchor="end" textLength="18.9" lengthAdjust="spacingAndGlyphs">400</text><text x="43.3" y="388.3" font-size="10.3" text-anchor="end" textLength="18.9" lengthAdjust="spacingAndGlyphs">450</text><text x="43.3" y="361.9" font-size="10.3" text-anchor="end" textLength="18.9" lengthAdjust="spacingAndGlyphs">500</text></g>
<g fill="#111"><text x="359" y="650.8" font-size="10.6" text-anchor="middle" textLength="68.4" lengthAdjust="spacingAndGlyphs">Time [Hours]</text></g>
<text transform="translate(17.6,489.6) rotate(-90)" text-anchor="middle" font-size="11.38" fill="#111">Diffused Solar Radiation [W/m<tspan font-size="9.56" dy="-5.92" dx="0.3">2</tspan><tspan dy="5.92" dx="0.3">]</tspan></text>
<rect x="165.5" y="365.9" width="495.1" height="27.6" fill="#fff" stroke="#666" stroke-width="1"/>
<path d="M169.2,373.8h32.8" stroke="#000000" stroke-width="0.6" stroke-opacity="0.75"/>
<path d="M182.3,373.8a3.3,3.3 0 1,0 6.6,0a3.3,3.3 0 1,0 -6.6,0" fill="none" stroke="#000000" stroke-width="0.95"/>
<text x="205.3" y="377.36" font-size="9.9" fill="#000">Real Data</text>
<path d="M256.8,373.8h32.8" stroke="#0000ff" stroke-width="0.6" stroke-opacity="0.75"/>
<path d="M269.6,373.8h7.2M273.2,370.2v7.2M270.6,371.2l5.2,5.2M270.6,376.4l5.2,-5.2" fill="none" stroke="#0000ff" stroke-width="0.95"/>
<text x="292.9" y="377.36" font-size="9.9" fill="#000">CNN</text>
<path d="M346.9,373.8h32.8" stroke="#f0883c" stroke-width="0.6" stroke-opacity="0.75"/>
<path d="M360.4,370.9h5.8v5.8h-5.8z" fill="none" stroke="#f0883c" stroke-width="0.95"/>
<text x="382.4" y="377.36" font-size="9.9" fill="#000">CNN-LSTM-ANN</text>
<path d="M466,373.8h32.8" stroke="#ffff00" stroke-width="0.6" stroke-opacity="0.75"/>
<path d="M482.4,370.5l4.1,6.6h-8.2z" fill="none" stroke="#ffff00" stroke-width="0.95"/>
<text x="502.1" y="377.36" font-size="9.9" fill="#000">LSTM</text>
<path d="M536,373.8h32.8" stroke="#1a7faf" stroke-width="0.6" stroke-opacity="0.75"/>
<path d="M555.7,373.8l-6.6,4.1v-8.2z" fill="none" stroke="#1a7faf" stroke-width="0.95"/>
<text x="572.7" y="377.36" font-size="9.9" fill="#000">PLR</text>
<path d="M600,373.8h32.8" stroke="#9933dd" stroke-width="0.6" stroke-opacity="0.75"/>
<path d="M616.4,369.8L617.43,372.38L620.2,372.56L618.06,374.34L618.75,377.04L616.4,375.55L614.05,377.04L614.74,374.34L612.6,372.56L615.37,372.38z" fill="#9933dd" fill-opacity="0.35" stroke="#9933dd" stroke-width="1.0" stroke-linejoin="round"/>
<text x="635.5" y="377.36" font-size="9.9" fill="#000">XGB</text>
<path d="M169.2,386.3h32.8" stroke="#ff0000" stroke-width="0.6" stroke-opacity="0.75"/>
<path d="M182,386.3h7.2M185.6,382.7v7.2" fill="none" stroke="#ff0000" stroke-width="0.95"/>
<text x="205.3" y="389.86" font-size="9.9" fill="#000">ANN</text>
<path d="M256.8,386.3h32.8" stroke="#00e000" stroke-width="0.6" stroke-opacity="0.75"/>
<circle cx="273.2" cy="386.3" r="1.1" fill="#00e000"/>
<text x="292.9" y="389.86" font-size="9.9" fill="#000">CNN-ANN</text>
<path d="M346.9,386.3h32.8" stroke="#77ac30" stroke-width="0.6" stroke-opacity="0.75"/>
<path d="M363.3,382.3l3.5,4l-3.5,4l-3.5,-4z" fill="none" stroke="#77ac30" stroke-width="0.95"/>
<text x="382.4" y="389.86" font-size="9.9" fill="#000">DTR</text>
<path d="M466,386.3h32.8" stroke="#9e7a2e" stroke-width="0.6" stroke-opacity="0.75"/>
<path d="M482.4,389.6l4.1,-6.6h-8.2z" fill="none" stroke="#9e7a2e" stroke-width="0.95"/>
<text x="502.1" y="389.86" font-size="9.9" fill="#000">MLR</text>
<path d="M536,386.3h32.8" stroke="#ffcc00" stroke-width="0.6" stroke-opacity="0.75"/>
<path d="M549.1,386.3l6.6,4.1v-8.2z" fill="none" stroke="#ffcc00" stroke-width="0.95"/>
<text x="572.7" y="389.86" font-size="9.9" fill="#000">RFR</text>
<path d="M53.5,701.5H669.5V959.5H53.5Z" fill="none" stroke="#666666" stroke-width="1"/>
<path d="M133.85,959.5v-6M133.85,701.5v6M223.12,959.5v-6M223.12,701.5v6M312.4,959.5v-6M312.4,701.5v6M401.67,959.5v-6M401.67,701.5v6M490.95,959.5v-6M490.95,701.5v6M580.22,959.5v-6M580.22,701.5v6M669.5,959.5v-6M669.5,701.5v6M53.5,959.5h6M669.5,959.5h-6M53.5,919.81h6M669.5,919.81h-6M53.5,880.12h6M669.5,880.12h-6M53.5,840.42h6M669.5,840.42h-6M53.5,800.73h6M669.5,800.73h-6M53.5,761.04h6M669.5,761.04h-6M53.5,721.35h6M669.5,721.35h-6" fill="none" stroke="#3a3a3a" stroke-width="0.9"/>
<g>
<path d="M53.5,959.5 L62.43,959.5 L71.36,959.5 L80.28,948.78 L89.21,930.52 L98.14,919.61 L107.07,900.36 L115.99,868.8 L124.92,791.01 L133.85,815.81 L142.78,834.27 L151.7,821.97 L160.63,885.28 L169.56,917.62 L178.49,948.78 L187.41,959.5 L196.34,959.5 L205.27,959.5 L214.2,959.5 L223.12,959.5 L232.05,959.5 L240.98,959.5 L249.91,959.5 L258.83,959.5 L267.76,959.5 L276.69,959.5 L285.62,959.5 L294.54,939.65 L303.47,916.43 L312.4,857.49 L321.33,830.5 L330.25,793.19 L339.18,779.3 L348.11,780.88 L357.04,794.18 L365.96,823.16 L374.89,861.66 L383.82,905.32 L392.75,943.62 L401.67,959.5 L410.6,959.5 L419.53,959.5 L428.46,959.5 L437.38,959.5 L446.31,959.5 L455.24,959.5 L464.17,959.5 L473.09,959.5 L482.02,959.5 L490.95,959.5 L499.88,959.5 L508.8,939.65 L517.73,909.88 L526.66,856.5 L535.59,820.97 L544.51,793.19 L553.44,779.3 L562.37,779.69 L571.3,794.78 L580.22,820.58 L589.15,863.25 L598.08,903.93 L607.01,945.61 L615.93,959.5 L624.86,959.5 L633.79,959.5 L642.72,959.5 L651.64,959.5 L660.57,959.5 L669.5,959.5" fill="none" stroke="#000000" stroke-width="0.85" stroke-linejoin="round"/>
<path d="M50.2,959.5a3.3,3.3 0 1,0 6.6,0a3.3,3.3 0 1,0 -6.6,0M59.13,959.5a3.3,3.3 0 1,0 6.6,0a3.3,3.3 0 1,0 -6.6,0M68.06,959.5a3.3,3.3 0 1,0 6.6,0a3.3,3.3 0 1,0 -6.6,0M76.98,948.78a3.3,3.3 0 1,0 6.6,0a3.3,3.3 0 1,0 -6.6,0M85.91,930.52a3.3,3.3 0 1,0 6.6,0a3.3,3.3 0 1,0 -6.6,0M94.84,919.61a3.3,3.3 0 1,0 6.6,0a3.3,3.3 0 1,0 -6.6,0M103.77,900.36a3.3,3.3 0 1,0 6.6,0a3.3,3.3 0 1,0 -6.6,0M112.69,868.8a3.3,3.3 0 1,0 6.6,0a3.3,3.3 0 1,0 -6.6,0M121.62,791.01a3.3,3.3 0 1,0 6.6,0a3.3,3.3 0 1,0 -6.6,0M130.55,815.81a3.3,3.3 0 1,0 6.6,0a3.3,3.3 0 1,0 -6.6,0M139.48,834.27a3.3,3.3 0 1,0 6.6,0a3.3,3.3 0 1,0 -6.6,0M148.4,821.97a3.3,3.3 0 1,0 6.6,0a3.3,3.3 0 1,0 -6.6,0M157.33,885.28a3.3,3.3 0 1,0 6.6,0a3.3,3.3 0 1,0 -6.6,0M166.26,917.62a3.3,3.3 0 1,0 6.6,0a3.3,3.3 0 1,0 -6.6,0M175.19,948.78a3.3,3.3 0 1,0 6.6,0a3.3,3.3 0 1,0 -6.6,0M184.11,959.5a3.3,3.3 0 1,0 6.6,0a3.3,3.3 0 1,0 -6.6,0M193.04,959.5a3.3,3.3 0 1,0 6.6,0a3.3,3.3 0 1,0 -6.6,0M201.97,959.5a3.3,3.3 0 1,0 6.6,0a3.3,3.3 0 1,0 -6.6,0M210.9,959.5a3.3,3.3 0 1,0 6.6,0a3.3,3.3 0 1,0 -6.6,0M219.82,959.5a3.3,3.3 0 1,0 6.6,0a3.3,3.3 0 1,0 -6.6,0M228.75,959.5a3.3,3.3 0 1,0 6.6,0a3.3,3.3 0 1,0 -6.6,0M237.68,959.5a3.3,3.3 0 1,0 6.6,0a3.3,3.3 0 1,0 -6.6,0M246.61,959.5a3.3,3.3 0 1,0 6.6,0a3.3,3.3 0 1,0 -6.6,0M255.53,959.5a3.3,3.3 0 1,0 6.6,0a3.3,3.3 0 1,0 -6.6,0M264.46,959.5a3.3,3.3 0 1,0 6.6,0a3.3,3.3 0 1,0 -6.6,0M273.39,959.5a3.3,3.3 0 1,0 6.6,0a3.3,3.3 0 1,0 -6.6,0M282.32,959.5a3.3,3.3 0 1,0 6.6,0a3.3,3.3 0 1,0 -6.6,0M291.24,939.65a3.3,3.3 0 1,0 6.6,0a3.3,3.3 0 1,0 -6.6,0M300.17,916.43a3.3,3.3 0 1,0 6.6,0a3.3,3.3 0 1,0 -6.6,0M309.1,857.49a3.3,3.3 0 1,0 6.6,0a3.3,3.3 0 1,0 -6.6,0M318.03,830.5a3.3,3.3 0 1,0 6.6,0a3.3,3.3 0 1,0 -6.6,0M326.95,793.19a3.3,3.3 0 1,0 6.6,0a3.3,3.3 0 1,0 -6.6,0M335.88,779.3a3.3,3.3 0 1,0 6.6,0a3.3,3.3 0 1,0 -6.6,0M344.81,780.88a3.3,3.3 0 1,0 6.6,0a3.3,3.3 0 1,0 -6.6,0M353.74,794.18a3.3,3.3 0 1,0 6.6,0a3.3,3.3 0 1,0 -6.6,0M362.66,823.16a3.3,3.3 0 1,0 6.6,0a3.3,3.3 0 1,0 -6.6,0M371.59,861.66a3.3,3.3 0 1,0 6.6,0a3.3,3.3 0 1,0 -6.6,0M380.52,905.32a3.3,3.3 0 1,0 6.6,0a3.3,3.3 0 1,0 -6.6,0M389.45,943.62a3.3,3.3 0 1,0 6.6,0a3.3,3.3 0 1,0 -6.6,0M398.37,959.5a3.3,3.3 0 1,0 6.6,0a3.3,3.3 0 1,0 -6.6,0M407.3,959.5a3.3,3.3 0 1,0 6.6,0a3.3,3.3 0 1,0 -6.6,0M416.23,959.5a3.3,3.3 0 1,0 6.6,0a3.3,3.3 0 1,0 -6.6,0M425.16,959.5a3.3,3.3 0 1,0 6.6,0a3.3,3.3 0 1,0 -6.6,0M434.08,959.5a3.3,3.3 0 1,0 6.6,0a3.3,3.3 0 1,0 -6.6,0M443.01,959.5a3.3,3.3 0 1,0 6.6,0a3.3,3.3 0 1,0 -6.6,0M451.94,959.5a3.3,3.3 0 1,0 6.6,0a3.3,3.3 0 1,0 -6.6,0M460.87,959.5a3.3,3.3 0 1,0 6.6,0a3.3,3.3 0 1,0 -6.6,0M469.79,959.5a3.3,3.3 0 1,0 6.6,0a3.3,3.3 0 1,0 -6.6,0M478.72,959.5a3.3,3.3 0 1,0 6.6,0a3.3,3.3 0 1,0 -6.6,0M487.65,959.5a3.3,3.3 0 1,0 6.6,0a3.3,3.3 0 1,0 -6.6,0M496.58,959.5a3.3,3.3 0 1,0 6.6,0a3.3,3.3 0 1,0 -6.6,0M505.5,939.65a3.3,3.3 0 1,0 6.6,0a3.3,3.3 0 1,0 -6.6,0M514.43,909.88a3.3,3.3 0 1,0 6.6,0a3.3,3.3 0 1,0 -6.6,0M523.36,856.5a3.3,3.3 0 1,0 6.6,0a3.3,3.3 0 1,0 -6.6,0M532.29,820.97a3.3,3.3 0 1,0 6.6,0a3.3,3.3 0 1,0 -6.6,0M541.21,793.19a3.3,3.3 0 1,0 6.6,0a3.3,3.3 0 1,0 -6.6,0M550.14,779.3a3.3,3.3 0 1,0 6.6,0a3.3,3.3 0 1,0 -6.6,0M559.07,779.69a3.3,3.3 0 1,0 6.6,0a3.3,3.3 0 1,0 -6.6,0M568,794.78a3.3,3.3 0 1,0 6.6,0a3.3,3.3 0 1,0 -6.6,0M576.92,820.58a3.3,3.3 0 1,0 6.6,0a3.3,3.3 0 1,0 -6.6,0M585.85,863.25a3.3,3.3 0 1,0 6.6,0a3.3,3.3 0 1,0 -6.6,0M594.78,903.93a3.3,3.3 0 1,0 6.6,0a3.3,3.3 0 1,0 -6.6,0M603.71,945.61a3.3,3.3 0 1,0 6.6,0a3.3,3.3 0 1,0 -6.6,0M612.63,959.5a3.3,3.3 0 1,0 6.6,0a3.3,3.3 0 1,0 -6.6,0M621.56,959.5a3.3,3.3 0 1,0 6.6,0a3.3,3.3 0 1,0 -6.6,0M630.49,959.5a3.3,3.3 0 1,0 6.6,0a3.3,3.3 0 1,0 -6.6,0M639.42,959.5a3.3,3.3 0 1,0 6.6,0a3.3,3.3 0 1,0 -6.6,0M648.34,959.5a3.3,3.3 0 1,0 6.6,0a3.3,3.3 0 1,0 -6.6,0M657.27,959.5a3.3,3.3 0 1,0 6.6,0a3.3,3.3 0 1,0 -6.6,0M666.2,959.5a3.3,3.3 0 1,0 6.6,0a3.3,3.3 0 1,0 -6.6,0" fill="none" stroke="#000000" stroke-width="0.95"/>
<path d="M53.5,959.5 L62.43,959.5 L71.36,959.5 L80.28,938.74 L89.21,915.3 L98.14,882.71 L107.07,848.78 L115.99,826.45 L124.92,816.09 L133.85,810.47 L142.78,821.07 L151.7,844.65 L160.63,883.11 L169.56,915.88 L178.49,947.45 L187.41,959.5 L196.34,959.5 L205.27,959.5 L214.2,959.5 L223.12,959.5 L232.05,959.5 L240.98,959.5 L249.91,959.5 L258.83,959.5 L267.76,959.5 L276.69,959.5 L285.62,959.5 L294.54,938.13 L303.47,917.23 L312.4,875.23 L321.33,841.57 L330.25,813.37 L339.18,803.88 L348.11,800.47 L357.04,818.23 L365.96,841.06 L374.89,878.31 L383.82,916.52 L392.75,945.54 L401.67,959.5 L410.6,959.5 L419.53,959.5 L428.46,959.5 L437.38,959.5 L446.31,959.5 L455.24,959.5 L464.17,959.5 L473.09,959.5 L482.02,959.5 L490.95,959.5 L499.88,959.5 L508.8,938.41 L517.73,912.63 L526.66,869.01 L535.59,830.38 L544.51,809 L553.44,795.63 L562.37,799.71 L571.3,812.43 L580.22,832.15 L589.15,872.06 L598.08,908.8 L607.01,944.82 L615.93,959.5 L624.86,959.5 L633.79,959.5 L642.72,959.5 L651.64,959.5 L660.57,959.5 L669.5,959.5" fill="none" stroke="#ff0000" stroke-width="0.85" stroke-linejoin="round"/>
<path d="M49.9,959.5h7.2M53.5,955.9v7.2M58.83,959.5h7.2M62.43,955.9v7.2M67.76,959.5h7.2M71.36,955.9v7.2M76.68,938.74h7.2M80.28,935.14v7.2M85.61,915.3h7.2M89.21,911.7v7.2M94.54,882.71h7.2M98.14,879.11v7.2M103.47,848.78h7.2M107.07,845.18v7.2M112.39,826.45h7.2M115.99,822.85v7.2M121.32,816.09h7.2M124.92,812.49v7.2M130.25,810.47h7.2M133.85,806.87v7.2M139.18,821.07h7.2M142.78,817.47v7.2M148.1,844.65h7.2M151.7,841.05v7.2M157.03,883.11h7.2M160.63,879.51v7.2M165.96,915.88h7.2M169.56,912.28v7.2M174.89,947.45h7.2M178.49,943.85v7.2M183.81,959.5h7.2M187.41,955.9v7.2M192.74,959.5h7.2M196.34,955.9v7.2M201.67,959.5h7.2M205.27,955.9v7.2M210.6,959.5h7.2M214.2,955.9v7.2M219.52,959.5h7.2M223.12,955.9v7.2M228.45,959.5h7.2M232.05,955.9v7.2M237.38,959.5h7.2M240.98,955.9v7.2M246.31,959.5h7.2M249.91,955.9v7.2M255.23,959.5h7.2M258.83,955.9v7.2M264.16,959.5h7.2M267.76,955.9v7.2M273.09,959.5h7.2M276.69,955.9v7.2M282.02,959.5h7.2M285.62,955.9v7.2M290.94,938.13h7.2M294.54,934.53v7.2M299.87,917.23h7.2M303.47,913.63v7.2M308.8,875.23h7.2M312.4,871.63v7.2M317.73,841.57h7.2M321.33,837.97v7.2M326.65,813.37h7.2M330.25,809.77v7.2M335.58,803.88h7.2M339.18,800.28v7.2M344.51,800.47h7.2M348.11,796.87v7.2M353.44,818.23h7.2M357.04,814.63v7.2M362.36,841.06h7.2M365.96,837.46v7.2M371.29,878.31h7.2M374.89,874.71v7.2M380.22,916.52h7.2M383.82,912.92v7.2M389.15,945.54h7.2M392.75,941.94v7.2M398.07,959.5h7.2M401.67,955.9v7.2M407,959.5h7.2M410.6,955.9v7.2M415.93,959.5h7.2M419.53,955.9v7.2M424.86,959.5h7.2M428.46,955.9v7.2M433.78,959.5h7.2M437.38,955.9v7.2M442.71,959.5h7.2M446.31,955.9v7.2M451.64,959.5h7.2M455.24,955.9v7.2M460.57,959.5h7.2M464.17,955.9v7.2M469.49,959.5h7.2M473.09,955.9v7.2M478.42,959.5h7.2M482.02,955.9v7.2M487.35,959.5h7.2M490.95,955.9v7.2M496.28,959.5h7.2M499.88,955.9v7.2M505.2,938.41h7.2M508.8,934.81v7.2M514.13,912.63h7.2M517.73,909.03v7.2M523.06,869.01h7.2M526.66,865.41v7.2M531.99,830.38h7.2M535.59,826.78v7.2M540.91,809h7.2M544.51,805.4v7.2M549.84,795.63h7.2M553.44,792.03v7.2M558.77,799.71h7.2M562.37,796.11v7.2M567.7,812.43h7.2M571.3,808.83v7.2M576.62,832.15h7.2M580.22,828.55v7.2M585.55,872.06h7.2M589.15,868.46v7.2M594.48,908.8h7.2M598.08,905.2v7.2M603.41,944.82h7.2M607.01,941.22v7.2M612.33,959.5h7.2M615.93,955.9v7.2M621.26,959.5h7.2M624.86,955.9v7.2M630.19,959.5h7.2M633.79,955.9v7.2M639.12,959.5h7.2M642.72,955.9v7.2M648.04,959.5h7.2M651.64,955.9v7.2M656.97,959.5h7.2M660.57,955.9v7.2M665.9,959.5h7.2M669.5,955.9v7.2" fill="none" stroke="#ff0000" stroke-width="0.95"/>
<path d="M53.5,959.5 L62.43,959.5 L71.36,959.5 L80.28,937.54 L89.21,912.19 L98.14,879.27 L107.07,841.91 L115.99,816.11 L124.92,801.87 L133.85,802.15 L142.78,815.89 L151.7,835.81 L160.63,876.73 L169.56,914.19 L178.49,947.44 L187.41,959.5 L196.34,959.5 L205.27,959.5 L214.2,959.5 L223.12,959.5 L232.05,959.5 L240.98,959.5 L249.91,959.5 L258.83,959.5 L267.76,959.5 L276.69,959.5 L285.62,959.5 L294.54,936.87 L303.47,913.53 L312.4,872.16 L321.33,833.21 L330.25,804.57 L339.18,793.31 L348.11,791.09 L357.04,808.16 L365.96,833.49 L374.89,871.62 L383.82,912.83 L392.75,945.76 L401.67,959.5 L410.6,959.5 L419.53,959.5 L428.46,959.5 L437.38,959.5 L446.31,959.5 L455.24,959.5 L464.17,959.5 L473.09,959.5 L482.02,959.5 L490.95,959.5 L499.88,959.5 L508.8,936.97 L517.73,887.66 L526.66,842.01 L535.59,799.34 L544.51,777.51 L553.44,769.77 L562.37,774.14 L571.3,788.62 L580.22,815.42 L589.15,853.12 L598.08,897.98 L607.01,944.22 L615.93,959.5 L624.86,959.5 L633.79,959.5 L642.72,959.5 L651.64,959.5 L660.57,959.5 L669.5,959.5" fill="none" stroke="#0000ff" stroke-width="0.85" stroke-linejoin="round"/>
<path d="M49.9,959.5h7.2M53.5,955.9v7.2M50.9,956.9l5.2,5.2M50.9,962.1l5.2,-5.2M58.83,959.5h7.2M62.43,955.9v7.2M59.83,956.9l5.2,5.2M59.83,962.1l5.2,-5.2M67.76,959.5h7.2M71.36,955.9v7.2M68.76,956.9l5.2,5.2M68.76,962.1l5.2,-5.2M76.68,937.54h7.2M80.28,933.94v7.2M77.68,934.94l5.2,5.2M77.68,940.14l5.2,-5.2M85.61,912.19h7.2M89.21,908.59v7.2M86.61,909.59l5.2,5.2M86.61,914.79l5.2,-5.2M94.54,879.27h7.2M98.14,875.67v7.2M95.54,876.67l5.2,5.2M95.54,881.87l5.2,-5.2M103.47,841.91h7.2M107.07,838.31v7.2M104.47,839.31l5.2,5.2M104.47,844.51l5.2,-5.2M112.39,816.11h7.2M115.99,812.51v7.2M113.39,813.51l5.2,5.2M113.39,818.71l5.2,-5.2M121.32,801.87h7.2M124.92,798.27v7.2M122.32,799.27l5.2,5.2M122.32,804.47l5.2,-5.2M130.25,802.15h7.2M133.85,798.55v7.2M131.25,799.55l5.2,5.2M131.25,804.75l5.2,-5.2M139.18,815.89h7.2M142.78,812.29v7.2M140.18,813.29l5.2,5.2M140.18,818.49l5.2,-5.2M148.1,835.81h7.2M151.7,832.21v7.2M149.1,833.21l5.2,5.2M149.1,838.41l5.2,-5.2M157.03,876.73h7.2M160.63,873.13v7.2M158.03,874.13l5.2,5.2M158.03,879.33l5.2,-5.2M165.96,914.19h7.2M169.56,910.59v7.2M166.96,911.59l5.2,5.2M166.96,916.79l5.2,-5.2M174.89,947.44h7.2M178.49,943.84v7.2M175.89,944.84l5.2,5.2M175.89,950.04l5.2,-5.2M183.81,959.5h7.2M187.41,955.9v7.2M184.81,956.9l5.2,5.2M184.81,962.1l5.2,-5.2M192.74,959.5h7.2M196.34,955.9v7.2M193.74,956.9l5.2,5.2M193.74,962.1l5.2,-5.2M201.67,959.5h7.2M205.27,955.9v7.2M202.67,956.9l5.2,5.2M202.67,962.1l5.2,-5.2M210.6,959.5h7.2M214.2,955.9v7.2M211.6,956.9l5.2,5.2M211.6,962.1l5.2,-5.2M219.52,959.5h7.2M223.12,955.9v7.2M220.52,956.9l5.2,5.2M220.52,962.1l5.2,-5.2M228.45,959.5h7.2M232.05,955.9v7.2M229.45,956.9l5.2,5.2M229.45,962.1l5.2,-5.2M237.38,959.5h7.2M240.98,955.9v7.2M238.38,956.9l5.2,5.2M238.38,962.1l5.2,-5.2M246.31,959.5h7.2M249.91,955.9v7.2M247.31,956.9l5.2,5.2M247.31,962.1l5.2,-5.2M255.23,959.5h7.2M258.83,955.9v7.2M256.23,956.9l5.2,5.2M256.23,962.1l5.2,-5.2M264.16,959.5h7.2M267.76,955.9v7.2M265.16,956.9l5.2,5.2M265.16,962.1l5.2,-5.2M273.09,959.5h7.2M276.69,955.9v7.2M274.09,956.9l5.2,5.2M274.09,962.1l5.2,-5.2M282.02,959.5h7.2M285.62,955.9v7.2M283.02,956.9l5.2,5.2M283.02,962.1l5.2,-5.2M290.94,936.87h7.2M294.54,933.27v7.2M291.94,934.27l5.2,5.2M291.94,939.47l5.2,-5.2M299.87,913.53h7.2M303.47,909.93v7.2M300.87,910.93l5.2,5.2M300.87,916.13l5.2,-5.2M308.8,872.16h7.2M312.4,868.56v7.2M309.8,869.56l5.2,5.2M309.8,874.76l5.2,-5.2M317.73,833.21h7.2M321.33,829.61v7.2M318.73,830.61l5.2,5.2M318.73,835.81l5.2,-5.2M326.65,804.57h7.2M330.25,800.97v7.2M327.65,801.97l5.2,5.2M327.65,807.17l5.2,-5.2M335.58,793.31h7.2M339.18,789.71v7.2M336.58,790.71l5.2,5.2M336.58,795.91l5.2,-5.2M344.51,791.09h7.2M348.11,787.49v7.2M345.51,788.49l5.2,5.2M345.51,793.69l5.2,-5.2M353.44,808.16h7.2M357.04,804.56v7.2M354.44,805.56l5.2,5.2M354.44,810.76l5.2,-5.2M362.36,833.49h7.2M365.96,829.89v7.2M363.36,830.89l5.2,5.2M363.36,836.09l5.2,-5.2M371.29,871.62h7.2M374.89,868.02v7.2M372.29,869.02l5.2,5.2M372.29,874.22l5.2,-5.2M380.22,912.83h7.2M383.82,909.23v7.2M381.22,910.23l5.2,5.2M381.22,915.43l5.2,-5.2M389.15,945.76h7.2M392.75,942.16v7.2M390.15,943.16l5.2,5.2M390.15,948.36l5.2,-5.2M398.07,959.5h7.2M401.67,955.9v7.2M399.07,956.9l5.2,5.2M399.07,962.1l5.2,-5.2M407,959.5h7.2M410.6,955.9v7.2M408,956.9l5.2,5.2M408,962.1l5.2,-5.2M415.93,959.5h7.2M419.53,955.9v7.2M416.93,956.9l5.2,5.2M416.93,962.1l5.2,-5.2M424.86,959.5h7.2M428.46,955.9v7.2M425.86,956.9l5.2,5.2M425.86,962.1l5.2,-5.2M433.78,959.5h7.2M437.38,955.9v7.2M434.78,956.9l5.2,5.2M434.78,962.1l5.2,-5.2M442.71,959.5h7.2M446.31,955.9v7.2M443.71,956.9l5.2,5.2M443.71,962.1l5.2,-5.2M451.64,959.5h7.2M455.24,955.9v7.2M452.64,956.9l5.2,5.2M452.64,962.1l5.2,-5.2M460.57,959.5h7.2M464.17,955.9v7.2M461.57,956.9l5.2,5.2M461.57,962.1l5.2,-5.2M469.49,959.5h7.2M473.09,955.9v7.2M470.49,956.9l5.2,5.2M470.49,962.1l5.2,-5.2M478.42,959.5h7.2M482.02,955.9v7.2M479.42,956.9l5.2,5.2M479.42,962.1l5.2,-5.2M487.35,959.5h7.2M490.95,955.9v7.2M488.35,956.9l5.2,5.2M488.35,962.1l5.2,-5.2M496.28,959.5h7.2M499.88,955.9v7.2M497.28,956.9l5.2,5.2M497.28,962.1l5.2,-5.2M505.2,936.97h7.2M508.8,933.37v7.2M506.2,934.37l5.2,5.2M506.2,939.57l5.2,-5.2M514.13,887.66h7.2M517.73,884.06v7.2M515.13,885.06l5.2,5.2M515.13,890.26l5.2,-5.2M523.06,842.01h7.2M526.66,838.41v7.2M524.06,839.41l5.2,5.2M524.06,844.61l5.2,-5.2M531.99,799.34h7.2M535.59,795.74v7.2M532.99,796.74l5.2,5.2M532.99,801.94l5.2,-5.2M540.91,777.51h7.2M544.51,773.91v7.2M541.91,774.91l5.2,5.2M541.91,780.11l5.2,-5.2M549.84,769.77h7.2M553.44,766.17v7.2M550.84,767.17l5.2,5.2M550.84,772.37l5.2,-5.2M558.77,774.14h7.2M562.37,770.54v7.2M559.77,771.54l5.2,5.2M559.77,776.74l5.2,-5.2M567.7,788.62h7.2M571.3,785.02v7.2M568.7,786.02l5.2,5.2M568.7,791.22l5.2,-5.2M576.62,815.42h7.2M580.22,811.82v7.2M577.62,812.82l5.2,5.2M577.62,818.02l5.2,-5.2M585.55,853.12h7.2M589.15,849.52v7.2M586.55,850.52l5.2,5.2M586.55,855.72l5.2,-5.2M594.48,897.98h7.2M598.08,894.38v7.2M595.48,895.38l5.2,5.2M595.48,900.58l5.2,-5.2M603.41,944.22h7.2M607.01,940.62v7.2M604.41,941.62l5.2,5.2M604.41,946.82l5.2,-5.2M612.33,959.5h7.2M615.93,955.9v7.2M613.33,956.9l5.2,5.2M613.33,962.1l5.2,-5.2M621.26,959.5h7.2M624.86,955.9v7.2M622.26,956.9l5.2,5.2M622.26,962.1l5.2,-5.2M630.19,959.5h7.2M633.79,955.9v7.2M631.19,956.9l5.2,5.2M631.19,962.1l5.2,-5.2M639.12,959.5h7.2M642.72,955.9v7.2M640.12,956.9l5.2,5.2M640.12,962.1l5.2,-5.2M648.04,959.5h7.2M651.64,955.9v7.2M649.04,956.9l5.2,5.2M649.04,962.1l5.2,-5.2M656.97,959.5h7.2M660.57,955.9v7.2M657.97,956.9l5.2,5.2M657.97,962.1l5.2,-5.2M665.9,959.5h7.2M669.5,955.9v7.2M666.9,956.9l5.2,5.2M666.9,962.1l5.2,-5.2" fill="none" stroke="#0000ff" stroke-width="0.95"/>
<path d="M53.5,959.5 L62.43,959.5 L71.36,959.5 L80.28,937.73 L89.21,912.53 L98.14,877.86 L107.07,843.88 L115.99,819.84 L124.92,805.45 L133.85,804.33 L142.78,816.54 L151.7,841.41 L160.63,877.21 L169.56,915.79 L178.49,947.79 L187.41,959.5 L196.34,959.5 L205.27,959.5 L214.2,959.5 L223.12,959.5 L232.05,959.5 L240.98,959.5 L249.91,959.5 L258.83,959.5 L267.76,959.5 L276.69,959.5 L285.62,959.5 L294.54,939.2 L303.47,913.7 L312.4,872.2 L321.33,834.86 L330.25,806.09 L339.18,792.38 L348.11,790.53 L357.04,805.39 L365.96,831.36 L374.89,875.34 L383.82,913.28 L392.75,944.91 L401.67,959.5 L410.6,959.5 L419.53,959.5 L428.46,959.5 L437.38,959.5 L446.31,959.5 L455.24,959.5 L464.17,959.5 L473.09,959.5 L482.02,959.5 L490.95,959.5 L499.88,959.5 L508.8,938.31 L517.73,909.58 L526.66,861.71 L535.59,824.51 L544.51,800.98 L553.44,793.72 L562.37,790.56 L571.3,805.99 L580.22,828.54 L589.15,870.31 L598.08,907.83 L607.01,944.56 L615.93,959.5 L624.86,959.5 L633.79,959.5 L642.72,959.5 L651.64,959.5 L660.57,959.5 L669.5,959.5" fill="none" stroke="#00e000" stroke-width="0.85" stroke-linejoin="round"/>
<path d="M52.4,959.5a1.1,1.1 0 1,0 2.2,0a1.1,1.1 0 1,0 -2.2,0M61.33,959.5a1.1,1.1 0 1,0 2.2,0a1.1,1.1 0 1,0 -2.2,0M70.26,959.5a1.1,1.1 0 1,0 2.2,0a1.1,1.1 0 1,0 -2.2,0M79.18,937.73a1.1,1.1 0 1,0 2.2,0a1.1,1.1 0 1,0 -2.2,0M88.11,912.53a1.1,1.1 0 1,0 2.2,0a1.1,1.1 0 1,0 -2.2,0M97.04,877.86a1.1,1.1 0 1,0 2.2,0a1.1,1.1 0 1,0 -2.2,0M105.97,843.88a1.1,1.1 0 1,0 2.2,0a1.1,1.1 0 1,0 -2.2,0M114.89,819.84a1.1,1.1 0 1,0 2.2,0a1.1,1.1 0 1,0 -2.2,0M123.82,805.45a1.1,1.1 0 1,0 2.2,0a1.1,1.1 0 1,0 -2.2,0M132.75,804.33a1.1,1.1 0 1,0 2.2,0a1.1,1.1 0 1,0 -2.2,0M141.68,816.54a1.1,1.1 0 1,0 2.2,0a1.1,1.1 0 1,0 -2.2,0M150.6,841.41a1.1,1.1 0 1,0 2.2,0a1.1,1.1 0 1,0 -2.2,0M159.53,877.21a1.1,1.1 0 1,0 2.2,0a1.1,1.1 0 1,0 -2.2,0M168.46,915.79a1.1,1.1 0 1,0 2.2,0a1.1,1.1 0 1,0 -2.2,0M177.39,947.79a1.1,1.1 0 1,0 2.2,0a1.1,1.1 0 1,0 -2.2,0M186.31,959.5a1.1,1.1 0 1,0 2.2,0a1.1,1.1 0 1,0 -2.2,0M195.24,959.5a1.1,1.1 0 1,0 2.2,0a1.1,1.1 0 1,0 -2.2,0M204.17,959.5a1.1,1.1 0 1,0 2.2,0a1.1,1.1 0 1,0 -2.2,0M213.1,959.5a1.1,1.1 0 1,0 2.2,0a1.1,1.1 0 1,0 -2.2,0M222.02,959.5a1.1,1.1 0 1,0 2.2,0a1.1,1.1 0 1,0 -2.2,0M230.95,959.5a1.1,1.1 0 1,0 2.2,0a1.1,1.1 0 1,0 -2.2,0M239.88,959.5a1.1,1.1 0 1,0 2.2,0a1.1,1.1 0 1,0 -2.2,0M248.81,959.5a1.1,1.1 0 1,0 2.2,0a1.1,1.1 0 1,0 -2.2,0M257.73,959.5a1.1,1.1 0 1,0 2.2,0a1.1,1.1 0 1,0 -2.2,0M266.66,959.5a1.1,1.1 0 1,0 2.2,0a1.1,1.1 0 1,0 -2.2,0M275.59,959.5a1.1,1.1 0 1,0 2.2,0a1.1,1.1 0 1,0 -2.2,0M284.52,959.5a1.1,1.1 0 1,0 2.2,0a1.1,1.1 0 1,0 -2.2,0M293.44,939.2a1.1,1.1 0 1,0 2.2,0a1.1,1.1 0 1,0 -2.2,0M302.37,913.7a1.1,1.1 0 1,0 2.2,0a1.1,1.1 0 1,0 -2.2,0M311.3,872.2a1.1,1.1 0 1,0 2.2,0a1.1,1.1 0 1,0 -2.2,0M320.23,834.86a1.1,1.1 0 1,0 2.2,0a1.1,1.1 0 1,0 -2.2,0M329.15,806.09a1.1,1.1 0 1,0 2.2,0a1.1,1.1 0 1,0 -2.2,0M338.08,792.38a1.1,1.1 0 1,0 2.2,0a1.1,1.1 0 1,0 -2.2,0M347.01,790.53a1.1,1.1 0 1,0 2.2,0a1.1,1.1 0 1,0 -2.2,0M355.94,805.39a1.1,1.1 0 1,0 2.2,0a1.1,1.1 0 1,0 -2.2,0M364.86,831.36a1.1,1.1 0 1,0 2.2,0a1.1,1.1 0 1,0 -2.2,0M373.79,875.34a1.1,1.1 0 1,0 2.2,0a1.1,1.1 0 1,0 -2.2,0M382.72,913.28a1.1,1.1 0 1,0 2.2,0a1.1,1.1 0 1,0 -2.2,0M391.65,944.91a1.1,1.1 0 1,0 2.2,0a1.1,1.1 0 1,0 -2.2,0M400.57,959.5a1.1,1.1 0 1,0 2.2,0a1.1,1.1 0 1,0 -2.2,0M409.5,959.5a1.1,1.1 0 1,0 2.2,0a1.1,1.1 0 1,0 -2.2,0M418.43,959.5a1.1,1.1 0 1,0 2.2,0a1.1,1.1 0 1,0 -2.2,0M427.36,959.5a1.1,1.1 0 1,0 2.2,0a1.1,1.1 0 1,0 -2.2,0M436.28,959.5a1.1,1.1 0 1,0 2.2,0a1.1,1.1 0 1,0 -2.2,0M445.21,959.5a1.1,1.1 0 1,0 2.2,0a1.1,1.1 0 1,0 -2.2,0M454.14,959.5a1.1,1.1 0 1,0 2.2,0a1.1,1.1 0 1,0 -2.2,0M463.07,959.5a1.1,1.1 0 1,0 2.2,0a1.1,1.1 0 1,0 -2.2,0M471.99,959.5a1.1,1.1 0 1,0 2.2,0a1.1,1.1 0 1,0 -2.2,0M480.92,959.5a1.1,1.1 0 1,0 2.2,0a1.1,1.1 0 1,0 -2.2,0M489.85,959.5a1.1,1.1 0 1,0 2.2,0a1.1,1.1 0 1,0 -2.2,0M498.78,959.5a1.1,1.1 0 1,0 2.2,0a1.1,1.1 0 1,0 -2.2,0M507.7,938.31a1.1,1.1 0 1,0 2.2,0a1.1,1.1 0 1,0 -2.2,0M516.63,909.58a1.1,1.1 0 1,0 2.2,0a1.1,1.1 0 1,0 -2.2,0M525.56,861.71a1.1,1.1 0 1,0 2.2,0a1.1,1.1 0 1,0 -2.2,0M534.49,824.51a1.1,1.1 0 1,0 2.2,0a1.1,1.1 0 1,0 -2.2,0M543.41,800.98a1.1,1.1 0 1,0 2.2,0a1.1,1.1 0 1,0 -2.2,0M552.34,793.72a1.1,1.1 0 1,0 2.2,0a1.1,1.1 0 1,0 -2.2,0M561.27,790.56a1.1,1.1 0 1,0 2.2,0a1.1,1.1 0 1,0 -2.2,0M570.2,805.99a1.1,1.1 0 1,0 2.2,0a1.1,1.1 0 1,0 -2.2,0M579.12,828.54a1.1,1.1 0 1,0 2.2,0a1.1,1.1 0 1,0 -2.2,0M588.05,870.31a1.1,1.1 0 1,0 2.2,0a1.1,1.1 0 1,0 -2.2,0M596.98,907.83a1.1,1.1 0 1,0 2.2,0a1.1,1.1 0 1,0 -2.2,0M605.91,944.56a1.1,1.1 0 1,0 2.2,0a1.1,1.1 0 1,0 -2.2,0M614.83,959.5a1.1,1.1 0 1,0 2.2,0a1.1,1.1 0 1,0 -2.2,0M623.76,959.5a1.1,1.1 0 1,0 2.2,0a1.1,1.1 0 1,0 -2.2,0M632.69,959.5a1.1,1.1 0 1,0 2.2,0a1.1,1.1 0 1,0 -2.2,0M641.62,959.5a1.1,1.1 0 1,0 2.2,0a1.1,1.1 0 1,0 -2.2,0M650.54,959.5a1.1,1.1 0 1,0 2.2,0a1.1,1.1 0 1,0 -2.2,0M659.47,959.5a1.1,1.1 0 1,0 2.2,0a1.1,1.1 0 1,0 -2.2,0M668.4,959.5a1.1,1.1 0 1,0 2.2,0a1.1,1.1 0 1,0 -2.2,0" fill="#00e000" stroke="none"/>
<path d="M53.5,959.5 L62.43,959.5 L71.36,959.5 L80.28,939.54 L89.21,913.99 L98.14,881.54 L107.07,847.79 L115.99,824.98 L124.92,814.52 L133.85,808 L142.78,821.75 L151.7,844.76 L160.63,879.21 L169.56,916.56 L178.49,948.68 L187.41,959.5 L196.34,959.5 L205.27,959.5 L214.2,959.5 L223.12,959.5 L232.05,959.5 L240.98,959.5 L249.91,959.5 L258.83,959.5 L267.76,959.5 L276.69,959.5 L285.62,959.5 L294.54,939.5 L303.47,914.88 L312.4,876.15 L321.33,839.96 L330.25,810.72 L339.18,803.13 L348.11,798.27 L357.04,813.25 L365.96,839.64 L374.89,877.32 L383.82,913.52 L392.75,946.6 L401.67,959.5 L410.6,959.5 L419.53,959.5 L428.46,959.5 L437.38,959.5 L446.31,959.5 L455.24,959.5 L464.17,959.5 L473.09,959.5 L482.02,959.5 L490.95,959.5 L499.88,959.5 L508.8,939.19 L517.73,914.07 L526.66,866.29 L535.59,832.84 L544.51,806.03 L553.44,796.36 L562.37,804.7 L571.3,807.56 L580.22,833.23 L589.15,869.91 L598.08,909.57 L607.01,946.68 L615.93,959.5 L624.86,959.5 L633.79,959.5 L642.72,959.5 L651.64,959.5 L660.57,959.5 L669.5,959.5" fill="none" stroke="#f0883c" stroke-width="0.85" stroke-linejoin="round"/>
<path d="M50.6,956.6h5.8v5.8h-5.8zM59.53,956.6h5.8v5.8h-5.8zM68.46,956.6h5.8v5.8h-5.8zM77.38,936.64h5.8v5.8h-5.8zM86.31,911.09h5.8v5.8h-5.8zM95.24,878.64h5.8v5.8h-5.8zM104.17,844.89h5.8v5.8h-5.8zM113.09,822.08h5.8v5.8h-5.8zM122.02,811.62h5.8v5.8h-5.8zM130.95,805.1h5.8v5.8h-5.8zM139.88,818.85h5.8v5.8h-5.8zM148.8,841.86h5.8v5.8h-5.8zM157.73,876.31h5.8v5.8h-5.8zM166.66,913.66h5.8v5.8h-5.8zM175.59,945.78h5.8v5.8h-5.8zM184.51,956.6h5.8v5.8h-5.8zM193.44,956.6h5.8v5.8h-5.8zM202.37,956.6h5.8v5.8h-5.8zM211.3,956.6h5.8v5.8h-5.8zM220.22,956.6h5.8v5.8h-5.8zM229.15,956.6h5.8v5.8h-5.8zM238.08,956.6h5.8v5.8h-5.8zM247.01,956.6h5.8v5.8h-5.8zM255.93,956.6h5.8v5.8h-5.8zM264.86,956.6h5.8v5.8h-5.8zM273.79,956.6h5.8v5.8h-5.8zM282.72,956.6h5.8v5.8h-5.8zM291.64,936.6h5.8v5.8h-5.8zM300.57,911.98h5.8v5.8h-5.8zM309.5,873.25h5.8v5.8h-5.8zM318.43,837.06h5.8v5.8h-5.8zM327.35,807.82h5.8v5.8h-5.8zM336.28,800.23h5.8v5.8h-5.8zM345.21,795.37h5.8v5.8h-5.8zM354.14,810.35h5.8v5.8h-5.8zM363.06,836.74h5.8v5.8h-5.8zM371.99,874.42h5.8v5.8h-5.8zM380.92,910.62h5.8v5.8h-5.8zM389.85,943.7h5.8v5.8h-5.8zM398.77,956.6h5.8v5.8h-5.8zM407.7,956.6h5.8v5.8h-5.8zM416.63,956.6h5.8v5.8h-5.8zM425.56,956.6h5.8v5.8h-5.8zM434.48,956.6h5.8v5.8h-5.8zM443.41,956.6h5.8v5.8h-5.8zM452.34,956.6h5.8v5.8h-5.8zM461.27,956.6h5.8v5.8h-5.8zM470.19,956.6h5.8v5.8h-5.8zM479.12,956.6h5.8v5.8h-5.8zM488.05,956.6h5.8v5.8h-5.8zM496.98,956.6h5.8v5.8h-5.8zM505.9,936.29h5.8v5.8h-5.8zM514.83,911.17h5.8v5.8h-5.8zM523.76,863.39h5.8v5.8h-5.8zM532.69,829.94h5.8v5.8h-5.8zM541.61,803.13h5.8v5.8h-5.8zM550.54,793.46h5.8v5.8h-5.8zM559.47,801.8h5.8v5.8h-5.8zM568.4,804.66h5.8v5.8h-5.8zM577.32,830.33h5.8v5.8h-5.8zM586.25,867.01h5.8v5.8h-5.8zM595.18,906.67h5.8v5.8h-5.8zM604.11,943.78h5.8v5.8h-5.8zM613.03,956.6h5.8v5.8h-5.8zM621.96,956.6h5.8v5.8h-5.8zM630.89,956.6h5.8v5.8h-5.8zM639.82,956.6h5.8v5.8h-5.8zM648.74,956.6h5.8v5.8h-5.8zM657.67,956.6h5.8v5.8h-5.8zM666.6,956.6h5.8v5.8h-5.8z" fill="none" stroke="#f0883c" stroke-width="0.95"/>
<path d="M53.5,959.5 L62.43,959.5 L71.36,959.5 L80.28,939.65 L89.21,913.85 L98.14,876.15 L107.07,800.14 L115.99,789.82 L124.92,834.27 L133.85,784.85 L142.78,793.98 L151.7,918.62 L160.63,939.85 L169.56,917.62 L178.49,947.59 L187.41,959.5 L196.34,959.5 L205.27,959.5 L214.2,959.5 L223.12,959.5 L232.05,959.5 L240.98,959.5 L249.91,959.5 L258.83,959.5 L267.76,959.5 L276.69,959.5 L285.62,959.5 L294.54,936.73 L303.47,914.58 L312.4,872.14 L321.33,835.12 L330.25,816.41 L339.18,779.3 L348.11,780.88 L357.04,829.9 L365.96,831.69 L374.89,873.61 L383.82,912.22 L392.75,945.73 L401.67,959.5 L410.6,959.5 L419.53,959.5 L428.46,959.5 L437.38,959.5 L446.31,959.5 L455.24,959.5 L464.17,959.5 L473.09,959.5 L482.02,959.5 L490.95,959.5 L499.88,959.5 L508.8,955.53 L517.73,909.96 L526.66,864.86 L535.59,823.2 L544.51,797.61 L553.44,787.71 L562.37,787.43 L571.3,801.78 L580.22,823.36 L589.15,899.76 L598.08,926.56 L607.01,944.28 L615.93,959.5 L624.86,959.5 L633.79,959.5 L642.72,959.5 L651.64,959.5 L660.57,959.5 L669.5,959.5" fill="none" stroke="#77ac30" stroke-width="0.85" stroke-linejoin="round"/>
<path d="M53.5,955.5l3.5,4l-3.5,4l-3.5,-4zM62.43,955.5l3.5,4l-3.5,4l-3.5,-4zM71.36,955.5l3.5,4l-3.5,4l-3.5,-4zM80.28,935.65l3.5,4l-3.5,4l-3.5,-4zM89.21,909.85l3.5,4l-3.5,4l-3.5,-4zM98.14,872.15l3.5,4l-3.5,4l-3.5,-4zM107.07,796.14l3.5,4l-3.5,4l-3.5,-4zM115.99,785.82l3.5,4l-3.5,4l-3.5,-4zM124.92,830.27l3.5,4l-3.5,4l-3.5,-4zM133.85,780.85l3.5,4l-3.5,4l-3.5,-4zM142.78,789.98l3.5,4l-3.5,4l-3.5,-4zM151.7,914.62l3.5,4l-3.5,4l-3.5,-4zM160.63,935.85l3.5,4l-3.5,4l-3.5,-4zM169.56,913.62l3.5,4l-3.5,4l-3.5,-4zM178.49,943.59l3.5,4l-3.5,4l-3.5,-4zM187.41,955.5l3.5,4l-3.5,4l-3.5,-4zM196.34,955.5l3.5,4l-3.5,4l-3.5,-4zM205.27,955.5l3.5,4l-3.5,4l-3.5,-4zM214.2,955.5l3.5,4l-3.5,4l-3.5,-4zM223.12,955.5l3.5,4l-3.5,4l-3.5,-4zM232.05,955.5l3.5,4l-3.5,4l-3.5,-4zM240.98,955.5l3.5,4l-3.5,4l-3.5,-4zM249.91,955.5l3.5,4l-3.5,4l-3.5,-4zM258.83,955.5l3.5,4l-3.5,4l-3.5,-4zM267.76,955.5l3.5,4l-3.5,4l-3.5,-4zM276.69,955.5l3.5,4l-3.5,4l-3.5,-4zM285.62,955.5l3.5,4l-3.5,4l-3.5,-4zM294.54,932.73l3.5,4l-3.5,4l-3.5,-4zM303.47,910.58l3.5,4l-3.5,4l-3.5,-4zM312.4,868.14l3.5,4l-3.5,4l-3.5,-4zM321.33,831.12l3.5,4l-3.5,4l-3.5,-4zM330.25,812.41l3.5,4l-3.5,4l-3.5,-4zM339.18,775.3l3.5,4l-3.5,4l-3.5,-4zM348.11,776.88l3.5,4l-3.5,4l-3.5,-4zM357.04,825.9l3.5,4l-3.5,4l-3.5,-4zM365.96,827.69l3.5,4l-3.5,4l-3.5,-4zM374.89,869.61l3.5,4l-3.5,4l-3.5,-4zM383.82,908.22l3.5,4l-3.5,4l-3.5,-4zM392.75,941.73l3.5,4l-3.5,4l-3.5,-4zM401.67,955.5l3.5,4l-3.5,4l-3.5,-4zM410.6,955.5l3.5,4l-3.5,4l-3.5,-4zM419.53,955.5l3.5,4l-3.5,4l-3.5,-4zM428.46,955.5l3.5,4l-3.5,4l-3.5,-4zM437.38,955.5l3.5,4l-3.5,4l-3.5,-4zM446.31,955.5l3.5,4l-3.5,4l-3.5,-4zM455.24,955.5l3.5,4l-3.5,4l-3.5,-4zM464.17,955.5l3.5,4l-3.5,4l-3.5,-4zM473.09,955.5l3.5,4l-3.5,4l-3.5,-4zM482.02,955.5l3.5,4l-3.5,4l-3.5,-4zM490.95,955.5l3.5,4l-3.5,4l-3.5,-4zM499.88,955.5l3.5,4l-3.5,4l-3.5,-4zM508.8,951.53l3.5,4l-3.5,4l-3.5,-4zM517.73,905.96l3.5,4l-3.5,4l-3.5,-4zM526.66,860.86l3.5,4l-3.5,4l-3.5,-4zM535.59,819.2l3.5,4l-3.5,4l-3.5,-4zM544.51,793.61l3.5,4l-3.5,4l-3.5,-4zM553.44,783.71l3.5,4l-3.5,4l-3.5,-4zM562.37,783.43l3.5,4l-3.5,4l-3.5,-4zM571.3,797.78l3.5,4l-3.5,4l-3.5,-4zM580.22,819.36l3.5,4l-3.5,4l-3.5,-4zM589.15,895.76l3.5,4l-3.5,4l-3.5,-4zM598.08,922.56l3.5,4l-3.5,4l-3.5,-4zM607.01,940.28l3.5,4l-3.5,4l-3.5,-4zM615.93,955.5l3.5,4l-3.5,4l-3.5,-4zM624.86,955.5l3.5,4l-3.5,4l-3.5,-4zM633.79,955.5l3.5,4l-3.5,4l-3.5,-4zM642.72,955.5l3.5,4l-3.5,4l-3.5,-4zM651.64,955.5l3.5,4l-3.5,4l-3.5,-4zM660.57,955.5l3.5,4l-3.5,4l-3.5,-4zM669.5,955.5l3.5,4l-3.5,4l-3.5,-4z" fill="none" stroke="#77ac30" stroke-width="0.95"/>
<path d="M53.5,959.5 L62.43,959.5 L71.36,959.5 L80.28,937.21 L89.21,910.4 L98.14,874.44 L107.07,837.08 L115.99,811.27 L124.92,796.08 L133.85,793.19 L142.78,820.58 L151.7,825.34 L160.63,856.5 L169.56,892.02 L178.49,935.68 L187.41,959.5 L196.34,959.5 L205.27,959.5 L214.2,959.5 L223.12,959.5 L232.05,959.5 L240.98,959.5 L249.91,959.5 L258.83,959.5 L267.76,959.5 L276.69,959.5 L285.62,959.5 L294.54,936.12 L303.47,911.95 L312.4,848.76 L321.33,812.04 L330.25,794.04 L339.18,787.52 L348.11,782.63 L357.04,800.61 L365.96,801.92 L374.89,839.83 L383.82,879.72 L392.75,927.55 L401.67,959.5 L410.6,959.5 L419.53,959.5 L428.46,959.5 L437.38,959.5 L446.31,959.5 L455.24,959.5 L464.17,959.5 L473.09,959.5 L482.02,959.5 L490.95,959.5 L499.88,959.5 L508.8,915.44 L517.73,862.06 L526.66,810.85 L535.59,777.51 L544.51,756.47 L553.44,754.29 L562.37,760.84 L571.3,769.77 L580.22,777.51 L589.15,815.42 L598.08,869.8 L607.01,934.3 L615.93,959.5 L624.86,959.5 L633.79,959.5 L642.72,956.52 L651.64,954.54 L660.57,954.54 L669.5,954.54" fill="none" stroke="#ffff00" stroke-width="0.85" stroke-linejoin="round"/>
<path d="M53.5,956.2l4.1,6.6h-8.2zM62.43,956.2l4.1,6.6h-8.2zM71.36,956.2l4.1,6.6h-8.2zM80.28,933.91l4.1,6.6h-8.2zM89.21,907.1l4.1,6.6h-8.2zM98.14,871.14l4.1,6.6h-8.2zM107.07,833.78l4.1,6.6h-8.2zM115.99,807.97l4.1,6.6h-8.2zM124.92,792.78l4.1,6.6h-8.2zM133.85,789.89l4.1,6.6h-8.2zM142.78,817.28l4.1,6.6h-8.2zM151.7,822.04l4.1,6.6h-8.2zM160.63,853.2l4.1,6.6h-8.2zM169.56,888.72l4.1,6.6h-8.2zM178.49,932.38l4.1,6.6h-8.2zM187.41,956.2l4.1,6.6h-8.2zM196.34,956.2l4.1,6.6h-8.2zM205.27,956.2l4.1,6.6h-8.2zM214.2,956.2l4.1,6.6h-8.2zM223.12,956.2l4.1,6.6h-8.2zM232.05,956.2l4.1,6.6h-8.2zM240.98,956.2l4.1,6.6h-8.2zM249.91,956.2l4.1,6.6h-8.2zM258.83,956.2l4.1,6.6h-8.2zM267.76,956.2l4.1,6.6h-8.2zM276.69,956.2l4.1,6.6h-8.2zM285.62,956.2l4.1,6.6h-8.2zM294.54,932.82l4.1,6.6h-8.2zM303.47,908.65l4.1,6.6h-8.2zM312.4,845.46l4.1,6.6h-8.2zM321.33,808.74l4.1,6.6h-8.2zM330.25,790.74l4.1,6.6h-8.2zM339.18,784.22l4.1,6.6h-8.2zM348.11,779.33l4.1,6.6h-8.2zM357.04,797.31l4.1,6.6h-8.2zM365.96,798.62l4.1,6.6h-8.2zM374.89,836.53l4.1,6.6h-8.2zM383.82,876.42l4.1,6.6h-8.2zM392.75,924.25l4.1,6.6h-8.2zM401.67,956.2l4.1,6.6h-8.2zM410.6,956.2l4.1,6.6h-8.2zM419.53,956.2l4.1,6.6h-8.2zM428.46,956.2l4.1,6.6h-8.2zM437.38,956.2l4.1,6.6h-8.2zM446.31,956.2l4.1,6.6h-8.2zM455.24,956.2l4.1,6.6h-8.2zM464.17,956.2l4.1,6.6h-8.2zM473.09,956.2l4.1,6.6h-8.2zM482.02,956.2l4.1,6.6h-8.2zM490.95,956.2l4.1,6.6h-8.2zM499.88,956.2l4.1,6.6h-8.2zM508.8,912.14l4.1,6.6h-8.2zM517.73,858.76l4.1,6.6h-8.2zM526.66,807.55l4.1,6.6h-8.2zM535.59,774.21l4.1,6.6h-8.2zM544.51,753.17l4.1,6.6h-8.2zM553.44,750.99l4.1,6.6h-8.2zM562.37,757.54l4.1,6.6h-8.2zM571.3,766.47l4.1,6.6h-8.2zM580.22,774.21l4.1,6.6h-8.2zM589.15,812.12l4.1,6.6h-8.2zM598.08,866.5l4.1,6.6h-8.2zM607.01,931l4.1,6.6h-8.2zM615.93,956.2l4.1,6.6h-8.2zM624.86,956.2l4.1,6.6h-8.2zM633.79,956.2l4.1,6.6h-8.2zM642.72,953.22l4.1,6.6h-8.2zM651.64,951.24l4.1,6.6h-8.2zM660.57,951.24l4.1,6.6h-8.2zM669.5,951.24l4.1,6.6h-8.2z" fill="none" stroke="#ffff00" stroke-width="0.95"/>
<path d="M53.5,949.78 L62.43,949.78 L71.36,949.78 L80.28,923.18 L89.21,891.23 L98.14,858.28 L107.07,825.14 L115.99,792.2 L124.92,772.75 L133.85,782.27 L142.78,813.04 L151.7,840.42 L160.63,870.99 L169.56,901.55 L178.49,936.48 L187.41,959.5 L196.34,959.5 L205.27,959.5 L214.2,959.5 L223.12,959.5 L232.05,959.5 L240.98,959.5 L249.91,959.5 L258.83,959.5 L267.76,959.5 L276.69,959.5 L285.62,959.5 L294.54,925.36 L303.47,889.84 L312.4,854.32 L321.33,817.6 L330.25,783.07 L339.18,762.03 L348.11,770.96 L357.04,797.56 L365.96,829.9 L374.89,861.66 L383.82,892.02 L392.75,926.95 L401.67,948.19 L410.6,952.16 L419.53,949.97 L428.46,946.2 L437.38,944.42 L446.31,942.43 L455.24,940.45 L464.17,937.27 L473.09,940.05 L482.02,942.23 L490.95,945.01 L499.88,940.65 L508.8,908.69 L517.73,873.17 L526.66,837.64 L535.59,800.93 L544.51,767.59 L553.44,745.36 L562.37,754.29 L571.3,782.08 L580.22,814.23 L589.15,846.38 L598.08,878.73 L607.01,914.25 L615.93,936.28 L624.86,941.64 L633.79,935.49 L642.72,929.33 L651.64,923.98 L660.57,926.36 L669.5,927.15" fill="none" stroke="#9e7a2e" stroke-width="0.85" stroke-linejoin="round"/>
<path d="M53.5,953.08l4.1,-6.6h-8.2zM62.43,953.08l4.1,-6.6h-8.2zM71.36,953.08l4.1,-6.6h-8.2zM80.28,926.48l4.1,-6.6h-8.2zM89.21,894.53l4.1,-6.6h-8.2zM98.14,861.58l4.1,-6.6h-8.2zM107.07,828.44l4.1,-6.6h-8.2zM115.99,795.5l4.1,-6.6h-8.2zM124.92,776.05l4.1,-6.6h-8.2zM133.85,785.57l4.1,-6.6h-8.2zM142.78,816.34l4.1,-6.6h-8.2zM151.7,843.72l4.1,-6.6h-8.2zM160.63,874.29l4.1,-6.6h-8.2zM169.56,904.85l4.1,-6.6h-8.2zM178.49,939.78l4.1,-6.6h-8.2zM187.41,962.8l4.1,-6.6h-8.2zM196.34,962.8l4.1,-6.6h-8.2zM205.27,962.8l4.1,-6.6h-8.2zM214.2,962.8l4.1,-6.6h-8.2zM223.12,962.8l4.1,-6.6h-8.2zM232.05,962.8l4.1,-6.6h-8.2zM240.98,962.8l4.1,-6.6h-8.2zM249.91,962.8l4.1,-6.6h-8.2zM258.83,962.8l4.1,-6.6h-8.2zM267.76,962.8l4.1,-6.6h-8.2zM276.69,962.8l4.1,-6.6h-8.2zM285.62,962.8l4.1,-6.6h-8.2zM294.54,928.66l4.1,-6.6h-8.2zM303.47,893.14l4.1,-6.6h-8.2zM312.4,857.62l4.1,-6.6h-8.2zM321.33,820.9l4.1,-6.6h-8.2zM330.25,786.37l4.1,-6.6h-8.2zM339.18,765.33l4.1,-6.6h-8.2zM348.11,774.26l4.1,-6.6h-8.2zM357.04,800.86l4.1,-6.6h-8.2zM365.96,833.2l4.1,-6.6h-8.2zM374.89,864.96l4.1,-6.6h-8.2zM383.82,895.32l4.1,-6.6h-8.2zM392.75,930.25l4.1,-6.6h-8.2zM401.67,951.49l4.1,-6.6h-8.2zM410.6,955.46l4.1,-6.6h-8.2zM419.53,953.27l4.1,-6.6h-8.2zM428.46,949.5l4.1,-6.6h-8.2zM437.38,947.72l4.1,-6.6h-8.2zM446.31,945.73l4.1,-6.6h-8.2zM455.24,943.75l4.1,-6.6h-8.2zM464.17,940.57l4.1,-6.6h-8.2zM473.09,943.35l4.1,-6.6h-8.2zM482.02,945.53l4.1,-6.6h-8.2zM490.95,948.31l4.1,-6.6h-8.2zM499.88,943.95l4.1,-6.6h-8.2zM508.8,911.99l4.1,-6.6h-8.2zM517.73,876.47l4.1,-6.6h-8.2zM526.66,840.94l4.1,-6.6h-8.2zM535.59,804.23l4.1,-6.6h-8.2zM544.51,770.89l4.1,-6.6h-8.2zM553.44,748.66l4.1,-6.6h-8.2zM562.37,757.59l4.1,-6.6h-8.2zM571.3,785.38l4.1,-6.6h-8.2zM580.22,817.53l4.1,-6.6h-8.2zM589.15,849.68l4.1,-6.6h-8.2zM598.08,882.03l4.1,-6.6h-8.2zM607.01,917.55l4.1,-6.6h-8.2zM615.93,939.58l4.1,-6.6h-8.2zM624.86,944.94l4.1,-6.6h-8.2zM633.79,938.79l4.1,-6.6h-8.2zM642.72,932.63l4.1,-6.6h-8.2zM651.64,927.28l4.1,-6.6h-8.2zM660.57,929.66l4.1,-6.6h-8.2zM669.5,930.45l4.1,-6.6h-8.2z" fill="none" stroke="#9e7a2e" stroke-width="0.95"/>
<path d="M53.5,955.13 L62.43,955.13 L71.36,955.13 L80.28,937.39 L89.21,912.24 L98.14,878.85 L107.07,839.91 L115.99,816.64 L124.92,807.23 L133.85,807.16 L142.78,815.92 L151.7,838.89 L160.63,878.39 L169.56,914.49 L178.49,947.8 L187.41,959.5 L196.34,959.5 L205.27,959.5 L214.2,959.5 L223.12,959.5 L232.05,959.5 L240.98,955.13 L249.91,955.13 L258.83,955.13 L267.76,955.13 L276.69,955.13 L285.62,955.13 L294.54,937.5 L303.47,914.64 L312.4,872.85 L321.33,835.69 L330.25,803.64 L339.18,795.23 L348.11,795.1 L357.04,806.2 L365.96,830.98 L374.89,874.33 L383.82,913.06 L392.75,945.89 L401.67,959.5 L410.6,959.5 L419.53,959.5 L428.46,959.5 L437.38,959.5 L446.31,959.5 L455.24,959.5 L464.17,955.13 L473.09,955.13 L482.02,955.13 L490.95,955.13 L499.88,955.13 L508.8,937.91 L517.73,910.28 L526.66,861.81 L535.59,824.79 L544.51,798.23 L553.44,789.82 L562.37,787.63 L571.3,802.51 L580.22,821.93 L589.15,866.92 L598.08,906.62 L607.01,944.62 L615.93,959.5 L624.86,959.5 L633.79,959.5 L642.72,959.5 L651.64,959.5 L660.57,959.5 L669.5,959.5" fill="none" stroke="#1a7faf" stroke-width="0.85" stroke-linejoin="round"/>
<path d="M56.8,955.13l-6.6,4.1v-8.2zM65.73,955.13l-6.6,4.1v-8.2zM74.66,955.13l-6.6,4.1v-8.2zM83.58,937.39l-6.6,4.1v-8.2zM92.51,912.24l-6.6,4.1v-8.2zM101.44,878.85l-6.6,4.1v-8.2zM110.37,839.91l-6.6,4.1v-8.2zM119.29,816.64l-6.6,4.1v-8.2zM128.22,807.23l-6.6,4.1v-8.2zM137.15,807.16l-6.6,4.1v-8.2zM146.08,815.92l-6.6,4.1v-8.2zM155,838.89l-6.6,4.1v-8.2zM163.93,878.39l-6.6,4.1v-8.2zM172.86,914.49l-6.6,4.1v-8.2zM181.79,947.8l-6.6,4.1v-8.2zM190.71,959.5l-6.6,4.1v-8.2zM199.64,959.5l-6.6,4.1v-8.2zM208.57,959.5l-6.6,4.1v-8.2zM217.5,959.5l-6.6,4.1v-8.2zM226.42,959.5l-6.6,4.1v-8.2zM235.35,959.5l-6.6,4.1v-8.2zM244.28,955.13l-6.6,4.1v-8.2zM253.21,955.13l-6.6,4.1v-8.2zM262.13,955.13l-6.6,4.1v-8.2zM271.06,955.13l-6.6,4.1v-8.2zM279.99,955.13l-6.6,4.1v-8.2zM288.92,955.13l-6.6,4.1v-8.2zM297.84,937.5l-6.6,4.1v-8.2zM306.77,914.64l-6.6,4.1v-8.2zM315.7,872.85l-6.6,4.1v-8.2zM324.63,835.69l-6.6,4.1v-8.2zM333.55,803.64l-6.6,4.1v-8.2zM342.48,795.23l-6.6,4.1v-8.2zM351.41,795.1l-6.6,4.1v-8.2zM360.34,806.2l-6.6,4.1v-8.2zM369.26,830.98l-6.6,4.1v-8.2zM378.19,874.33l-6.6,4.1v-8.2zM387.12,913.06l-6.6,4.1v-8.2zM396.05,945.89l-6.6,4.1v-8.2zM404.97,959.5l-6.6,4.1v-8.2zM413.9,959.5l-6.6,4.1v-8.2zM422.83,959.5l-6.6,4.1v-8.2zM431.76,959.5l-6.6,4.1v-8.2zM440.68,959.5l-6.6,4.1v-8.2zM449.61,959.5l-6.6,4.1v-8.2zM458.54,959.5l-6.6,4.1v-8.2zM467.47,955.13l-6.6,4.1v-8.2zM476.39,955.13l-6.6,4.1v-8.2zM485.32,955.13l-6.6,4.1v-8.2zM494.25,955.13l-6.6,4.1v-8.2zM503.18,955.13l-6.6,4.1v-8.2zM512.1,937.91l-6.6,4.1v-8.2zM521.03,910.28l-6.6,4.1v-8.2zM529.96,861.81l-6.6,4.1v-8.2zM538.89,824.79l-6.6,4.1v-8.2zM547.81,798.23l-6.6,4.1v-8.2zM556.74,789.82l-6.6,4.1v-8.2zM565.67,787.63l-6.6,4.1v-8.2zM574.6,802.51l-6.6,4.1v-8.2zM583.52,821.93l-6.6,4.1v-8.2zM592.45,866.92l-6.6,4.1v-8.2zM601.38,906.62l-6.6,4.1v-8.2zM610.31,944.62l-6.6,4.1v-8.2zM619.23,959.5l-6.6,4.1v-8.2zM628.16,959.5l-6.6,4.1v-8.2zM637.09,959.5l-6.6,4.1v-8.2zM646.02,959.5l-6.6,4.1v-8.2zM654.94,959.5l-6.6,4.1v-8.2zM663.87,959.5l-6.6,4.1v-8.2zM672.8,959.5l-6.6,4.1v-8.2z" fill="none" stroke="#1a7faf" stroke-width="0.95"/>
<path d="M53.5,959.5 L62.43,959.5 L71.36,959.5 L80.28,939.4 L89.21,911.42 L98.14,876.8 L107.07,839.05 L115.99,817.02 L124.92,799.6 L133.85,801.14 L142.78,852.13 L151.7,859.87 L160.63,877.64 L169.56,916.33 L178.49,946.05 L187.41,959.5 L196.34,959.5 L205.27,959.5 L214.2,959.5 L223.12,959.5 L232.05,959.5 L240.98,959.5 L249.91,959.5 L258.83,959.5 L267.76,959.5 L276.69,959.5 L285.62,959.5 L294.54,937.32 L303.47,914.91 L312.4,870.61 L321.33,833.99 L330.25,801.45 L339.18,789.2 L348.11,807.68 L357.04,802.85 L365.96,827.66 L374.89,854.32 L383.82,883.89 L392.75,945.36 L401.67,959.5 L410.6,959.5 L419.53,959.5 L428.46,959.5 L437.38,959.5 L446.31,959.5 L455.24,959.5 L464.17,959.5 L473.09,959.5 L482.02,959.5 L490.95,959.5 L499.88,959.5 L508.8,937.43 L517.73,911.57 L526.66,859.45 L535.59,824.44 L544.51,794.7 L553.44,788.98 L562.37,782.52 L571.3,804.03 L580.22,819.65 L589.15,866 L598.08,907.95 L607.01,944.96 L615.93,959.5 L624.86,959.5 L633.79,959.5 L642.72,959.5 L651.64,959.5 L660.57,959.5 L669.5,959.5" fill="none" stroke="#ffcc00" stroke-width="0.85" stroke-linejoin="round"/>
<path d="M50.2,959.5l6.6,4.1v-8.2zM59.13,959.5l6.6,4.1v-8.2zM68.06,959.5l6.6,4.1v-8.2zM76.98,939.4l6.6,4.1v-8.2zM85.91,911.42l6.6,4.1v-8.2zM94.84,876.8l6.6,4.1v-8.2zM103.77,839.05l6.6,4.1v-8.2zM112.69,817.02l6.6,4.1v-8.2zM121.62,799.6l6.6,4.1v-8.2zM130.55,801.14l6.6,4.1v-8.2zM139.48,852.13l6.6,4.1v-8.2zM148.4,859.87l6.6,4.1v-8.2zM157.33,877.64l6.6,4.1v-8.2zM166.26,916.33l6.6,4.1v-8.2zM175.19,946.05l6.6,4.1v-8.2zM184.11,959.5l6.6,4.1v-8.2zM193.04,959.5l6.6,4.1v-8.2zM201.97,959.5l6.6,4.1v-8.2zM210.9,959.5l6.6,4.1v-8.2zM219.82,959.5l6.6,4.1v-8.2zM228.75,959.5l6.6,4.1v-8.2zM237.68,959.5l6.6,4.1v-8.2zM246.61,959.5l6.6,4.1v-8.2zM255.53,959.5l6.6,4.1v-8.2zM264.46,959.5l6.6,4.1v-8.2zM273.39,959.5l6.6,4.1v-8.2zM282.32,959.5l6.6,4.1v-8.2zM291.24,937.32l6.6,4.1v-8.2zM300.17,914.91l6.6,4.1v-8.2zM309.1,870.61l6.6,4.1v-8.2zM318.03,833.99l6.6,4.1v-8.2zM326.95,801.45l6.6,4.1v-8.2zM335.88,789.2l6.6,4.1v-8.2zM344.81,807.68l6.6,4.1v-8.2zM353.74,802.85l6.6,4.1v-8.2zM362.66,827.66l6.6,4.1v-8.2zM371.59,854.32l6.6,4.1v-8.2zM380.52,883.89l6.6,4.1v-8.2zM389.45,945.36l6.6,4.1v-8.2zM398.37,959.5l6.6,4.1v-8.2zM407.3,959.5l6.6,4.1v-8.2zM416.23,959.5l6.6,4.1v-8.2zM425.16,959.5l6.6,4.1v-8.2zM434.08,959.5l6.6,4.1v-8.2zM443.01,959.5l6.6,4.1v-8.2zM451.94,959.5l6.6,4.1v-8.2zM460.87,959.5l6.6,4.1v-8.2zM469.79,959.5l6.6,4.1v-8.2zM478.72,959.5l6.6,4.1v-8.2zM487.65,959.5l6.6,4.1v-8.2zM496.58,959.5l6.6,4.1v-8.2zM505.5,937.43l6.6,4.1v-8.2zM514.43,911.57l6.6,4.1v-8.2zM523.36,859.45l6.6,4.1v-8.2zM532.29,824.44l6.6,4.1v-8.2zM541.21,794.7l6.6,4.1v-8.2zM550.14,788.98l6.6,4.1v-8.2zM559.07,782.52l6.6,4.1v-8.2zM568,804.03l6.6,4.1v-8.2zM576.92,819.65l6.6,4.1v-8.2zM585.85,866l6.6,4.1v-8.2zM594.78,907.95l6.6,4.1v-8.2zM603.71,944.96l6.6,4.1v-8.2zM612.63,959.5l6.6,4.1v-8.2zM621.56,959.5l6.6,4.1v-8.2zM630.49,959.5l6.6,4.1v-8.2zM639.42,959.5l6.6,4.1v-8.2zM648.34,959.5l6.6,4.1v-8.2zM657.27,959.5l6.6,4.1v-8.2zM666.2,959.5l6.6,4.1v-8.2z" fill="none" stroke="#ffcc00" stroke-width="0.95"/>
<path d="M53.5,959.5 L62.43,959.5 L71.36,959.5 L80.28,939.56 L89.21,915 L98.14,879.16 L107.07,845.17 L115.99,823.96 L124.92,807.58 L133.85,810.6 L142.78,821.69 L151.7,843.35 L160.63,879.48 L169.56,915.26 L178.49,948.02 L187.41,959.5 L196.34,959.5 L205.27,959.5 L214.2,959.5 L223.12,959.5 L232.05,959.5 L240.98,959.5 L249.91,959.5 L258.83,959.5 L267.76,959.5 L276.69,959.5 L285.62,959.5 L294.54,938.82 L303.47,915.88 L312.4,877.79 L321.33,839.92 L330.25,806.18 L339.18,797.16 L348.11,797.82 L357.04,812.34 L365.96,835.88 L374.89,876.3 L383.82,914.42 L392.75,944.64 L401.67,959.5 L410.6,959.5 L419.53,959.5 L428.46,959.5 L437.38,959.5 L446.31,959.5 L455.24,959.5 L464.17,959.5 L473.09,959.5 L482.02,959.5 L490.95,959.5 L499.88,959.5 L508.8,938.49 L517.73,910.97 L526.66,867.36 L535.59,826.58 L544.51,800.47 L553.44,792.86 L562.37,796.16 L571.3,808.15 L580.22,828.51 L589.15,869.73 L598.08,907.61 L607.01,944.49 L615.93,959.5 L624.86,959.5 L633.79,959.5 L642.72,959.5 L651.64,959.5 L660.57,959.5 L669.5,959.5" fill="none" stroke="#9933dd" stroke-width="0.85" stroke-linejoin="round"/>
<path d="M53.5,955.5L54.53,958.08L57.3,958.26L55.16,960.04L55.85,962.74L53.5,961.25L51.15,962.74L51.84,960.04L49.7,958.26L52.47,958.08zM62.43,955.5L63.46,958.08L66.23,958.26L64.09,960.04L64.78,962.74L62.43,961.25L60.08,962.74L60.76,960.04L58.62,958.26L61.4,958.08zM71.36,955.5L72.38,958.08L75.16,958.26L73.02,960.04L73.71,962.74L71.36,961.25L69,962.74L69.69,960.04L67.55,958.26L70.33,958.08zM80.28,935.56L81.31,938.14L84.09,938.32L81.95,940.1L82.63,942.79L80.28,941.31L77.93,942.79L78.62,940.1L76.48,938.32L79.25,938.14zM89.21,911L90.24,913.58L93.01,913.76L90.87,915.54L91.56,918.23L89.21,916.75L86.86,918.23L87.55,915.54L85.41,913.76L88.18,913.58zM98.14,875.16L99.17,877.74L101.94,877.92L99.8,879.7L100.49,882.39L98.14,880.91L95.79,882.39L96.47,879.7L94.33,877.92L97.11,877.74zM107.07,841.17L108.09,843.76L110.87,843.94L108.73,845.71L109.42,848.41L107.07,846.92L104.71,848.41L105.4,845.71L103.26,843.94L106.04,843.76zM115.99,819.96L117.02,822.54L119.8,822.72L117.66,824.5L118.34,827.2L115.99,825.71L113.64,827.2L114.33,824.5L112.19,822.72L114.96,822.54zM124.92,803.58L125.95,806.17L128.72,806.35L126.58,808.12L127.27,810.82L124.92,809.33L122.57,810.82L123.26,808.12L121.12,806.35L123.89,806.17zM133.85,806.6L134.88,809.19L137.65,809.37L135.51,811.14L136.2,813.84L133.85,812.35L131.5,813.84L132.18,811.14L130.04,809.37L132.82,809.19zM142.78,817.69L143.8,820.28L146.58,820.45L144.44,822.23L145.13,824.93L142.78,823.44L140.42,824.93L141.11,822.23L138.97,820.45L141.75,820.28zM151.7,839.35L152.73,841.93L155.51,842.11L153.37,843.89L154.05,846.58L151.7,845.1L149.35,846.58L150.04,843.89L147.9,842.11L150.67,841.93zM160.63,875.48L161.66,878.06L164.43,878.24L162.29,880.02L162.98,882.71L160.63,881.23L158.28,882.71L158.97,880.02L156.83,878.24L159.6,878.06zM169.56,911.26L170.59,913.85L173.36,914.03L171.22,915.8L171.91,918.5L169.56,917.01L167.21,918.5L167.89,915.8L165.75,914.03L168.53,913.85zM178.49,944.02L179.51,946.6L182.29,946.78L180.15,948.56L180.84,951.26L178.49,949.77L176.13,951.26L176.82,948.56L174.68,946.78L177.46,946.6zM187.41,955.5L188.44,958.08L191.22,958.26L189.08,960.04L189.76,962.74L187.41,961.25L185.06,962.74L185.75,960.04L183.61,958.26L186.38,958.08zM196.34,955.5L197.37,958.08L200.14,958.26L198,960.04L198.69,962.74L196.34,961.25L193.99,962.74L194.68,960.04L192.54,958.26L195.31,958.08zM205.27,955.5L206.3,958.08L209.07,958.26L206.93,960.04L207.62,962.74L205.27,961.25L202.92,962.74L203.6,960.04L201.46,958.26L204.24,958.08zM214.2,955.5L215.22,958.08L218,958.26L215.86,960.04L216.55,962.74L214.2,961.25L211.84,962.74L212.53,960.04L210.39,958.26L213.17,958.08zM223.12,955.5L224.15,958.08L226.93,958.26L224.79,960.04L225.47,962.74L223.12,961.25L220.77,962.74L221.46,960.04L219.32,958.26L222.09,958.08zM232.05,955.5L233.08,958.08L235.85,958.26L233.72,960.04L234.4,962.74L232.05,961.25L229.7,962.74L230.39,960.04L228.25,958.26L231.02,958.08zM240.98,955.5L242.01,958.08L244.78,958.26L242.64,960.04L243.33,962.74L240.98,961.25L238.63,962.74L239.31,960.04L237.17,958.26L239.95,958.08zM249.91,955.5L250.93,958.08L253.71,958.26L251.57,960.04L252.26,962.74L249.91,961.25L247.55,962.74L248.24,960.04L246.1,958.26L248.88,958.08zM258.83,955.5L259.86,958.08L262.64,958.26L260.5,960.04L261.18,962.74L258.83,961.25L256.48,962.74L257.17,960.04L255.03,958.26L257.8,958.08zM267.76,955.5L268.79,958.08L271.57,958.26L269.43,960.04L270.11,962.74L267.76,961.25L265.41,962.74L266.1,960.04L263.96,958.26L266.73,958.08zM276.69,955.5L277.72,958.08L280.49,958.26L278.35,960.04L279.04,962.74L276.69,961.25L274.34,962.74L275.02,960.04L272.88,958.26L275.66,958.08zM285.62,955.5L286.64,958.08L289.42,958.26L287.28,960.04L287.97,962.74L285.62,961.25L283.26,962.74L283.95,960.04L281.81,958.26L284.59,958.08zM294.54,934.82L295.57,937.4L298.35,937.58L296.21,939.36L296.89,942.06L294.54,940.57L292.19,942.06L292.88,939.36L290.74,937.58L293.51,937.4zM303.47,911.88L304.5,914.47L307.28,914.65L305.14,916.42L305.82,919.12L303.47,917.63L301.12,919.12L301.81,916.42L299.67,914.65L302.44,914.47zM312.4,873.79L313.43,876.37L316.2,876.55L314.06,878.33L314.75,881.02L312.4,879.54L310.05,881.02L310.73,878.33L308.59,876.55L311.37,876.37zM321.33,835.92L322.35,838.5L325.13,838.68L322.99,840.46L323.68,843.15L321.33,841.67L318.97,843.15L319.66,840.46L317.52,838.68L320.3,838.5zM330.25,802.18L331.28,804.76L334.06,804.94L331.92,806.72L332.6,809.42L330.25,807.93L327.9,809.42L328.59,806.72L326.45,804.94L329.22,804.76zM339.18,793.16L340.21,795.75L342.99,795.92L340.85,797.7L341.53,800.4L339.18,798.91L336.83,800.4L337.52,797.7L335.38,795.92L338.15,795.75zM348.11,793.82L349.14,796.4L351.91,796.58L349.77,798.36L350.46,801.05L348.11,799.57L345.76,801.05L346.44,798.36L344.3,796.58L347.08,796.4zM357.04,808.34L358.06,810.92L360.84,811.1L358.7,812.88L359.39,815.58L357.04,814.09L354.69,815.58L355.37,812.88L353.23,811.1L356.01,810.92zM365.96,831.88L366.99,834.46L369.77,834.64L367.63,836.42L368.31,839.11L365.96,837.63L363.61,839.11L364.3,836.42L362.16,834.64L364.94,834.46zM374.89,872.3L375.92,874.88L378.7,875.06L376.56,876.84L377.24,879.53L374.89,878.05L372.54,879.53L373.23,876.84L371.09,875.06L373.86,874.88zM383.82,910.42L384.85,913.01L387.62,913.19L385.48,914.96L386.17,917.66L383.82,916.17L381.47,917.66L382.15,914.96L380.01,913.19L382.79,913.01zM392.75,940.64L393.78,943.22L396.55,943.4L394.41,945.18L395.1,947.87L392.75,946.39L390.4,947.87L391.08,945.18L388.94,943.4L391.72,943.22zM401.67,955.5L402.7,958.08L405.48,958.26L403.34,960.04L404.03,962.74L401.67,961.25L399.32,962.74L400.01,960.04L397.87,958.26L400.65,958.08zM410.6,955.5L411.63,958.08L414.41,958.26L412.27,960.04L412.95,962.74L410.6,961.25L408.25,962.74L408.94,960.04L406.8,958.26L409.57,958.08zM419.53,955.5L420.56,958.08L423.33,958.26L421.19,960.04L421.88,962.74L419.53,961.25L417.18,962.74L417.86,960.04L415.72,958.26L418.5,958.08zM428.46,955.5L429.49,958.08L432.26,958.26L430.12,960.04L430.81,962.74L428.46,961.25L426.11,962.74L426.79,960.04L424.65,958.26L427.43,958.08zM437.38,955.5L438.41,958.08L441.19,958.26L439.05,960.04L439.74,962.74L437.38,961.25L435.03,962.74L435.72,960.04L433.58,958.26L436.36,958.08zM446.31,955.5L447.34,958.08L450.12,958.26L447.98,960.04L448.66,962.74L446.31,961.25L443.96,962.74L444.65,960.04L442.51,958.26L445.28,958.08zM455.24,955.5L456.27,958.08L459.04,958.26L456.9,960.04L457.59,962.74L455.24,961.25L452.89,962.74L453.57,960.04L451.43,958.26L454.21,958.08zM464.17,955.5L465.2,958.08L467.97,958.26L465.83,960.04L466.52,962.74L464.17,961.25L461.82,962.74L462.5,960.04L460.36,958.26L463.14,958.08zM473.09,955.5L474.12,958.08L476.9,958.26L474.76,960.04L475.45,962.74L473.09,961.25L470.74,962.74L471.43,960.04L469.29,958.26L472.07,958.08zM482.02,955.5L483.05,958.08L485.83,958.26L483.69,960.04L484.37,962.74L482.02,961.25L479.67,962.74L480.36,960.04L478.22,958.26L480.99,958.08zM490.95,955.5L491.98,958.08L494.75,958.26L492.61,960.04L493.3,962.74L490.95,961.25L488.6,962.74L489.28,960.04L487.15,958.26L489.92,958.08zM499.88,955.5L500.91,958.08L503.68,958.26L501.54,960.04L502.23,962.74L499.88,961.25L497.53,962.74L498.21,960.04L496.07,958.26L498.85,958.08zM508.8,934.49L509.83,937.08L512.61,937.26L510.47,939.04L511.16,941.73L508.8,940.24L506.45,941.73L507.14,939.04L505,937.26L507.78,937.08zM517.73,906.97L518.76,909.56L521.54,909.74L519.4,911.51L520.08,914.21L517.73,912.72L515.38,914.21L516.07,911.51L513.93,909.74L516.7,909.56zM526.66,863.36L527.69,865.94L530.46,866.12L528.32,867.9L529.01,870.59L526.66,869.11L524.31,870.59L525,867.9L522.86,866.12L525.63,865.94zM535.59,822.58L536.62,825.16L539.39,825.34L537.25,827.12L537.94,829.81L535.59,828.33L533.24,829.81L533.92,827.12L531.78,825.34L534.56,825.16zM544.51,796.47L545.54,799.05L548.32,799.23L546.18,801.01L546.87,803.7L544.51,802.22L542.16,803.7L542.85,801.01L540.71,799.23L543.49,799.05zM553.44,788.86L554.47,791.45L557.25,791.63L555.11,793.4L555.79,796.1L553.44,794.61L551.09,796.1L551.78,793.4L549.64,791.63L552.41,791.45zM562.37,792.16L563.4,794.74L566.17,794.92L564.03,796.7L564.72,799.4L562.37,797.91L560.02,799.4L560.71,796.7L558.57,794.92L561.34,794.74zM571.3,804.15L572.33,806.74L575.1,806.92L572.96,808.69L573.65,811.39L571.3,809.9L568.95,811.39L569.63,808.69L567.49,806.92L570.27,806.74zM580.22,824.51L581.25,827.09L584.03,827.27L581.89,829.05L582.58,831.74L580.22,830.26L577.87,831.74L578.56,829.05L576.42,827.27L579.2,827.09zM589.15,865.73L590.18,868.32L592.96,868.5L590.82,870.28L591.5,872.97L589.15,871.48L586.8,872.97L587.49,870.28L585.35,868.5L588.12,868.32zM598.08,903.61L599.11,906.19L601.88,906.37L599.74,908.15L600.43,910.84L598.08,909.36L595.73,910.84L596.42,908.15L594.28,906.37L597.05,906.19zM607.01,940.49L608.04,943.07L610.81,943.25L608.67,945.03L609.36,947.73L607.01,946.24L604.66,947.73L605.34,945.03L603.2,943.25L605.98,943.07zM615.93,955.5L616.96,958.08L619.74,958.26L617.6,960.04L618.29,962.74L615.93,961.25L613.58,962.74L614.27,960.04L612.13,958.26L614.91,958.08zM624.86,955.5L625.89,958.08L628.67,958.26L626.53,960.04L627.21,962.74L624.86,961.25L622.51,962.74L623.2,960.04L621.06,958.26L623.83,958.08zM633.79,955.5L634.82,958.08L637.59,958.26L635.45,960.04L636.14,962.74L633.79,961.25L631.44,962.74L632.13,960.04L629.99,958.26L632.76,958.08zM642.72,955.5L643.75,958.08L646.52,958.26L644.38,960.04L645.07,962.74L642.72,961.25L640.37,962.74L641.05,960.04L638.91,958.26L641.69,958.08zM651.64,955.5L652.67,958.08L655.45,958.26L653.31,960.04L654,962.74L651.64,961.25L649.29,962.74L649.98,960.04L647.84,958.26L650.62,958.08zM660.57,955.5L661.6,958.08L664.38,958.26L662.24,960.04L662.92,962.74L660.57,961.25L658.22,962.74L658.91,960.04L656.77,958.26L659.54,958.08zM669.5,955.5L670.53,958.08L673.3,958.26L671.16,960.04L671.85,962.74L669.5,961.25L667.15,962.74L667.84,960.04L665.7,958.26L668.47,958.08z" fill="#9933dd" fill-opacity="0.35" stroke="#9933dd" stroke-width="1.0" stroke-linejoin="round"/>
</g>
<g fill="#111"><text x="133.85" y="974.3" font-size="10.4" text-anchor="middle" textLength="24.29" lengthAdjust="spacingAndGlyphs">5010</text><text x="223.12" y="974.3" font-size="10.4" text-anchor="middle" textLength="24.29" lengthAdjust="spacingAndGlyphs">5020</text><text x="312.4" y="974.3" font-size="10.4" text-anchor="middle" textLength="24.29" lengthAdjust="spacingAndGlyphs">5030</text><text x="401.67" y="974.3" font-size="10.4" text-anchor="middle" textLength="24.29" lengthAdjust="spacingAndGlyphs">5040</text><text x="490.95" y="974.3" font-size="10.4" text-anchor="middle" textLength="24.29" lengthAdjust="spacingAndGlyphs">5050</text><text x="580.22" y="974.3" font-size="10.4" text-anchor="middle" textLength="24.29" lengthAdjust="spacingAndGlyphs">5060</text><text x="669.5" y="974.3" font-size="10.4" text-anchor="middle" textLength="24.29" lengthAdjust="spacingAndGlyphs">5070</text><text x="48.5" y="963.2" font-size="10.4" text-anchor="end" textLength="6.07" lengthAdjust="spacingAndGlyphs">0</text><text x="48.5" y="923.51" font-size="10.4" text-anchor="end" textLength="18.22" lengthAdjust="spacingAndGlyphs">200</text><text x="48.5" y="883.82" font-size="10.4" text-anchor="end" textLength="18.22" lengthAdjust="spacingAndGlyphs">400</text><text x="48.5" y="844.12" font-size="10.4" text-anchor="end" textLength="18.22" lengthAdjust="spacingAndGlyphs">600</text><text x="48.5" y="804.43" font-size="10.4" text-anchor="end" textLength="18.22" lengthAdjust="spacingAndGlyphs">800</text><text x="48.5" y="764.74" font-size="10.4" text-anchor="end" textLength="24.29" lengthAdjust="spacingAndGlyphs">1000</text><text x="48.5" y="725.05" font-size="10.4" text-anchor="end" textLength="24.29" lengthAdjust="spacingAndGlyphs">1200</text></g>
<g fill="#111"><text x="361.5" y="988.7" font-size="10.5" text-anchor="middle" textLength="65.2" lengthAdjust="spacingAndGlyphs">Time [Hours]</text></g>
<text transform="translate(18.8,831.3) rotate(-90)" text-anchor="middle" font-size="11.05" fill="#111">Global Solar Radiation [W/m<tspan font-size="9.28" dy="-5.75" dx="0.3">2</tspan><tspan dy="5.75" dx="0.3">]</tspan></text>
<rect x="186.3" y="709.5" width="474.7" height="27.4" fill="#fff" stroke="#666" stroke-width="1"/>
<path d="M189.7,717.4h31.5" stroke="#000000" stroke-width="0.6" stroke-opacity="0.75"/>
<path d="M202.15,717.4a3.3,3.3 0 1,0 6.6,0a3.3,3.3 0 1,0 -6.6,0" fill="none" stroke="#000000" stroke-width="0.95"/>
<text x="224.8" y="720.86" font-size="9.6" fill="#000">Real Data</text>
<path d="M274.6,717.4h31.5" stroke="#0000ff" stroke-width="0.6" stroke-opacity="0.75"/>
<path d="M286.75,717.4h7.2M290.35,713.8v7.2M287.75,714.8l5.2,5.2M287.75,720l5.2,-5.2" fill="none" stroke="#0000ff" stroke-width="0.95"/>
<text x="308.5" y="720.86" font-size="9.6" fill="#000">CNN</text>
<path d="M360.4,717.4h31.5" stroke="#f0883c" stroke-width="0.6" stroke-opacity="0.75"/>
<path d="M373.25,714.5h5.8v5.8h-5.8z" fill="none" stroke="#f0883c" stroke-width="0.95"/>
<text x="394.6" y="720.86" font-size="9.6" fill="#000">CNN-LSTM-ANN</text>
<path d="M474.6,717.4h31.5" stroke="#ffff00" stroke-width="0.6" stroke-opacity="0.75"/>
<path d="M490.35,714.1l4.1,6.6h-8.2z" fill="none" stroke="#ffff00" stroke-width="0.95"/>
<text x="509" y="720.86" font-size="9.6" fill="#000">LSTM</text>
<path d="M542.2,717.4h31.5" stroke="#1a7faf" stroke-width="0.6" stroke-opacity="0.75"/>
<path d="M561.25,717.4l-6.6,4.1v-8.2z" fill="none" stroke="#1a7faf" stroke-width="0.95"/>
<text x="576.3" y="720.86" font-size="9.6" fill="#000">PLR</text>
<path d="M602.7,717.4h31.5" stroke="#9933dd" stroke-width="0.6" stroke-opacity="0.75"/>
<path d="M618.45,713.4L619.48,715.98L622.25,716.16L620.11,717.94L620.8,720.64L618.45,719.15L616.1,720.64L616.79,717.94L614.65,716.16L617.42,715.98z" fill="#9933dd" fill-opacity="0.35" stroke="#9933dd" stroke-width="1.0" stroke-linejoin="round"/>
<text x="637.1" y="720.86" font-size="9.6" fill="#000">XGB</text>
<path d="M189.7,729.4h31.5" stroke="#ff0000" stroke-width="0.6" stroke-opacity="0.75"/>
<path d="M201.85,729.4h7.2M205.45,725.8v7.2" fill="none" stroke="#ff0000" stroke-width="0.95"/>
<text x="224.8" y="732.86" font-size="9.6" fill="#000">ANN</text>
<path d="M274.6,729.4h31.5" stroke="#00e000" stroke-width="0.6" stroke-opacity="0.75"/>
<circle cx="290.35" cy="729.4" r="1.1" fill="#00e000"/>
<text x="308.5" y="732.86" font-size="9.6" fill="#000">CNN-ANN</text>
<path d="M360.4,729.4h31.5" stroke="#77ac30" stroke-width="0.6" stroke-opacity="0.75"/>
<path d="M376.15,725.4l3.5,4l-3.5,4l-3.5,-4z" fill="none" stroke="#77ac30" stroke-width="0.95"/>
<text x="394.6" y="732.86" font-size="9.6" fill="#000">DTR</text>
<path d="M474.6,729.4h31.5" stroke="#9e7a2e" stroke-width="0.6" stroke-opacity="0.75"/>
<path d="M490.35,732.7l4.1,-6.6h-8.2z" fill="none" stroke="#9e7a2e" stroke-width="0.95"/>
<text x="509" y="732.86" font-size="9.6" fill="#000">MLR</text>
<path d="M542.2,729.4h31.5" stroke="#ffcc00" stroke-width="0.6" stroke-opacity="0.75"/>
<path d="M554.65,729.4l6.6,4.1v-8.2z" fill="none" stroke="#ffcc00" stroke-width="0.95"/>
<text x="576.3" y="732.86" font-size="9.6" fill="#000">RFR</text>
<g class="cap"><text x="182.4" y="321.2">a.</text><text x="199.3" y="321.2" textLength="324.2" lengthAdjust="spacingAndGlyphs">Algeria GSR hourly prediction performance plot for three days</text><text x="165.0" y="666.6">b.</text><text x="180.5" y="666.6" textLength="362.2" lengthAdjust="spacingAndGlyphs">Nigeria_Borno DSR hourly prediction performance plot for three days</text><text x="192.4" y="1006.6" textLength="38.8" lengthAdjust="spacingAndGlyphs">c. CAR</text><text x="238.3" y="1006.6" textLength="288.8" lengthAdjust="spacingAndGlyphs">GSR hourly prediction performance plot for three days</text></g>
</svg>
</body></html>
